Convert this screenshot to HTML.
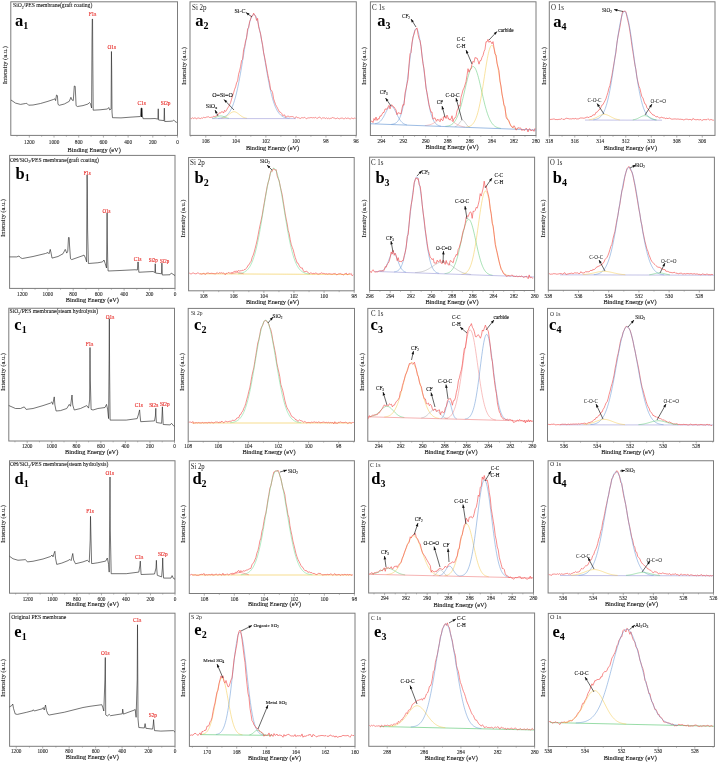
<!DOCTYPE html>
<html><head><meta charset="utf-8"><style>
html,body{margin:0;padding:0;background:#fff;}
svg{display:block;will-change:transform;}
text{font-family:"Liberation Serif", serif;}
</style></head><body>
<svg xmlns="http://www.w3.org/2000/svg" width="719" height="763" viewBox="0 0 719 763">
<rect x="0" y="0" width="719" height="763" fill="#fff"/>
<rect x="10.8" y="1.8" width="166.7" height="133.6" fill="none" stroke="#7c7c7c" stroke-width="1"/>
<line x1="29.32" y1="135.4" x2="29.32" y2="137.6" stroke="#7c7c7c" stroke-width="0.6"/>
<text x="0" y="0" transform="translate(29.32,144.3) scale(0.82,1)" font-size="6.4" text-anchor="middle" font-weight="normal" font-family='"Liberation Serif", serif' fill="#222" stroke="#222" stroke-width="0.1">1200</text>
<line x1="16.97" y1="135.4" x2="16.97" y2="136.8" stroke="#7c7c7c" stroke-width="0.5"/>
<line x1="54.02" y1="135.4" x2="54.02" y2="137.6" stroke="#7c7c7c" stroke-width="0.6"/>
<text x="0" y="0" transform="translate(54.02,144.3) scale(0.82,1)" font-size="6.4" text-anchor="middle" font-weight="normal" font-family='"Liberation Serif", serif' fill="#222" stroke="#222" stroke-width="0.1">1000</text>
<line x1="41.67" y1="135.4" x2="41.67" y2="136.8" stroke="#7c7c7c" stroke-width="0.5"/>
<line x1="78.71" y1="135.4" x2="78.71" y2="137.6" stroke="#7c7c7c" stroke-width="0.6"/>
<text x="0" y="0" transform="translate(78.71,144.3) scale(0.82,1)" font-size="6.4" text-anchor="middle" font-weight="normal" font-family='"Liberation Serif", serif' fill="#222" stroke="#222" stroke-width="0.1">800</text>
<line x1="66.37" y1="135.4" x2="66.37" y2="136.8" stroke="#7c7c7c" stroke-width="0.5"/>
<line x1="103.41" y1="135.4" x2="103.41" y2="137.6" stroke="#7c7c7c" stroke-width="0.6"/>
<text x="0" y="0" transform="translate(103.41,144.3) scale(0.82,1)" font-size="6.4" text-anchor="middle" font-weight="normal" font-family='"Liberation Serif", serif' fill="#222" stroke="#222" stroke-width="0.1">600</text>
<line x1="91.06" y1="135.4" x2="91.06" y2="136.8" stroke="#7c7c7c" stroke-width="0.5"/>
<line x1="128.11" y1="135.4" x2="128.11" y2="137.6" stroke="#7c7c7c" stroke-width="0.6"/>
<text x="0" y="0" transform="translate(128.11,144.3) scale(0.82,1)" font-size="6.4" text-anchor="middle" font-weight="normal" font-family='"Liberation Serif", serif' fill="#222" stroke="#222" stroke-width="0.1">400</text>
<line x1="115.76" y1="135.4" x2="115.76" y2="136.8" stroke="#7c7c7c" stroke-width="0.5"/>
<line x1="152.8" y1="135.4" x2="152.8" y2="137.6" stroke="#7c7c7c" stroke-width="0.6"/>
<text x="0" y="0" transform="translate(152.8,144.3) scale(0.82,1)" font-size="6.4" text-anchor="middle" font-weight="normal" font-family='"Liberation Serif", serif' fill="#222" stroke="#222" stroke-width="0.1">200</text>
<line x1="140.46" y1="135.4" x2="140.46" y2="136.8" stroke="#7c7c7c" stroke-width="0.5"/>
<line x1="177.5" y1="135.4" x2="177.5" y2="137.6" stroke="#7c7c7c" stroke-width="0.6"/>
<text x="0" y="0" transform="translate(177.5,144.3) scale(0.82,1)" font-size="6.4" text-anchor="middle" font-weight="normal" font-family='"Liberation Serif", serif' fill="#222" stroke="#222" stroke-width="0.1">0</text>
<line x1="165.15" y1="135.4" x2="165.15" y2="136.8" stroke="#7c7c7c" stroke-width="0.5"/>
<text x="0" y="0" transform="translate(94.15,152.3) scale(0.89,1)" font-size="7.1" text-anchor="middle" font-weight="normal" font-family='"Liberation Serif", serif' fill="#111" stroke="#111" stroke-width="0.12">Binding Energy (eV)</text>
<text x="0" y="0" font-size="6.5" text-anchor="middle" font-family='"Liberation Serif", serif' fill="#222" stroke="#222" stroke-width="0.12" transform="translate(7.4,65.2) rotate(-90) scale(1,0.92)">Intensity (a.u.)</text>
<text x="15.1" y="25.9" font-size="16.5" font-weight="bold" font-family='"Liberation Serif", serif' fill="#000">a<tspan font-size="10" dy="2.8">1</tspan></text>
<text x="0" y="0" transform="translate(13,7.4) scale(0.91,1)" font-size="6.2" font-family='"Liberation Serif", serif' fill="#111" stroke="#111" stroke-width="0.08">SiO<tspan font-size="4.03" dy="1.3">2</tspan><tspan dy="-1.3">/PES membrane(graft coating)</tspan></text>
<polyline points="11,100 15.5,103.1 20.5,104.4 25.5,103.5 26.8,103.3 28.6,105.2 33,105 40.5,103.5 48,101.3 53.6,99.4 54.9,98.8 55.6,100.6 56.5,95 57.4,95.6 58,104.4 59.3,105.3 64.3,104 69.3,101.3 70.9,97.3 72,100 73.3,100.6 74.3,86 75.2,86.3 76.1,105.6 77.4,106.5 83,105.6 88,104 89.5,102.5 90.5,103.8 91.6,108 92,40 92.25,19 92.55,19 92.8,60 93.2,110.2 100,109.8 107.5,109 108.75,107.5 109.75,110 111.1,109 111.45,51.5 111.7,70 112,112 112.5,117.7 121,117.9 130,117.2 140.5,116.5 141,108.2 142,108.2 142.4,116 143.1,118.7 150,118.7 155,118.5 157.9,119.1 158.25,108.8 158.6,120 164,120.6 164.35,108.1 164.7,121.5 170,121.3 172.5,121 173.75,120 175,121.5 176.9,122.5" fill="none" stroke="#2a2a2a" stroke-width="0.65" stroke-linejoin="round" opacity="1.0"/>
<rect x="141" y="108.2" width="1.1" height="8.8" fill="#111"/>
<text x="0" y="0" font-size="6.2" text-anchor="middle" font-family='"Liberation Serif", serif' fill="#e8322e" stroke="#e8322e" stroke-width="0.18" transform="translate(92.5,16.3) scale(0.85,1)">F1s</text>
<text x="0" y="0" font-size="6.2" text-anchor="middle" font-family='"Liberation Serif", serif' fill="#e8322e" stroke="#e8322e" stroke-width="0.18" transform="translate(111.8,48.8) scale(0.85,1)">O1s</text>
<text x="0" y="0" font-size="6.2" text-anchor="middle" font-family='"Liberation Serif", serif' fill="#e8322e" stroke="#e8322e" stroke-width="0.18" transform="translate(141.6,105.3) scale(0.85,1)">C1s</text>
<text x="0" y="0" font-size="6.2" text-anchor="middle" font-family='"Liberation Serif", serif' fill="#e8322e" stroke="#e8322e" stroke-width="0.18" transform="translate(165.6,105.3) scale(0.85,1)">Si2p</text>
<rect x="9.6" y="155.4" width="165.4" height="133" fill="none" stroke="#7c7c7c" stroke-width="1"/>
<line x1="22.32" y1="288.4" x2="22.32" y2="290.6" stroke="#7c7c7c" stroke-width="0.6"/>
<text x="0" y="0" transform="translate(22.32,295.7) scale(0.82,1)" font-size="6.4" text-anchor="middle" font-weight="normal" font-family='"Liberation Serif", serif' fill="#222" stroke="#222" stroke-width="0.1">1200</text>
<line x1="47.77" y1="288.4" x2="47.77" y2="290.6" stroke="#7c7c7c" stroke-width="0.6"/>
<text x="0" y="0" transform="translate(47.77,295.7) scale(0.82,1)" font-size="6.4" text-anchor="middle" font-weight="normal" font-family='"Liberation Serif", serif' fill="#222" stroke="#222" stroke-width="0.1">1000</text>
<line x1="35.05" y1="288.4" x2="35.05" y2="289.8" stroke="#7c7c7c" stroke-width="0.5"/>
<line x1="73.22" y1="288.4" x2="73.22" y2="290.6" stroke="#7c7c7c" stroke-width="0.6"/>
<text x="0" y="0" transform="translate(73.22,295.7) scale(0.82,1)" font-size="6.4" text-anchor="middle" font-weight="normal" font-family='"Liberation Serif", serif' fill="#222" stroke="#222" stroke-width="0.1">800</text>
<line x1="60.49" y1="288.4" x2="60.49" y2="289.8" stroke="#7c7c7c" stroke-width="0.5"/>
<line x1="98.66" y1="288.4" x2="98.66" y2="290.6" stroke="#7c7c7c" stroke-width="0.6"/>
<text x="0" y="0" transform="translate(98.66,295.7) scale(0.82,1)" font-size="6.4" text-anchor="middle" font-weight="normal" font-family='"Liberation Serif", serif' fill="#222" stroke="#222" stroke-width="0.1">600</text>
<line x1="85.94" y1="288.4" x2="85.94" y2="289.8" stroke="#7c7c7c" stroke-width="0.5"/>
<line x1="124.11" y1="288.4" x2="124.11" y2="290.6" stroke="#7c7c7c" stroke-width="0.6"/>
<text x="0" y="0" transform="translate(124.11,295.7) scale(0.82,1)" font-size="6.4" text-anchor="middle" font-weight="normal" font-family='"Liberation Serif", serif' fill="#222" stroke="#222" stroke-width="0.1">400</text>
<line x1="111.38" y1="288.4" x2="111.38" y2="289.8" stroke="#7c7c7c" stroke-width="0.5"/>
<line x1="149.55" y1="288.4" x2="149.55" y2="290.6" stroke="#7c7c7c" stroke-width="0.6"/>
<text x="0" y="0" transform="translate(149.55,295.7) scale(0.82,1)" font-size="6.4" text-anchor="middle" font-weight="normal" font-family='"Liberation Serif", serif' fill="#222" stroke="#222" stroke-width="0.1">200</text>
<line x1="136.83" y1="288.4" x2="136.83" y2="289.8" stroke="#7c7c7c" stroke-width="0.5"/>
<line x1="175" y1="288.4" x2="175" y2="290.6" stroke="#7c7c7c" stroke-width="0.6"/>
<text x="0" y="0" transform="translate(175,295.7) scale(0.82,1)" font-size="6.4" text-anchor="middle" font-weight="normal" font-family='"Liberation Serif", serif' fill="#222" stroke="#222" stroke-width="0.1">0</text>
<line x1="162.28" y1="288.4" x2="162.28" y2="289.8" stroke="#7c7c7c" stroke-width="0.5"/>
<text x="0" y="0" transform="translate(92.3,302.3) scale(0.89,1)" font-size="7.1" text-anchor="middle" font-weight="normal" font-family='"Liberation Serif", serif' fill="#111" stroke="#111" stroke-width="0.12">Binding Energy (eV)</text>
<text x="0" y="0" font-size="6.5" text-anchor="middle" font-family='"Liberation Serif", serif' fill="#222" stroke="#222" stroke-width="0.12" transform="translate(5.3,218) rotate(-90) scale(1,0.92)">Intensity (a.u.)</text>
<text x="15.6" y="178.5" font-size="16.5" font-weight="bold" font-family='"Liberation Serif", serif' fill="#000">b<tspan font-size="10" dy="2.8">1</tspan></text>
<text x="0" y="0" transform="translate(10,161.8) scale(0.91,1)" font-size="6.2" font-family='"Liberation Serif", serif' fill="#111" stroke="#111" stroke-width="0.08">OH/SiO<tspan font-size="4.03" dy="1.3">2</tspan><tspan dy="-1.3">/PES membrane(graft coating)</tspan></text>
<polyline points="9.5,256.9 16.75,256.9 19,256 20.5,257.75 22.4,258.5 33,256.5 45.5,253.5 48,252.5 49,253.75 50.25,249.4 51.1,253.1 52,258.1 58,256.5 63,253.75 65.25,249.4 66.75,253.1 67.75,251.25 68.5,237.5 69.2,237.5 69.5,245 70.5,258.75 71.75,259.6 83,255.6 84,255 85.5,258.1 86.6,261.9 86.9,200 87.1,175 87.35,190 87.6,230 88.4,263.5 97.9,262.75 102.5,261.9 104,260 105.25,263.75 106.5,268 106.85,240 107.1,213 107.35,240 107.7,260 108.1,271 120,270.5 135,269.75 137.4,270 137.8,262 138.3,262 138.8,272.25 153.1,271.5 154.9,272.5 155.25,263.75 155.6,273.1 161.5,273.75 161.9,263.1 162.3,275 170,274.75 171.25,273.1 175,275.6" fill="none" stroke="#2a2a2a" stroke-width="0.65" stroke-linejoin="round" opacity="1.0"/>
<text x="0" y="0" font-size="5.8" text-anchor="middle" font-family='"Liberation Serif", serif' fill="#e8322e" stroke="#e8322e" stroke-width="0.18" transform="translate(87.2,174.8) scale(0.85,1)">F1s</text>
<text x="0" y="0" font-size="5.8" text-anchor="middle" font-family='"Liberation Serif", serif' fill="#e8322e" stroke="#e8322e" stroke-width="0.18" transform="translate(106.5,212.8) scale(0.85,1)">O1s</text>
<text x="0" y="0" font-size="5.8" text-anchor="middle" font-family='"Liberation Serif", serif' fill="#e8322e" stroke="#e8322e" stroke-width="0.18" transform="translate(137.5,261.2) scale(0.85,1)">C1s</text>
<text x="0" y="0" font-size="5.8" text-anchor="middle" font-family='"Liberation Serif", serif' fill="#e8322e" stroke="#e8322e" stroke-width="0.18" transform="translate(153.2,262.2) scale(0.85,1)">Si2p</text>
<text x="0" y="0" font-size="5.8" text-anchor="middle" font-family='"Liberation Serif", serif' fill="#e8322e" stroke="#e8322e" stroke-width="0.18" transform="translate(164.6,262.5) scale(0.85,1)">Si2p</text>
<rect x="8.8" y="308.25" width="165.7" height="132.75" fill="none" stroke="#7c7c7c" stroke-width="1"/>
<line x1="27.21" y1="441" x2="27.21" y2="443.2" stroke="#7c7c7c" stroke-width="0.6"/>
<text x="0" y="0" transform="translate(27.21,448.2) scale(0.82,1)" font-size="6.4" text-anchor="middle" font-weight="normal" font-family='"Liberation Serif", serif' fill="#222" stroke="#222" stroke-width="0.1">1200</text>
<line x1="14.94" y1="441" x2="14.94" y2="442.4" stroke="#7c7c7c" stroke-width="0.5"/>
<line x1="51.76" y1="441" x2="51.76" y2="443.2" stroke="#7c7c7c" stroke-width="0.6"/>
<text x="0" y="0" transform="translate(51.76,448.2) scale(0.82,1)" font-size="6.4" text-anchor="middle" font-weight="normal" font-family='"Liberation Serif", serif' fill="#222" stroke="#222" stroke-width="0.1">1000</text>
<line x1="39.49" y1="441" x2="39.49" y2="442.4" stroke="#7c7c7c" stroke-width="0.5"/>
<line x1="76.31" y1="441" x2="76.31" y2="443.2" stroke="#7c7c7c" stroke-width="0.6"/>
<text x="0" y="0" transform="translate(76.31,448.2) scale(0.82,1)" font-size="6.4" text-anchor="middle" font-weight="normal" font-family='"Liberation Serif", serif' fill="#222" stroke="#222" stroke-width="0.1">800</text>
<line x1="64.03" y1="441" x2="64.03" y2="442.4" stroke="#7c7c7c" stroke-width="0.5"/>
<line x1="100.86" y1="441" x2="100.86" y2="443.2" stroke="#7c7c7c" stroke-width="0.6"/>
<text x="0" y="0" transform="translate(100.86,448.2) scale(0.82,1)" font-size="6.4" text-anchor="middle" font-weight="normal" font-family='"Liberation Serif", serif' fill="#222" stroke="#222" stroke-width="0.1">600</text>
<line x1="88.58" y1="441" x2="88.58" y2="442.4" stroke="#7c7c7c" stroke-width="0.5"/>
<line x1="125.4" y1="441" x2="125.4" y2="443.2" stroke="#7c7c7c" stroke-width="0.6"/>
<text x="0" y="0" transform="translate(125.4,448.2) scale(0.82,1)" font-size="6.4" text-anchor="middle" font-weight="normal" font-family='"Liberation Serif", serif' fill="#222" stroke="#222" stroke-width="0.1">400</text>
<line x1="113.13" y1="441" x2="113.13" y2="442.4" stroke="#7c7c7c" stroke-width="0.5"/>
<line x1="149.95" y1="441" x2="149.95" y2="443.2" stroke="#7c7c7c" stroke-width="0.6"/>
<text x="0" y="0" transform="translate(149.95,448.2) scale(0.82,1)" font-size="6.4" text-anchor="middle" font-weight="normal" font-family='"Liberation Serif", serif' fill="#222" stroke="#222" stroke-width="0.1">200</text>
<line x1="137.68" y1="441" x2="137.68" y2="442.4" stroke="#7c7c7c" stroke-width="0.5"/>
<line x1="174.5" y1="441" x2="174.5" y2="443.2" stroke="#7c7c7c" stroke-width="0.6"/>
<text x="0" y="0" transform="translate(174.5,448.2) scale(0.82,1)" font-size="6.4" text-anchor="middle" font-weight="normal" font-family='"Liberation Serif", serif' fill="#222" stroke="#222" stroke-width="0.1">0</text>
<line x1="162.23" y1="441" x2="162.23" y2="442.4" stroke="#7c7c7c" stroke-width="0.5"/>
<text x="0" y="0" transform="translate(91.65,454.1) scale(0.89,1)" font-size="7.1" text-anchor="middle" font-weight="normal" font-family='"Liberation Serif", serif' fill="#111" stroke="#111" stroke-width="0.12">Binding Energy (eV)</text>
<text x="0" y="0" font-size="6.5" text-anchor="middle" font-family='"Liberation Serif", serif' fill="#222" stroke="#222" stroke-width="0.12" transform="translate(4.8,372) rotate(-90) scale(1,0.92)">Intensity (a.u.)</text>
<text x="14.3" y="329.8" font-size="16.5" font-weight="bold" font-family='"Liberation Serif", serif' fill="#000">c<tspan font-size="10" dy="2.8">1</tspan></text>
<text x="0" y="0" transform="translate(9.5,313.3) scale(0.91,1)" font-size="6.2" font-family='"Liberation Serif", serif' fill="#111" stroke="#111" stroke-width="0.08">SiO<tspan font-size="4.03" dy="1.3">2</tspan><tspan dy="-1.3">/PES membrane(steam hydrolysis)</tspan></text>
<polyline points="8.75,405.5 15.5,408.5 20.5,408.5 24.25,406.9 26.1,409.4 33,408.5 43,405.6 50.5,403.1 51.75,401.9 52.75,404.4 54.25,396.9 54.9,405 56.1,411 60.5,410.6 66.75,408.5 69.25,404.4 70.5,406.25 72,395 72.75,405 74.25,410 80.5,408.5 86.75,405.6 88.6,408.1 89.6,400 90,347.5 90.3,380 91.1,409.4 93,410 97.9,408.5 105,407.5 106.5,404.4 107.6,409.1 108.6,418.6 109.1,360 109.35,318.7 109.6,370 110.1,420.1 126.2,420.1 137.2,418.6 138.6,414 139.6,409.9 140,415 140.7,421.7 154.5,420.9 155.4,416 155.8,408.3 156,416 156.4,422.5 161.6,423.3 162.1,414 162.4,406.8 162.7,414 163.2,424.5 170.2,424.9 171.5,423.3 173.4,425.6 174.5,426.25" fill="none" stroke="#2a2a2a" stroke-width="0.65" stroke-linejoin="round" opacity="1.0"/>
<text x="0" y="0" font-size="6.2" text-anchor="middle" font-family='"Liberation Serif", serif' fill="#e8322e" stroke="#e8322e" stroke-width="0.18" transform="translate(110,319.4) scale(0.85,1)">O1s</text>
<text x="0" y="0" font-size="6.2" text-anchor="middle" font-family='"Liberation Serif", serif' fill="#e8322e" stroke="#e8322e" stroke-width="0.18" transform="translate(89.5,345.6) scale(0.85,1)">F1s</text>
<text x="0" y="0" font-size="6.2" text-anchor="middle" font-family='"Liberation Serif", serif' fill="#e8322e" stroke="#e8322e" stroke-width="0.18" transform="translate(138.8,407) scale(0.85,1)">C1s</text>
<text x="0" y="0" font-size="6.2" text-anchor="middle" font-family='"Liberation Serif", serif' fill="#e8322e" stroke="#e8322e" stroke-width="0.18" transform="translate(153.7,406.7) scale(0.85,1)">Si2s</text>
<text x="0" y="0" font-size="6.2" text-anchor="middle" font-family='"Liberation Serif", serif' fill="#e8322e" stroke="#e8322e" stroke-width="0.18" transform="translate(164.7,406.2) scale(0.85,1)">Si2p</text>
<rect x="9.5" y="460.75" width="165.5" height="132.45" fill="none" stroke="#7c7c7c" stroke-width="1"/>
<line x1="27.89" y1="593.2" x2="27.89" y2="595.4" stroke="#7c7c7c" stroke-width="0.6"/>
<text x="0" y="0" transform="translate(27.89,600.7) scale(0.82,1)" font-size="6.4" text-anchor="middle" font-weight="normal" font-family='"Liberation Serif", serif' fill="#222" stroke="#222" stroke-width="0.1">1200</text>
<line x1="15.63" y1="593.2" x2="15.63" y2="594.6" stroke="#7c7c7c" stroke-width="0.5"/>
<line x1="52.41" y1="593.2" x2="52.41" y2="595.4" stroke="#7c7c7c" stroke-width="0.6"/>
<text x="0" y="0" transform="translate(52.41,600.7) scale(0.82,1)" font-size="6.4" text-anchor="middle" font-weight="normal" font-family='"Liberation Serif", serif' fill="#222" stroke="#222" stroke-width="0.1">1000</text>
<line x1="40.15" y1="593.2" x2="40.15" y2="594.6" stroke="#7c7c7c" stroke-width="0.5"/>
<line x1="76.93" y1="593.2" x2="76.93" y2="595.4" stroke="#7c7c7c" stroke-width="0.6"/>
<text x="0" y="0" transform="translate(76.93,600.7) scale(0.82,1)" font-size="6.4" text-anchor="middle" font-weight="normal" font-family='"Liberation Serif", serif' fill="#222" stroke="#222" stroke-width="0.1">800</text>
<line x1="64.67" y1="593.2" x2="64.67" y2="594.6" stroke="#7c7c7c" stroke-width="0.5"/>
<line x1="101.44" y1="593.2" x2="101.44" y2="595.4" stroke="#7c7c7c" stroke-width="0.6"/>
<text x="0" y="0" transform="translate(101.44,600.7) scale(0.82,1)" font-size="6.4" text-anchor="middle" font-weight="normal" font-family='"Liberation Serif", serif' fill="#222" stroke="#222" stroke-width="0.1">600</text>
<line x1="89.19" y1="593.2" x2="89.19" y2="594.6" stroke="#7c7c7c" stroke-width="0.5"/>
<line x1="125.96" y1="593.2" x2="125.96" y2="595.4" stroke="#7c7c7c" stroke-width="0.6"/>
<text x="0" y="0" transform="translate(125.96,600.7) scale(0.82,1)" font-size="6.4" text-anchor="middle" font-weight="normal" font-family='"Liberation Serif", serif' fill="#222" stroke="#222" stroke-width="0.1">400</text>
<line x1="113.7" y1="593.2" x2="113.7" y2="594.6" stroke="#7c7c7c" stroke-width="0.5"/>
<line x1="150.48" y1="593.2" x2="150.48" y2="595.4" stroke="#7c7c7c" stroke-width="0.6"/>
<text x="0" y="0" transform="translate(150.48,600.7) scale(0.82,1)" font-size="6.4" text-anchor="middle" font-weight="normal" font-family='"Liberation Serif", serif' fill="#222" stroke="#222" stroke-width="0.1">200</text>
<line x1="138.22" y1="593.2" x2="138.22" y2="594.6" stroke="#7c7c7c" stroke-width="0.5"/>
<line x1="175" y1="593.2" x2="175" y2="595.4" stroke="#7c7c7c" stroke-width="0.6"/>
<text x="0" y="0" transform="translate(175,600.7) scale(0.82,1)" font-size="6.4" text-anchor="middle" font-weight="normal" font-family='"Liberation Serif", serif' fill="#222" stroke="#222" stroke-width="0.1">0</text>
<line x1="162.74" y1="593.2" x2="162.74" y2="594.6" stroke="#7c7c7c" stroke-width="0.5"/>
<text x="0" y="0" transform="translate(92.25,606.3) scale(0.89,1)" font-size="7.1" text-anchor="middle" font-weight="normal" font-family='"Liberation Serif", serif' fill="#111" stroke="#111" stroke-width="0.12">Binding Energy (eV)</text>
<text x="0" y="0" font-size="6.5" text-anchor="middle" font-family='"Liberation Serif", serif' fill="#222" stroke="#222" stroke-width="0.12" transform="translate(5.3,524) rotate(-90) scale(1,0.92)">Intensity (a.u.)</text>
<text x="14.6" y="483.9" font-size="16.5" font-weight="bold" font-family='"Liberation Serif", serif' fill="#000">d<tspan font-size="10" dy="2.8">1</tspan></text>
<text x="0" y="0" transform="translate(10,466.3) scale(0.91,1)" font-size="6.2" font-family='"Liberation Serif", serif' fill="#111" stroke="#111" stroke-width="0.08">OH/SiO<tspan font-size="4.03" dy="1.3">2</tspan><tspan dy="-1.3">/PES membrane(steam hydrolysis)</tspan></text>
<polyline points="9.5,556.25 13,558.75 18,560.25 24.25,559.75 25.25,559.4 27.4,561.9 33,561.25 43,559 50.5,556.5 52,555 53,556.9 54,553.5 54.9,551.25 55.5,558.1 56.75,564.4 61.75,563.1 68,560.6 69.9,559.4 71.1,560.6 72.75,553.5 73.6,560 75.5,563.75 83,561.9 87.4,560.25 89.25,562.25 90.2,540 90.5,516.3 90.8,530 91.6,563.5 93,563.5 97.9,562.75 105.7,561.1 107.3,558 108.6,564.3 109.2,572.1 109.7,520 110,477 110.3,530 111.2,573.7 126.2,573.7 138.8,572.1 139.8,566 140.3,561.1 140.6,567 141.1,574.5 154.5,574 156,568 156.4,560.3 156.7,568 157.3,575.3 161.6,576.9 162.4,568 162.7,558 163,568 163.6,578.1 171,578.1 172.1,575.6 173.4,578.4 175,579.2" fill="none" stroke="#2a2a2a" stroke-width="0.65" stroke-linejoin="round" opacity="1.0"/>
<text x="0" y="0" font-size="6.2" text-anchor="middle" font-family='"Liberation Serif", serif' fill="#e8322e" stroke="#e8322e" stroke-width="0.18" transform="translate(109.7,474.5) scale(0.85,1)">O1s</text>
<text x="0" y="0" font-size="6.2" text-anchor="middle" font-family='"Liberation Serif", serif' fill="#e8322e" stroke="#e8322e" stroke-width="0.18" transform="translate(90,513.3) scale(0.85,1)">F1s</text>
<text x="0" y="0" font-size="6.2" text-anchor="middle" font-family='"Liberation Serif", serif' fill="#e8322e" stroke="#e8322e" stroke-width="0.18" transform="translate(139.1,559) scale(0.85,1)">C1s</text>
<text x="0" y="0" font-size="6.2" text-anchor="middle" font-family='"Liberation Serif", serif' fill="#e8322e" stroke="#e8322e" stroke-width="0.18" transform="translate(162.7,556.3) scale(0.85,1)">Si2p</text>
<rect x="9.6" y="613.2" width="165.4" height="133.1" fill="none" stroke="#7c7c7c" stroke-width="1"/>
<line x1="16.22" y1="746.3" x2="16.22" y2="748.5" stroke="#7c7c7c" stroke-width="0.6"/>
<text x="0" y="0" transform="translate(16.22,753.4) scale(0.82,1)" font-size="6.4" text-anchor="middle" font-weight="normal" font-family='"Liberation Serif", serif' fill="#222" stroke="#222" stroke-width="0.1">1200</text>
<line x1="42.68" y1="746.3" x2="42.68" y2="748.5" stroke="#7c7c7c" stroke-width="0.6"/>
<text x="0" y="0" transform="translate(42.68,753.4) scale(0.82,1)" font-size="6.4" text-anchor="middle" font-weight="normal" font-family='"Liberation Serif", serif' fill="#222" stroke="#222" stroke-width="0.1">1000</text>
<line x1="29.45" y1="746.3" x2="29.45" y2="747.7" stroke="#7c7c7c" stroke-width="0.5"/>
<line x1="69.14" y1="746.3" x2="69.14" y2="748.5" stroke="#7c7c7c" stroke-width="0.6"/>
<text x="0" y="0" transform="translate(69.14,753.4) scale(0.82,1)" font-size="6.4" text-anchor="middle" font-weight="normal" font-family='"Liberation Serif", serif' fill="#222" stroke="#222" stroke-width="0.1">800</text>
<line x1="55.91" y1="746.3" x2="55.91" y2="747.7" stroke="#7c7c7c" stroke-width="0.5"/>
<line x1="95.61" y1="746.3" x2="95.61" y2="748.5" stroke="#7c7c7c" stroke-width="0.6"/>
<text x="0" y="0" transform="translate(95.61,753.4) scale(0.82,1)" font-size="6.4" text-anchor="middle" font-weight="normal" font-family='"Liberation Serif", serif' fill="#222" stroke="#222" stroke-width="0.1">600</text>
<line x1="82.38" y1="746.3" x2="82.38" y2="747.7" stroke="#7c7c7c" stroke-width="0.5"/>
<line x1="122.07" y1="746.3" x2="122.07" y2="748.5" stroke="#7c7c7c" stroke-width="0.6"/>
<text x="0" y="0" transform="translate(122.07,753.4) scale(0.82,1)" font-size="6.4" text-anchor="middle" font-weight="normal" font-family='"Liberation Serif", serif' fill="#222" stroke="#222" stroke-width="0.1">400</text>
<line x1="108.84" y1="746.3" x2="108.84" y2="747.7" stroke="#7c7c7c" stroke-width="0.5"/>
<line x1="148.54" y1="746.3" x2="148.54" y2="748.5" stroke="#7c7c7c" stroke-width="0.6"/>
<text x="0" y="0" transform="translate(148.54,753.4) scale(0.82,1)" font-size="6.4" text-anchor="middle" font-weight="normal" font-family='"Liberation Serif", serif' fill="#222" stroke="#222" stroke-width="0.1">200</text>
<line x1="135.3" y1="746.3" x2="135.3" y2="747.7" stroke="#7c7c7c" stroke-width="0.5"/>
<line x1="175" y1="746.3" x2="175" y2="748.5" stroke="#7c7c7c" stroke-width="0.6"/>
<text x="0" y="0" transform="translate(175,753.4) scale(0.82,1)" font-size="6.4" text-anchor="middle" font-weight="normal" font-family='"Liberation Serif", serif' fill="#222" stroke="#222" stroke-width="0.1">0</text>
<line x1="161.77" y1="746.3" x2="161.77" y2="747.7" stroke="#7c7c7c" stroke-width="0.5"/>
<text x="0" y="0" transform="translate(92.3,759) scale(0.89,1)" font-size="7.1" text-anchor="middle" font-weight="normal" font-family='"Liberation Serif", serif' fill="#111" stroke="#111" stroke-width="0.12">Binding Energy (eV)</text>
<text x="0" y="0" font-size="6.5" text-anchor="middle" font-family='"Liberation Serif", serif' fill="#222" stroke="#222" stroke-width="0.12" transform="translate(5.3,678) rotate(-90) scale(1,0.92)">Intensity (a.u.)</text>
<text x="14.3" y="636.7" font-size="16.5" font-weight="bold" font-family='"Liberation Serif", serif' fill="#000">e<tspan font-size="10" dy="2.8">1</tspan></text>
<text x="0" y="0" transform="translate(11.25,618.8) scale(0.91,1)" font-size="6.2" font-family='"Liberation Serif", serif' fill="#111" stroke="#111" stroke-width="0.08">Original PES membrane</text>
<polyline points="9.5,706.9 11.75,705.6 12.75,704 13.6,708.75 15.25,714 17.4,714.4 26.75,712.25 33,710.6 33.4,709.75 34.25,711 42.4,708.75 43.25,707.5 44.25,710 45.5,705 46.5,710.6 48,714.4 49.25,715 64.25,712.25 83,707.5 90,706.3 101.8,704.7 102.9,707.8 103.8,711 104.9,680 105.3,657.5 105.6,690 105.7,714.9 107.3,716 109.2,714.4 110.5,715.7 122.3,713.8 122.7,709.1 123.4,714.1 134,710.2 135.2,709.4 136.1,717.3 137.2,680 137.5,624.8 137.8,680 138,718.8 138.8,727.5 144.3,728 145.1,723.6 145.9,728.3 152.6,729.1 153.3,724 153.6,719.6 153.9,724 154.5,730.6 160.8,731.1 173.4,730.6 175,732.2" fill="none" stroke="#2a2a2a" stroke-width="0.65" stroke-linejoin="round" opacity="1.0"/>
<text x="0" y="0" font-size="6.2" text-anchor="middle" font-family='"Liberation Serif", serif' fill="#e8322e" stroke="#e8322e" stroke-width="0.18" transform="translate(137.2,621.8) scale(0.85,1)">C1s</text>
<text x="0" y="0" font-size="6.2" text-anchor="middle" font-family='"Liberation Serif", serif' fill="#e8322e" stroke="#e8322e" stroke-width="0.18" transform="translate(105.3,655.3) scale(0.85,1)">O1s</text>
<text x="0" y="0" font-size="6.2" text-anchor="middle" font-family='"Liberation Serif", serif' fill="#e8322e" stroke="#e8322e" stroke-width="0.18" transform="translate(152.9,717.2) scale(0.85,1)">S2p</text>
<rect x="190" y="1.8" width="166.3" height="133.6" fill="none" stroke="#7c7c7c" stroke-width="1"/>
<line x1="205.77" y1="135.4" x2="205.77" y2="137.6" stroke="#7c7c7c" stroke-width="0.6"/>
<text x="0" y="0" transform="translate(205.77,142.9) scale(0.82,1)" font-size="6.4" text-anchor="middle" font-weight="normal" font-family='"Liberation Serif", serif' fill="#222" stroke="#222" stroke-width="0.1">106</text>
<line x1="190.75" y1="135.4" x2="190.75" y2="136.8" stroke="#7c7c7c" stroke-width="0.5"/>
<line x1="235.82" y1="135.4" x2="235.82" y2="137.6" stroke="#7c7c7c" stroke-width="0.6"/>
<text x="0" y="0" transform="translate(235.82,142.9) scale(0.82,1)" font-size="6.4" text-anchor="middle" font-weight="normal" font-family='"Liberation Serif", serif' fill="#222" stroke="#222" stroke-width="0.1">104</text>
<line x1="220.8" y1="135.4" x2="220.8" y2="136.8" stroke="#7c7c7c" stroke-width="0.5"/>
<line x1="265.86" y1="135.4" x2="265.86" y2="137.6" stroke="#7c7c7c" stroke-width="0.6"/>
<text x="0" y="0" transform="translate(265.86,142.9) scale(0.82,1)" font-size="6.4" text-anchor="middle" font-weight="normal" font-family='"Liberation Serif", serif' fill="#222" stroke="#222" stroke-width="0.1">102</text>
<line x1="250.84" y1="135.4" x2="250.84" y2="136.8" stroke="#7c7c7c" stroke-width="0.5"/>
<line x1="295.91" y1="135.4" x2="295.91" y2="137.6" stroke="#7c7c7c" stroke-width="0.6"/>
<text x="0" y="0" transform="translate(295.91,142.9) scale(0.82,1)" font-size="6.4" text-anchor="middle" font-weight="normal" font-family='"Liberation Serif", serif' fill="#222" stroke="#222" stroke-width="0.1">100</text>
<line x1="280.89" y1="135.4" x2="280.89" y2="136.8" stroke="#7c7c7c" stroke-width="0.5"/>
<line x1="325.95" y1="135.4" x2="325.95" y2="137.6" stroke="#7c7c7c" stroke-width="0.6"/>
<text x="0" y="0" transform="translate(325.95,142.9) scale(0.82,1)" font-size="6.4" text-anchor="middle" font-weight="normal" font-family='"Liberation Serif", serif' fill="#222" stroke="#222" stroke-width="0.1">98</text>
<line x1="310.93" y1="135.4" x2="310.93" y2="136.8" stroke="#7c7c7c" stroke-width="0.5"/>
<line x1="356" y1="135.4" x2="356" y2="137.6" stroke="#7c7c7c" stroke-width="0.6"/>
<text x="0" y="0" transform="translate(356,142.9) scale(0.82,1)" font-size="6.4" text-anchor="middle" font-weight="normal" font-family='"Liberation Serif", serif' fill="#222" stroke="#222" stroke-width="0.1">96</text>
<line x1="340.98" y1="135.4" x2="340.98" y2="136.8" stroke="#7c7c7c" stroke-width="0.5"/>
<text x="0" y="0" transform="translate(272.5,149.7) scale(0.89,1)" font-size="7.1" text-anchor="middle" font-weight="normal" font-family='"Liberation Serif", serif' fill="#111" stroke="#111" stroke-width="0.12">Binding Energy (eV)</text>
<text x="0" y="0" font-size="6.5" text-anchor="middle" font-family='"Liberation Serif", serif' fill="#222" stroke="#222" stroke-width="0.12" transform="translate(185.6,66) rotate(-90) scale(1,0.92)">Intensity (a.u.)</text>
<text x="195.3" y="25.9" font-size="16.5" font-weight="bold" font-family='"Liberation Serif", serif' fill="#000">a<tspan font-size="10" dy="2.8">2</tspan></text>
<text x="0" y="0" transform="translate(192,10.2) scale(0.88,1)" font-size="8.0" text-anchor="start" font-weight="normal" font-family='"Liberation Serif", serif' fill="#222" >Si 2p</text>
<polyline points="218,118.35 218.5,118.3 219,118.25 219.5,118.18 220,118.11 220.5,118.03 221,117.93 221.5,117.82 222,117.7 222.5,117.55 223,117.39 223.5,117.2 224,116.99 224.5,116.75 225,116.48 225.5,116.18 226,115.84 226.5,115.45 227,115.03 227.5,114.55 228,114.03 228.5,113.45 229,112.8 229.5,112.09 230,111.32 230.5,110.46 231,109.53 231.5,108.52 232,107.42 232.5,106.23 233,104.95 233.5,103.56 234,102.08 234.5,100.49 235,98.8 235.5,96.99 236,95.08 236.5,93.06 237,90.94 237.5,88.7 238,86.36 238.5,83.92 239,81.38 239.5,78.75 240,76.03 240.5,73.23 241,70.37 241.5,67.44 242,64.46 242.5,61.44 243,58.4 243.5,55.34 244,52.29 244.5,49.24 245,46.23 245.5,43.27 246,40.37 246.5,37.54 247,34.82 247.5,32.2 248,29.71 248.5,27.36 249,25.17 249.5,23.16 250,21.32 250.5,19.69 251,18.26 251.5,17.05 252,16.07 252.5,15.32 253,14.81 253.5,14.54 254,14.52 254.5,14.74 255,15.2 255.5,15.9 256,16.84 256.5,18 257,19.39 257.5,20.98 258,22.77 258.5,24.76 259,26.91 259.5,29.23 260,31.69 260.5,34.28 261,36.99 261.5,39.8 262,42.68 262.5,45.64 263,48.64 263.5,51.68 264,54.73 264.5,57.79 265,60.84 265.5,63.86 266,66.85 266.5,69.78 267,72.66 267.5,75.48 268,78.21 268.5,80.86 269,83.42 269.5,85.88 270,88.24 270.5,90.5 271,92.65 271.5,94.69 272,96.62 272.5,98.45 273,100.16 273.5,101.77 274,103.28 274.5,104.68 275,105.98 275.5,107.19 276,108.31 276.5,109.34 277,110.28 277.5,111.15 278,111.94 278.5,112.67 279,113.32 279.5,113.92 280,114.45 280.5,114.94 281,115.37 281.5,115.76 282,116.11 282.5,116.42 283,116.7 283.5,116.95 284,117.16 284.5,117.35 285,117.52 285.5,117.67 286,117.8 286.5,117.91 287,118.01 287.5,118.1 288,118.17 288.5,118.24 289,118.29 289.5,118.34" fill="none" stroke="#5a8fd0" stroke-width="0.5" stroke-linejoin="round" opacity="1.0"/>
<polyline points="221,118.35 221.5,118.28 222,118.19 222.5,118.08 223,117.96 223.5,117.81 224,117.63 224.5,117.43 225,117.2 225.5,116.94 226,116.65 226.5,116.33 227,115.99 227.5,115.62 228,115.23 228.5,114.83 229,114.42 229.5,114.01 230,113.61 230.5,113.22 231,112.87 231.5,112.54 232,112.26 232.5,112.03 233,111.86 233.5,111.75 234,111.7 234.5,111.72 235,111.81 235.5,111.96 236,112.16 236.5,112.42 237,112.73 237.5,113.08 238,113.45 238.5,113.85 239,114.25 239.5,114.66 240,115.07 240.5,115.46 241,115.84 241.5,116.2 242,116.53 242.5,116.83 243,117.1 243.5,117.34 244,117.55 244.5,117.74 245,117.9 245.5,118.03 246,118.15 246.5,118.24 247,118.32" fill="none" stroke="#f2c744" stroke-width="0.5" stroke-linejoin="round" opacity="1.0"/>
<polyline points="212.5,118.33 213,118.25 213.5,118.14 214,118.02 214.5,117.88 215,117.71 215.5,117.53 216,117.33 216.5,117.12 217,116.91 217.5,116.7 218,116.5 218.5,116.31 219,116.15 219.5,116.03 220,115.94 220.5,115.9 221,115.91 221.5,115.96 222,116.05 222.5,116.18 223,116.35 223.5,116.54 224,116.74 224.5,116.95 225,117.17 225.5,117.37 226,117.57 226.5,117.75 227,117.91 227.5,118.05 228,118.16 228.5,118.26 229,118.34" fill="none" stroke="#52c46c" stroke-width="0.5" stroke-linejoin="round" opacity="1.0"/>
<polyline points="212,118.6 296,118.6" fill="none" stroke="#9c9ad6" stroke-width="0.6" stroke-linejoin="round" opacity="1.0"/>
<polyline points="190.6,118.18 191.6,118.78 192.6,117.61 193.6,118.61 194.6,117.93 195.6,117.91 196.6,119.05 197.6,118.1 198.6,117.97 199.6,118.36 200.6,118.55 201.6,117.91 202.6,118.21 203.6,117.34 204.6,117.64 205.6,117.57 206.6,117.05 207.6,116.91 208.6,116.79 209.6,117.49 210.6,117.43 211.6,117.22 212.6,117.25 213.6,116.18 214.6,116.54 215.6,116.27 216.6,116.05 217.6,114.49 218.6,114.19 219.6,112.62 220.6,113.13 221.6,111.65 222.6,111.8 223.6,113.05 224.6,110.29 225.6,111.5 226.6,110.05 227.6,108.11 228.6,106.82 229.6,104.7 230.6,102.64 231.6,98.95 232.6,95.79 233.6,92.77 234.6,89.3 235.6,86.87 236.6,82.79 237.6,80.88 238.6,74.24 239.6,70.78 240.6,66.4 241.6,60.4 242.6,59.43 243.6,49.58 244.6,46.43 245.6,40.76 246.6,37.97 247.6,28.83 248.6,27.83 249.6,21.73 250.6,19.11 251.6,15.99 252.6,15.96 253.6,13.13 254.6,14.71 255.6,16.49 256.6,20.44 257.6,18.38 258.6,26.8 259.6,30.51 260.6,33.79 261.6,40.01 262.6,44.76 263.6,52.8 264.6,57.06 265.6,62.38 266.6,67.99 267.6,73.42 268.6,78.57 269.6,82.73 270.6,89.76 271.6,90.38 272.6,92.7 273.6,98.85 274.6,101.73 275.6,104.66 276.6,106.43 277.6,108.37 278.6,110.31 279.6,112.1 280.6,112.29 281.6,113.29 282.6,115.53 283.6,115.28 284.6,114.87 285.6,117.29 286.6,116.7 287.6,116.18 288.6,116.07 289.6,117.1 290.6,116.61 291.6,116.61 292.6,116.58 293.6,117.11 294.6,118.09 295.6,117.29 296.6,116.79 297.6,118.01 298.6,117.72 299.6,118.19 300.6,118.42 301.6,117.7 302.6,117.75 303.6,117.83 304.6,117.27 305.6,118.27 306.6,118.68 307.6,118.05 308.6,117.85 309.6,117.86 310.6,117.61 311.6,117.61 312.6,117.85 313.6,117.63 314.6,117.86 315.6,117.27 316.6,118.31 317.6,118.16 318.6,117.54 319.6,116.95 320.6,118.17 321.6,118.77 322.6,117.82 323.6,117.96 324.6,117.92 325.6,118.57 326.6,117.76 327.6,118.77 328.6,118.1 329.6,118.75 330.6,118.29 331.6,118.17 332.6,117.52 333.6,117.94 334.6,118.17 335.6,118.66 336.6,118.45 337.6,117.97 338.6,118.55 339.6,118.85 340.6,118.27 341.6,118.13 342.6,118.15 343.6,118.78 344.6,118.64 345.6,117.89 346.6,118.57 347.6,118.14 348.6,118 349.6,119.03 350.6,118.82 351.6,118.03 352.6,118.44 353.6,118.66 354.6,118.08 355.6,118.35" fill="none" stroke="#f24f4f" stroke-width="0.65" stroke-linejoin="round" opacity="1.0"/>
<text x="240" y="13.4" font-size="6.0" text-anchor="middle" font-weight="normal" font-family='"Liberation Sans", sans-serif' fill="#111" stroke="#111" stroke-width="0.12">Si-C</text>
<text x="222.5" y="97.2" font-size="6.0" text-anchor="middle" font-weight="normal" font-family='"Liberation Sans", sans-serif' fill="#111" stroke="#111" stroke-width="0.12">O=Si=O</text>
<text x="211.5" y="108.2" font-size="6.0" text-anchor="middle" font-family='"Liberation Sans", sans-serif' fill="#111" stroke="#111" stroke-width="0.1" font-weight="normal">SiO<tspan font-size="3.9" dy="1">x</tspan></text>
<line x1="252" y1="17" x2="246" y2="12.5" stroke="#111" stroke-width="0.65"/>
<polygon points="246,12.5 249.5,13.5 247.94,15.58" fill="#111"/>
<line x1="234" y1="110" x2="224" y2="99.5" stroke="#111" stroke-width="0.65"/>
<polygon points="224,99.5 227.29,101.07 225.4,102.86" fill="#111"/>
<line x1="218" y1="116" x2="215" y2="110" stroke="#111" stroke-width="0.65"/>
<polygon points="215,110 217.68,112.46 215.36,113.62" fill="#111"/>
<rect x="370.4" y="1.8" width="165.6" height="133.7" fill="none" stroke="#7c7c7c" stroke-width="1"/>
<line x1="381.44" y1="135.5" x2="381.44" y2="137.7" stroke="#7c7c7c" stroke-width="0.6"/>
<text x="0" y="0" transform="translate(381.44,142.9) scale(0.82,1)" font-size="6.4" text-anchor="middle" font-weight="normal" font-family='"Liberation Serif", serif' fill="#222" stroke="#222" stroke-width="0.1">294</text>
<line x1="403.52" y1="135.5" x2="403.52" y2="137.7" stroke="#7c7c7c" stroke-width="0.6"/>
<text x="0" y="0" transform="translate(403.52,142.9) scale(0.82,1)" font-size="6.4" text-anchor="middle" font-weight="normal" font-family='"Liberation Serif", serif' fill="#222" stroke="#222" stroke-width="0.1">292</text>
<line x1="392.48" y1="135.5" x2="392.48" y2="136.9" stroke="#7c7c7c" stroke-width="0.5"/>
<line x1="425.6" y1="135.5" x2="425.6" y2="137.7" stroke="#7c7c7c" stroke-width="0.6"/>
<text x="0" y="0" transform="translate(425.6,142.9) scale(0.82,1)" font-size="6.4" text-anchor="middle" font-weight="normal" font-family='"Liberation Serif", serif' fill="#222" stroke="#222" stroke-width="0.1">290</text>
<line x1="414.56" y1="135.5" x2="414.56" y2="136.9" stroke="#7c7c7c" stroke-width="0.5"/>
<line x1="447.68" y1="135.5" x2="447.68" y2="137.7" stroke="#7c7c7c" stroke-width="0.6"/>
<text x="0" y="0" transform="translate(447.68,142.9) scale(0.82,1)" font-size="6.4" text-anchor="middle" font-weight="normal" font-family='"Liberation Serif", serif' fill="#222" stroke="#222" stroke-width="0.1">288</text>
<line x1="436.64" y1="135.5" x2="436.64" y2="136.9" stroke="#7c7c7c" stroke-width="0.5"/>
<line x1="469.76" y1="135.5" x2="469.76" y2="137.7" stroke="#7c7c7c" stroke-width="0.6"/>
<text x="0" y="0" transform="translate(469.76,142.9) scale(0.82,1)" font-size="6.4" text-anchor="middle" font-weight="normal" font-family='"Liberation Serif", serif' fill="#222" stroke="#222" stroke-width="0.1">286</text>
<line x1="458.72" y1="135.5" x2="458.72" y2="136.9" stroke="#7c7c7c" stroke-width="0.5"/>
<line x1="491.84" y1="135.5" x2="491.84" y2="137.7" stroke="#7c7c7c" stroke-width="0.6"/>
<text x="0" y="0" transform="translate(491.84,142.9) scale(0.82,1)" font-size="6.4" text-anchor="middle" font-weight="normal" font-family='"Liberation Serif", serif' fill="#222" stroke="#222" stroke-width="0.1">284</text>
<line x1="480.8" y1="135.5" x2="480.8" y2="136.9" stroke="#7c7c7c" stroke-width="0.5"/>
<line x1="513.92" y1="135.5" x2="513.92" y2="137.7" stroke="#7c7c7c" stroke-width="0.6"/>
<text x="0" y="0" transform="translate(513.92,142.9) scale(0.82,1)" font-size="6.4" text-anchor="middle" font-weight="normal" font-family='"Liberation Serif", serif' fill="#222" stroke="#222" stroke-width="0.1">282</text>
<line x1="502.88" y1="135.5" x2="502.88" y2="136.9" stroke="#7c7c7c" stroke-width="0.5"/>
<line x1="536" y1="135.5" x2="536" y2="137.7" stroke="#7c7c7c" stroke-width="0.6"/>
<text x="0" y="0" transform="translate(536,142.9) scale(0.82,1)" font-size="6.4" text-anchor="middle" font-weight="normal" font-family='"Liberation Serif", serif' fill="#222" stroke="#222" stroke-width="0.1">280</text>
<line x1="524.96" y1="135.5" x2="524.96" y2="136.9" stroke="#7c7c7c" stroke-width="0.5"/>
<text x="0" y="0" transform="translate(452,149.2) scale(0.89,1)" font-size="7.1" text-anchor="middle" font-weight="normal" font-family='"Liberation Serif", serif' fill="#111" stroke="#111" stroke-width="0.12">Binding Energy (eV)</text>
<text x="0" y="0" font-size="6.5" text-anchor="middle" font-family='"Liberation Serif", serif' fill="#222" stroke="#222" stroke-width="0.12" transform="translate(366.1,66) rotate(-90) scale(1,0.92)">Intensity (a.u.)</text>
<text x="377.3" y="25.9" font-size="16.5" font-weight="bold" font-family='"Liberation Serif", serif' fill="#000">a<tspan font-size="10" dy="2.8">3</tspan></text>
<text x="0" y="0" transform="translate(372,9.5) scale(0.88,1)" font-size="8.0" text-anchor="start" font-weight="normal" font-family='"Liberation Serif", serif' fill="#222" >C 1s</text>
<polyline points="374.9,123.66 375.4,123.6 375.9,123.52 376.4,123.42 376.9,123.29 377.4,123.12 377.9,122.93 378.4,122.68 378.9,122.4 379.4,122.06 379.9,121.66 380.4,121.2 380.9,120.68 381.4,120.09 381.9,119.43 382.4,118.7 382.9,117.92 383.4,117.07 383.9,116.17 384.4,115.22 384.9,114.25 385.4,113.26 385.9,112.26 386.4,111.28 386.9,110.33 387.4,109.43 387.9,108.61 388.4,107.87 388.9,107.24 389.4,106.73 389.9,106.35 390.4,106.11 390.9,106.03 391.4,106.09 391.9,106.31 392.4,106.67 392.9,107.16 393.4,107.79 393.9,108.52 394.4,109.35 394.9,110.26 395.4,111.23 395.9,112.24 396.4,113.27 396.9,114.3 397.4,115.32 397.9,116.32 398.4,117.27 398.9,118.18 399.4,119.03 399.9,119.82 400.4,120.54 400.9,121.2 401.4,121.78 401.9,122.3 402.4,122.76 402.9,123.16 403.4,123.51 403.9,123.81 404.4,124.06 404.9,124.27 405.4,124.45 405.9,124.61 406.4,124.73 406.9,124.84" fill="none" stroke="#5a8fd0" stroke-width="0.5" stroke-linejoin="round" opacity="1.0"/>
<polyline points="391.4,124.29 391.9,124.24 392.4,124.18 392.9,124.09 393.4,123.98 393.9,123.85 394.4,123.68 394.9,123.48 395.4,123.23 395.9,122.92 396.4,122.56 396.9,122.13 397.4,121.62 397.9,121.02 398.4,120.32 398.9,119.51 399.4,118.58 399.9,117.52 400.4,116.3 400.9,114.93 401.4,113.39 401.9,111.67 402.4,109.76 402.9,107.65 403.4,105.34 403.9,102.83 404.4,100.1 404.9,97.17 405.4,94.04 405.9,90.72 406.4,87.23 406.9,83.57 407.4,79.78 407.9,75.87 408.4,71.88 408.9,67.84 409.4,63.79 409.9,59.76 410.4,55.8 410.9,51.95 411.4,48.25 411.9,44.76 412.4,41.5 412.9,38.54 413.4,35.89 413.9,33.61 414.4,31.71 414.9,30.24 415.4,29.2 415.9,28.62 416.4,28.5 416.9,28.84 417.4,29.64 417.9,30.9 418.4,32.58 418.9,34.67 419.4,37.14 419.9,39.96 420.4,43.08 420.9,46.48 421.4,50.1 421.9,53.9 422.4,57.83 422.9,61.86 423.4,65.94 423.9,70.04 424.4,74.1 424.9,78.1 425.4,82 425.9,85.78 426.4,89.41 426.9,92.87 427.4,96.16 427.9,99.24 428.4,102.13 428.9,104.81 429.4,107.28 429.9,109.55 430.4,111.61 430.9,113.48 431.4,115.17 431.9,116.68 432.4,118.02 432.9,119.21 433.4,120.26 433.9,121.18 434.4,121.98 434.9,122.67 435.4,123.27 435.9,123.79 436.4,124.23 436.9,124.61 437.4,124.92 437.9,125.19 438.4,125.42 438.9,125.61 439.4,125.77 439.9,125.91 440.4,126.02 440.9,126.12" fill="none" stroke="#5a8fd0" stroke-width="0.5" stroke-linejoin="round" opacity="1.0"/>
<polyline points="424.9,125.52 425.4,125.49 425.9,125.45 426.4,125.4 426.9,125.34 427.4,125.27 427.9,125.18 428.4,125.09 428.9,124.98 429.4,124.86 429.9,124.72 430.4,124.56 430.9,124.39 431.4,124.2 431.9,124 432.4,123.78 432.9,123.54 433.4,123.28 433.9,123.01 434.4,122.72 434.9,122.42 435.4,122.11 435.9,121.79 436.4,121.46 436.9,121.13 437.4,120.79 437.9,120.45 438.4,120.12 438.9,119.79 439.4,119.47 439.9,119.17 440.4,118.88 440.9,118.62 441.4,118.37 441.9,118.16 442.4,117.97 442.9,117.82 443.4,117.7 443.9,117.62 444.4,117.57 444.9,117.56 445.4,117.59 445.9,117.66 446.4,117.77 446.9,117.91 447.4,118.09 447.9,118.3 448.4,118.54 448.9,118.81 449.4,119.11 449.9,119.42 450.4,119.76 450.9,120.11 451.4,120.47 451.9,120.84 452.4,121.21 452.9,121.59 453.4,121.96 453.9,122.33 454.4,122.69 454.9,123.05 455.4,123.39 455.9,123.72 456.4,124.04 456.9,124.34 457.4,124.62 457.9,124.89 458.4,125.14 458.9,125.37 459.4,125.58 459.9,125.78 460.4,125.96 460.9,126.13 461.4,126.28 461.9,126.42 462.4,126.55 462.9,126.66 463.4,126.76 463.9,126.86 464.4,126.94 464.9,127.01 465.4,127.08" fill="none" stroke="#f08080" stroke-width="0.5" stroke-linejoin="round" opacity="1.0"/>
<polyline points="454.9,126.67 455.4,126.55 455.9,126.38 456.4,126.14 456.9,125.83 457.4,125.43 457.9,124.94 458.4,124.37 458.9,123.73 459.4,123.05 459.9,122.35 460.4,121.69 460.9,121.11 461.4,120.65 461.9,120.34 462.4,120.23 462.9,120.3 463.4,120.57 463.9,121.01 464.4,121.59 464.9,122.26 465.4,122.99 465.9,123.71 466.4,124.41 466.9,125.05 467.4,125.61 467.9,126.09 468.4,126.47 468.9,126.78 469.4,127.01 469.9,127.19" fill="none" stroke="#a0a0a0" stroke-width="0.5" stroke-linejoin="round" opacity="1.0"/>
<polyline points="445.4,126.32 445.9,126.29 446.4,126.24 446.9,126.18 447.4,126.1 447.9,126.01 448.4,125.9 448.9,125.77 449.4,125.62 449.9,125.44 450.4,125.22 450.9,124.97 451.4,124.69 451.9,124.36 452.4,123.98 452.9,123.55 453.4,123.06 453.9,122.52 454.4,121.9 454.9,121.22 455.4,120.46 455.9,119.62 456.4,118.69 456.9,117.68 457.4,116.58 457.9,115.38 458.4,114.09 458.9,112.7 459.4,111.22 459.9,109.64 460.4,107.97 460.9,106.21 461.4,104.36 461.9,102.44 462.4,100.44 462.9,98.39 463.4,96.28 463.9,94.14 464.4,91.96 464.9,89.78 465.4,87.6 465.9,85.44 466.4,83.32 466.9,81.25 467.4,79.25 467.9,77.34 468.4,75.54 468.9,73.86 469.4,72.32 469.9,70.93 470.4,69.72 470.9,68.69 471.4,67.85 471.9,67.21 472.4,66.78 472.9,66.56 473.4,66.55 473.9,66.77 474.4,67.19 474.9,67.83 475.4,68.67 475.9,69.7 476.4,70.92 476.9,72.31 477.4,73.85 477.9,75.54 478.4,77.36 478.9,79.29 479.4,81.31 479.9,83.4 480.4,85.55 480.9,87.75 481.4,89.96 481.9,92.18 482.4,94.4 482.9,96.59 483.4,98.74 483.9,100.84 484.4,102.89 484.9,104.87 485.4,106.76 485.9,108.58 486.4,110.31 486.9,111.94 487.4,113.49 487.9,114.93 488.4,116.28 488.9,117.53 489.4,118.69 489.9,119.76 490.4,120.74 490.9,121.63 491.4,122.45 491.9,123.18 492.4,123.85 492.9,124.45 493.4,124.98 493.9,125.46 494.4,125.89 494.9,126.26 495.4,126.6 495.9,126.89 496.4,127.15 496.9,127.37 497.4,127.57 497.9,127.75 498.4,127.9 498.9,128.03 499.4,128.14 499.9,128.24 500.4,128.33 500.9,128.41" fill="none" stroke="#52c46c" stroke-width="0.5" stroke-linejoin="round" opacity="1.0"/>
<polyline points="465.9,127.1 466.4,127.05 466.9,127 467.4,126.92 467.9,126.83 468.4,126.71 468.9,126.57 469.4,126.39 469.9,126.18 470.4,125.93 470.9,125.63 471.4,125.28 471.9,124.87 472.4,124.39 472.9,123.83 473.4,123.19 473.9,122.46 474.4,121.63 474.9,120.69 475.4,119.63 475.9,118.44 476.4,117.12 476.9,115.65 477.4,114.04 477.9,112.28 478.4,110.36 478.9,108.28 479.4,106.04 479.9,103.65 480.4,101.1 480.9,98.41 481.4,95.59 481.9,92.64 482.4,89.59 482.9,86.45 483.4,83.23 483.9,79.98 484.4,76.7 484.9,73.43 485.4,70.2 485.9,67.04 486.4,63.98 486.9,61.05 487.4,58.29 487.9,55.72 488.4,53.37 488.9,51.28 489.4,49.47 489.9,47.96 490.4,46.76 490.9,45.91 491.4,45.39 491.9,45.24 492.4,45.43 492.9,45.98 493.4,46.88 493.9,48.11 494.4,49.66 494.9,51.51 495.4,53.64 495.9,56.02 496.4,58.63 496.9,61.43 497.4,64.4 497.9,67.49 498.4,70.69 498.9,73.96 499.4,77.27 499.9,80.58 500.4,83.88 500.9,87.12 501.4,90.31 501.9,93.4 502.4,96.38 502.9,99.24 503.4,101.97 503.9,104.55 504.4,106.98 504.9,109.26 505.4,111.38 505.9,113.33 506.4,115.13 506.9,116.78 507.4,118.29 507.9,119.65 508.4,120.87 508.9,121.97 509.4,122.95 509.9,123.82 510.4,124.59 510.9,125.27 511.4,125.86 511.9,126.38 512.4,126.83 512.9,127.22 513.4,127.56 513.9,127.84 514.4,128.09 514.9,128.3 515.4,128.49 515.9,128.64 516.4,128.77 516.9,128.88 517.4,128.98 517.9,129.06" fill="none" stroke="#f2c744" stroke-width="0.5" stroke-linejoin="round" opacity="1.0"/>
<polyline points="370,123.73 536,130" fill="none" stroke="#5a8fd0" stroke-width="0.6" stroke-linejoin="round" opacity="1.0"/>
<polyline points="371,121.39 372,121 373,122.59 374,118.48 375,120.38 376,117 377,120.46 378,118.52 379,119.23 380,115.89 381,116.21 382,114.26 383,112.49 384,112.52 385,109.09 386,109.01 387,109.25 388,107.04 389,105.35 390,108.91 391,105.42 392,104.79 393,106.8 394,106.93 395,108.55 396,110.02 397,114.76 398,112.63 399,113.11 400,113.37 401,114.07 402,108.42 403,104.47 404,105.26 405,93.28 406,88.91 407,83.81 408,79.44 409,64.98 410,53.73 411,52.63 412,42.89 413,37.08 414,34.27 415,30.52 416,29.24 417,27.93 418,34.22 419,38.61 420,40.59 421,46.11 422,56.17 423,63.54 424,68.53 425,77.69 426,88.07 427,92.81 428,98.52 429,104.66 430,108.61 431,112.15 432,112.05 433,119.25 434,118.42 435,117.79 436,120.69 437,119.88 438,119.34 439,120.43 440,121.72 441,119.01 442,120.07 443,120.59 444,115.97 445,116.58 446,118.42 447,115.07 448,117.28 449,119.69 450,119.57 451,119.1 452,115.74 453,121.46 454,118.55 455,118.04 456,116.32 457,111.02 458,108.57 459,105.27 460,106.27 461,97.21 462,93.91 463,89.97 464,88.09 465,84.92 466,81.56 467,75.57 468,68.69 469,72.24 470,69.53 471,68.95 472,64.02 473,61.31 474,62.34 475,57.44 476,58.15 477,58.01 478,60.61 479,64.17 480,60.74 481,60.59 482,57.22 483,55.44 484,51.55 485,49.33 486,41.76 487,41.86 488,39.3 489,42.37 490,40.93 491,41.92 492,43.83 493,41.61 494,47.92 495,54.17 496,54.96 497,63.23 498,66.99 499,70.81 500,81.1 501,85.96 502,94.03 503,98.88 504,105.51 505,106.25 506,116.85 507,119.06 508,119.4 509,120.95 510,123.98 511,126.23 512,126.98 513,127.75 514,125.69 515,127.11 516,130.11 517,129.16 518,127.51 519,128.32 520,127.84 521,128.36 522,130.6 523,129.27 524,130.64 525,129.76 526,128.15 527,129.02 528,131.94 529,128.99 530,128.75 531,131.02 532,129.94 533,129.88 534,131.36 535,128.24" fill="none" stroke="#f24f4f" stroke-width="0.65" stroke-linejoin="round" opacity="1.0"/>
<text x="406" y="17.5" font-size="5.2" text-anchor="middle" font-family='"Liberation Serif", serif' fill="#111" stroke="#111" stroke-width="0.1" font-weight="normal">CF<tspan font-size="3.38" dy="1">2</tspan></text>
<text x="383.75" y="94" font-size="5.2" text-anchor="middle" font-family='"Liberation Serif", serif' fill="#111" stroke="#111" stroke-width="0.1" font-weight="normal">CF<tspan font-size="3.38" dy="1">3</tspan></text>
<text x="440" y="104" font-size="5.2" text-anchor="middle" font-weight="normal" font-family='"Liberation Serif", serif' fill="#111" stroke="#111" stroke-width="0.12">CF</text>
<text x="452.5" y="96.5" font-size="5.2" text-anchor="middle" font-weight="normal" font-family='"Liberation Serif", serif' fill="#111" stroke="#111" stroke-width="0.12">C-O-C</text>
<text x="461" y="41" font-size="5.2" text-anchor="middle" font-weight="normal" font-family='"Liberation Serif", serif' fill="#111" stroke="#111" stroke-width="0.12">C-C</text>
<text x="461" y="47.5" font-size="5.2" text-anchor="middle" font-weight="normal" font-family='"Liberation Serif", serif' fill="#111" stroke="#111" stroke-width="0.12">C-H</text>
<text x="506" y="32" font-size="5.2" text-anchor="middle" font-weight="normal" font-family='"Liberation Serif", serif' fill="#111" stroke="#111" stroke-width="0.12">carbide</text>
<line x1="416" y1="27" x2="411" y2="19" stroke="#111" stroke-width="0.65"/>
<polygon points="411,19 413.9,21.19 411.7,22.57" fill="#111"/>
<line x1="391" y1="106" x2="385.5" y2="98" stroke="#111" stroke-width="0.65"/>
<polygon points="385.5,98 388.5,100.07 386.35,101.54" fill="#111"/>
<line x1="445" y1="117" x2="442" y2="106" stroke="#111" stroke-width="0.65"/>
<polygon points="442,106 444.15,108.94 441.64,109.62" fill="#111"/>
<line x1="462" y1="120" x2="456" y2="98" stroke="#111" stroke-width="0.65"/>
<polygon points="456,98 458.15,100.94 455.64,101.62" fill="#111"/>
<line x1="472" y1="64" x2="466" y2="50" stroke="#111" stroke-width="0.65"/>
<polygon points="466,50 468.53,52.61 466.14,53.64" fill="#111"/>
<line x1="489" y1="40" x2="497" y2="31.5" stroke="#111" stroke-width="0.65"/>
<polygon points="497,31.5 495.62,34.87 493.72,33.08" fill="#111"/>
<rect x="549.3" y="1.8" width="165.7" height="133.6" fill="none" stroke="#7c7c7c" stroke-width="1"/>
<line x1="549.3" y1="135.4" x2="549.3" y2="137.6" stroke="#7c7c7c" stroke-width="0.6"/>
<text x="0" y="0" transform="translate(549.3,142.9) scale(0.82,1)" font-size="6.4" text-anchor="middle" font-weight="normal" font-family='"Liberation Serif", serif' fill="#222" stroke="#222" stroke-width="0.1">318</text>
<line x1="574.79" y1="135.4" x2="574.79" y2="137.6" stroke="#7c7c7c" stroke-width="0.6"/>
<text x="0" y="0" transform="translate(574.79,142.9) scale(0.82,1)" font-size="6.4" text-anchor="middle" font-weight="normal" font-family='"Liberation Serif", serif' fill="#222" stroke="#222" stroke-width="0.1">316</text>
<line x1="562.05" y1="135.4" x2="562.05" y2="136.8" stroke="#7c7c7c" stroke-width="0.5"/>
<line x1="600.28" y1="135.4" x2="600.28" y2="137.6" stroke="#7c7c7c" stroke-width="0.6"/>
<text x="0" y="0" transform="translate(600.28,142.9) scale(0.82,1)" font-size="6.4" text-anchor="middle" font-weight="normal" font-family='"Liberation Serif", serif' fill="#222" stroke="#222" stroke-width="0.1">314</text>
<line x1="587.54" y1="135.4" x2="587.54" y2="136.8" stroke="#7c7c7c" stroke-width="0.5"/>
<line x1="625.78" y1="135.4" x2="625.78" y2="137.6" stroke="#7c7c7c" stroke-width="0.6"/>
<text x="0" y="0" transform="translate(625.78,142.9) scale(0.82,1)" font-size="6.4" text-anchor="middle" font-weight="normal" font-family='"Liberation Serif", serif' fill="#222" stroke="#222" stroke-width="0.1">312</text>
<line x1="613.03" y1="135.4" x2="613.03" y2="136.8" stroke="#7c7c7c" stroke-width="0.5"/>
<line x1="651.27" y1="135.4" x2="651.27" y2="137.6" stroke="#7c7c7c" stroke-width="0.6"/>
<text x="0" y="0" transform="translate(651.27,142.9) scale(0.82,1)" font-size="6.4" text-anchor="middle" font-weight="normal" font-family='"Liberation Serif", serif' fill="#222" stroke="#222" stroke-width="0.1">310</text>
<line x1="638.52" y1="135.4" x2="638.52" y2="136.8" stroke="#7c7c7c" stroke-width="0.5"/>
<line x1="676.76" y1="135.4" x2="676.76" y2="137.6" stroke="#7c7c7c" stroke-width="0.6"/>
<text x="0" y="0" transform="translate(676.76,142.9) scale(0.82,1)" font-size="6.4" text-anchor="middle" font-weight="normal" font-family='"Liberation Serif", serif' fill="#222" stroke="#222" stroke-width="0.1">308</text>
<line x1="664.02" y1="135.4" x2="664.02" y2="136.8" stroke="#7c7c7c" stroke-width="0.5"/>
<line x1="702.25" y1="135.4" x2="702.25" y2="137.6" stroke="#7c7c7c" stroke-width="0.6"/>
<text x="0" y="0" transform="translate(702.25,142.9) scale(0.82,1)" font-size="6.4" text-anchor="middle" font-weight="normal" font-family='"Liberation Serif", serif' fill="#222" stroke="#222" stroke-width="0.1">306</text>
<line x1="689.51" y1="135.4" x2="689.51" y2="136.8" stroke="#7c7c7c" stroke-width="0.5"/>
<text x="0" y="0" transform="translate(630.4,149.7) scale(0.89,1)" font-size="7.1" text-anchor="middle" font-weight="normal" font-family='"Liberation Serif", serif' fill="#111" stroke="#111" stroke-width="0.12">Binding Energy (eV)</text>
<text x="0" y="0" font-size="6.5" text-anchor="middle" font-family='"Liberation Serif", serif' fill="#222" stroke="#222" stroke-width="0.12" transform="translate(545.6,66) rotate(-90) scale(1,0.92)">Intensity (a.u.)</text>
<text x="553.3" y="26.9" font-size="16.5" font-weight="bold" font-family='"Liberation Serif", serif' fill="#000">a<tspan font-size="10" dy="2.8">4</tspan></text>
<text x="0" y="0" transform="translate(551,10.2) scale(0.88,1)" font-size="7.9" text-anchor="start" font-weight="normal" font-family='"Liberation Serif", serif' fill="#222" >O 1s</text>
<polyline points="585,120.06 662,120.2" fill="none" stroke="#9c9ad6" stroke-width="0.6" stroke-linejoin="round" opacity="1.0"/>
<polyline points="549.9,119.26 550.9,119.56 551.9,119.24 552.9,119.19 553.9,118.93 554.9,119.2 555.9,119.72 556.9,119.42 557.9,119.65 558.9,119.3 559.9,119.34 560.9,119.23 561.9,118.45 562.9,119.46 563.9,119.28 564.9,119.25 565.9,118.31 566.9,118.26 567.9,118.58 568.9,118.72 569.9,119 570.9,118.81 571.9,119.01 572.9,118.47 573.9,118.83 574.9,118.81 575.9,118.31 576.9,119.27 577.9,118.71 578.9,118.92 579.9,118.07 580.9,117.94 581.9,118.03 582.9,118.04 583.9,118.26 584.9,117.97 585.9,117.53 586.9,117.13 587.9,117.13 588.9,117.68 589.9,116.47 590.9,116.6 591.9,116.26 592.9,114.84 593.9,114.95 594.9,114.85 595.9,112.37 596.9,112.26 597.9,111.3 598.9,109.74 599.9,109.15 600.9,107.43 601.9,105.1 602.9,104.72 603.9,102.79 604.9,100.92 605.9,98.93 606.9,95.67 607.9,92.54 608.9,88.2 609.9,85.6 610.9,80.37 611.9,75.56 612.9,69.53 613.9,63.83 614.9,57.86 615.9,52.73 616.9,43.28 617.9,37.03 618.9,32.02 619.9,27.11 620.9,21.1 621.9,14.58 622.9,10.95 623.9,11.94 624.9,10.8 625.9,11.84 626.9,16.59 627.9,20.79 628.9,25.09 629.9,31.12 630.9,37.77 631.9,45.53 632.9,51.6 633.9,58.3 634.9,64.83 635.9,69.38 636.9,77.11 637.9,81.95 638.9,86.17 639.9,88.49 640.9,92.83 641.9,96.77 642.9,97.76 643.9,101.08 644.9,103.87 645.9,104.44 646.9,107.85 647.9,108.88 648.9,110 649.9,111.6 650.9,112.96 651.9,113.73 652.9,115.11 653.9,114.97 654.9,115.68 655.9,116.84 656.9,116.75 657.9,116.64 658.9,117.71 659.9,118.14 660.9,117.45 661.9,117.18 662.9,117.86 663.9,117.97 664.9,118.01 665.9,118.85 666.9,117.88 667.9,118.96 668.9,117.94 669.9,118.22 670.9,118.9 671.9,119.18 672.9,119.12 673.9,118.96 674.9,118.93 675.9,118.99 676.9,119.21 677.9,118.94 678.9,119.18 679.9,119.34 680.9,119.15 681.9,119.5 682.9,119.45 683.9,120.09 684.9,119.42 685.9,119.14 686.9,119.2 687.9,119.37 688.9,119.79 689.9,119.3 690.9,119.62 691.9,120.23 692.9,118.47 693.9,119.08 694.9,119.65 695.9,119.74 696.9,119.69 697.9,119.44 698.9,119.9 699.9,119.77 700.9,119.46 701.9,120.66 702.9,119.85 703.9,119.5 704.9,119.69 705.9,119.66 706.9,119.74 707.9,118.69 708.9,119.6 709.9,120.21 710.9,119.35 711.9,119.8 712.9,120.22 713.9,120.19" fill="none" stroke="#f24f4f" stroke-width="0.65" stroke-linejoin="round" opacity="1.0"/>
<polyline points="593.3,119.78 593.8,119.72 594.3,119.65 594.8,119.56 595.3,119.46 595.8,119.34 596.3,119.2 596.8,119.04 597.3,118.85 597.8,118.64 598.3,118.38 598.8,118.1 599.3,117.76 599.8,117.39 600.3,116.95 600.8,116.47 601.3,115.91 601.8,115.29 602.3,114.59 602.8,113.81 603.3,112.94 603.8,111.97 604.3,110.9 604.8,109.72 605.3,108.43 605.8,107.01 606.3,105.46 606.8,103.78 607.3,101.97 607.8,100.01 608.3,97.9 608.8,95.65 609.3,93.26 609.8,90.71 610.3,88.03 610.8,85.2 611.3,82.24 611.8,79.15 612.3,75.95 612.8,72.64 613.3,69.23 613.8,65.74 614.3,62.19 614.8,58.6 615.3,54.97 615.8,51.35 616.3,47.74 616.8,44.17 617.3,40.67 617.8,37.25 618.3,33.95 618.8,30.79 619.3,27.8 619.8,24.99 620.3,22.39 620.8,20.03 621.3,17.92 621.8,16.08 622.3,14.52 622.8,13.27 623.3,12.33 623.8,11.71 624.3,11.41 624.8,11.45 625.3,11.81 625.8,12.5 626.3,13.5 626.8,14.82 627.3,16.43 627.8,18.33 628.3,20.5 628.8,22.91 629.3,25.55 629.8,28.4 630.3,31.43 630.8,34.63 631.3,37.95 631.8,41.39 632.3,44.91 632.8,48.49 633.3,52.1 633.8,55.73 634.3,59.35 634.8,62.94 635.3,66.48 635.8,69.96 636.3,73.35 636.8,76.64 637.3,79.83 637.8,82.89 638.3,85.83 638.8,88.63 639.3,91.29 639.8,93.8 640.3,96.17 640.8,98.4 641.3,100.47 641.8,102.4 642.3,104.2 642.8,105.85 643.3,107.37 643.8,108.77 644.3,110.04 644.8,111.2 645.3,112.25 645.8,113.2 646.3,114.05 646.8,114.82 647.3,115.5 647.8,116.11 648.3,116.65 648.8,117.13 649.3,117.55 649.8,117.93 650.3,118.25 650.8,118.53 651.3,118.78 651.8,118.99 652.3,119.18 652.8,119.33 653.3,119.47 653.8,119.59 654.3,119.69 654.8,119.77 655.3,119.84 655.8,119.9" fill="none" stroke="#5a8fd0" stroke-width="0.5" stroke-linejoin="round" opacity="1.0"/>
<polyline points="588.8,119.78 589.3,119.72 589.8,119.65 590.3,119.56 590.8,119.47 591.3,119.37 591.8,119.25 592.3,119.11 592.8,118.96 593.3,118.8 593.8,118.62 594.3,118.42 594.8,118.21 595.3,117.98 595.8,117.74 596.3,117.49 596.8,117.24 597.3,116.97 597.8,116.7 598.3,116.43 598.8,116.16 599.3,115.9 599.8,115.65 600.3,115.41 600.8,115.19 601.3,114.99 601.8,114.82 602.3,114.67 602.8,114.55 603.3,114.47 603.8,114.42 604.3,114.4 604.8,114.42 605.3,114.47 605.8,114.56 606.3,114.68 606.8,114.83 607.3,115 607.8,115.2 608.3,115.43 608.8,115.67 609.3,115.92 609.8,116.18 610.3,116.45 610.8,116.72 611.3,117 611.8,117.26 612.3,117.52 612.8,117.77 613.3,118.02 613.8,118.24 614.3,118.46 614.8,118.65 615.3,118.84 615.8,119 616.3,119.15 616.8,119.29 617.3,119.41 617.8,119.52 618.3,119.62 618.8,119.7 619.3,119.77 619.8,119.83" fill="none" stroke="#f2c744" stroke-width="0.5" stroke-linejoin="round" opacity="1.0"/>
<polyline points="632.8,119.86 633.3,119.78 633.8,119.7 634.3,119.59 634.8,119.47 635.3,119.33 635.8,119.18 636.3,119 636.8,118.81 637.3,118.59 637.8,118.36 638.3,118.12 638.8,117.86 639.3,117.6 639.8,117.33 640.3,117.06 640.8,116.81 641.3,116.56 641.8,116.34 642.3,116.14 642.8,115.97 643.3,115.84 643.8,115.74 644.3,115.69 644.8,115.67 645.3,115.7 645.8,115.78 646.3,115.89 646.8,116.04 647.3,116.23 647.8,116.44 648.3,116.67 648.8,116.92 649.3,117.19 649.8,117.45 650.3,117.72 650.8,117.99 651.3,118.24 651.8,118.48 652.3,118.71 652.8,118.92 653.3,119.1 653.8,119.28 654.3,119.43 654.8,119.56 655.3,119.67 655.8,119.77 656.3,119.86 656.8,119.93" fill="none" stroke="#52c46c" stroke-width="0.5" stroke-linejoin="round" opacity="1.0"/>
<text x="607" y="11.5" font-size="5.2" text-anchor="middle" font-family='"Liberation Serif", serif' fill="#111" stroke="#111" stroke-width="0.1" font-weight="normal">SiO<tspan font-size="3.38" dy="1">2</tspan></text>
<line x1="623" y1="11.5" x2="614" y2="9.5" stroke="#111" stroke-width="0.65"/>
<polygon points="614,9.5 617.6,8.97 617.04,11.51" fill="#111"/>
<line x1="604" y1="114" x2="597" y2="103.5" stroke="#111" stroke-width="0.65"/>
<polygon points="597,103.5 599.97,105.61 597.8,107.05" fill="#111"/>
<line x1="645" y1="115" x2="652" y2="104" stroke="#111" stroke-width="0.65"/>
<polygon points="652,104 651.27,107.57 649.08,106.17" fill="#111"/>
<text x="594.5" y="101.9" font-size="5.2" text-anchor="middle" font-weight="normal" font-family='"Liberation Sans", sans-serif' fill="#111" >C-O-C</text>
<text x="658.2" y="102.7" font-size="5.2" text-anchor="middle" font-weight="normal" font-family='"Liberation Sans", sans-serif' fill="#111" >O-C=O</text>
<rect x="188.6" y="157.5" width="165.6" height="133.3" fill="none" stroke="#7c7c7c" stroke-width="1"/>
<line x1="203.65" y1="290.8" x2="203.65" y2="293" stroke="#7c7c7c" stroke-width="0.6"/>
<text x="0" y="0" transform="translate(203.65,297.9) scale(0.82,1)" font-size="6.4" text-anchor="middle" font-weight="normal" font-family='"Liberation Serif", serif' fill="#222" stroke="#222" stroke-width="0.1">108</text>
<line x1="233.76" y1="290.8" x2="233.76" y2="293" stroke="#7c7c7c" stroke-width="0.6"/>
<text x="0" y="0" transform="translate(233.76,297.9) scale(0.82,1)" font-size="6.4" text-anchor="middle" font-weight="normal" font-family='"Liberation Serif", serif' fill="#222" stroke="#222" stroke-width="0.1">106</text>
<line x1="218.71" y1="290.8" x2="218.71" y2="292.2" stroke="#7c7c7c" stroke-width="0.5"/>
<line x1="263.87" y1="290.8" x2="263.87" y2="293" stroke="#7c7c7c" stroke-width="0.6"/>
<text x="0" y="0" transform="translate(263.87,297.9) scale(0.82,1)" font-size="6.4" text-anchor="middle" font-weight="normal" font-family='"Liberation Serif", serif' fill="#222" stroke="#222" stroke-width="0.1">104</text>
<line x1="248.82" y1="290.8" x2="248.82" y2="292.2" stroke="#7c7c7c" stroke-width="0.5"/>
<line x1="293.98" y1="290.8" x2="293.98" y2="293" stroke="#7c7c7c" stroke-width="0.6"/>
<text x="0" y="0" transform="translate(293.98,297.9) scale(0.82,1)" font-size="6.4" text-anchor="middle" font-weight="normal" font-family='"Liberation Serif", serif' fill="#222" stroke="#222" stroke-width="0.1">102</text>
<line x1="278.93" y1="290.8" x2="278.93" y2="292.2" stroke="#7c7c7c" stroke-width="0.5"/>
<line x1="324.09" y1="290.8" x2="324.09" y2="293" stroke="#7c7c7c" stroke-width="0.6"/>
<text x="0" y="0" transform="translate(324.09,297.9) scale(0.82,1)" font-size="6.4" text-anchor="middle" font-weight="normal" font-family='"Liberation Serif", serif' fill="#222" stroke="#222" stroke-width="0.1">100</text>
<line x1="309.04" y1="290.8" x2="309.04" y2="292.2" stroke="#7c7c7c" stroke-width="0.5"/>
<line x1="354.2" y1="290.8" x2="354.2" y2="293" stroke="#7c7c7c" stroke-width="0.6"/>
<text x="0" y="0" transform="translate(354.2,297.9) scale(0.82,1)" font-size="6.4" text-anchor="middle" font-weight="normal" font-family='"Liberation Serif", serif' fill="#222" stroke="#222" stroke-width="0.1">98</text>
<line x1="339.15" y1="290.8" x2="339.15" y2="292.2" stroke="#7c7c7c" stroke-width="0.5"/>
<text x="0" y="0" transform="translate(272.5,303.5) scale(0.89,1)" font-size="7.1" text-anchor="middle" font-weight="normal" font-family='"Liberation Serif", serif' fill="#111" stroke="#111" stroke-width="0.12">Binding Energy (eV)</text>
<text x="0" y="0" font-size="6.5" text-anchor="middle" font-family='"Liberation Serif", serif' fill="#222" stroke="#222" stroke-width="0.12" transform="translate(184.8,218.5) rotate(-90) scale(1,0.92)">Intensity (a.u.)</text>
<text x="194.6" y="183.2" font-size="16.5" font-weight="bold" font-family='"Liberation Serif", serif' fill="#000">b<tspan font-size="10" dy="2.8">2</tspan></text>
<text x="0" y="0" transform="translate(190,164.6) scale(0.88,1)" font-size="8.1" text-anchor="start" font-weight="normal" font-family='"Liberation Serif", serif' fill="#222" >Si 2p</text>
<polyline points="200,273.8 350,274.48" fill="none" stroke="#f2c744" stroke-width="0.6" stroke-linejoin="round" opacity="1.0"/>
<polyline points="189.2,272.96 190.2,273.68 191.2,273.96 192.2,273.28 193.2,272.91 194.2,273.47 195.2,273.72 196.2,274 197.2,272.94 198.2,272.91 199.2,273.81 200.2,273.7 201.2,274.18 202.2,273.93 203.2,273.43 204.2,273.34 205.2,274.64 206.2,273.33 207.2,273.09 208.2,272.92 209.2,273.48 210.2,273.5 211.2,273.26 212.2,273.38 213.2,273.53 214.2,273.71 215.2,273.89 216.2,273.47 217.2,272.52 218.2,273.67 219.2,272.67 220.2,273.23 221.2,272.6 222.2,273.28 223.2,272.89 224.2,273.34 225.2,274.77 226.2,273.16 227.2,273.55 228.2,272.46 229.2,272.88 230.2,273.22 231.2,272.69 232.2,272.69 233.2,272.26 234.2,271.35 235.2,271.8 236.2,270.77 237.2,271.94 238.2,270.52 239.2,271.08 240.2,270.67 241.2,271.1 242.2,270.09 243.2,270.65 244.2,269.55 245.2,269.65 246.2,268.42 247.2,267.05 248.2,265.18 249.2,264.55 250.2,262.52 251.2,261.15 252.2,257.35 253.2,255.17 254.2,251.97 255.2,248.26 256.2,244.28 257.2,239.97 258.2,234.69 259.2,229.35 260.2,224.61 261.2,219.98 262.2,215.19 263.2,208.99 264.2,203.35 265.2,197.48 266.2,192 267.2,186.4 268.2,182.35 269.2,179.29 270.2,173.65 271.2,170.55 272.2,171.49 273.2,168.66 274.2,169.35 275.2,170.07 276.2,169.66 277.2,175.98 278.2,178.59 279.2,180.92 280.2,186.07 281.2,190.46 282.2,194.83 283.2,201.19 284.2,207.37 285.2,213.79 286.2,219.09 287.2,224.04 288.2,230.44 289.2,233.72 290.2,239.7 291.2,244.31 292.2,247.25 293.2,249.81 294.2,253.73 295.2,257.42 296.2,260.16 297.2,263.02 298.2,263.33 299.2,265.59 300.2,267.37 301.2,268.07 302.2,267.81 303.2,270.4 304.2,271.88 305.2,271.71 306.2,271.15 307.2,271.79 308.2,272.41 309.2,273.79 310.2,273.04 311.2,272.95 312.2,273.8 313.2,273.1 314.2,274.14 315.2,272.98 316.2,273.15 317.2,273.78 318.2,274.17 319.2,273.84 320.2,273.72 321.2,272.75 322.2,273.31 323.2,273.39 324.2,273.46 325.2,274.02 326.2,273.61 327.2,274.16 328.2,273.86 329.2,273.69 330.2,273.92 331.2,274.09 332.2,274.31 333.2,273.71 334.2,273.84 335.2,273.34 336.2,274.72 337.2,274.67 338.2,273.94 339.2,273.82 340.2,273.48 341.2,274.14 342.2,274.18 343.2,275.09 344.2,274.22 345.2,273.77 346.2,273.02 347.2,274.79 348.2,274.25 349.2,273.44 350.2,274.27 351.2,273.47 352.2,275.79 353.2,274.73" fill="none" stroke="#f24f4f" stroke-width="0.65" stroke-linejoin="round" opacity="1.0"/>
<polyline points="238.1,273.68 238.6,273.63 239.1,273.57 239.6,273.5 240.1,273.43 240.6,273.33 241.1,273.23 241.6,273.11 242.1,272.97 242.6,272.81 243.1,272.63 243.6,272.43 244.1,272.2 244.6,271.94 245.1,271.65 245.6,271.32 246.1,270.95 246.6,270.54 247.1,270.08 247.6,269.57 248.1,269.01 248.6,268.39 249.1,267.7 249.6,266.95 250.1,266.12 250.6,265.22 251.1,264.23 251.6,263.16 252.1,262.01 252.6,260.76 253.1,259.41 253.6,257.96 254.1,256.41 254.6,254.76 255.1,252.99 255.6,251.12 256.1,249.14 256.6,247.05 257.1,244.86 257.6,242.55 258.1,240.15 258.6,237.64 259.1,235.04 259.6,232.35 260.1,229.57 260.6,226.72 261.1,223.8 261.6,220.83 262.1,217.81 262.6,214.76 263.1,211.68 263.6,208.6 264.1,205.52 264.6,202.46 265.1,199.44 265.6,196.47 266.1,193.57 266.6,190.75 267.1,188.04 267.6,185.44 268.1,182.97 268.6,180.65 269.1,178.49 269.6,176.5 270.1,174.71 270.6,173.11 271.1,171.73 271.6,170.57 272.1,169.63 272.6,168.93 273.1,168.47 273.6,168.25 274.1,168.28 274.6,168.55 275.1,169.07 275.6,169.82 276.1,170.8 276.6,172.01 277.1,173.45 277.6,175.09 278.1,176.92 278.6,178.95 279.1,181.15 279.6,183.5 280.1,186 280.6,188.63 281.1,191.38 281.6,194.22 282.1,197.14 282.6,200.12 283.1,203.16 283.6,206.22 284.1,209.31 284.6,212.4 285.1,215.47 285.6,218.52 286.1,221.54 286.6,224.51 287.1,227.42 287.6,230.26 288.1,233.02 288.6,235.7 289.1,238.29 289.6,240.78 290.1,243.17 290.6,245.46 291.1,247.64 291.6,249.71 292.1,251.67 292.6,253.52 293.1,255.27 293.6,256.91 294.1,258.44 294.6,259.87 295.1,261.21 295.6,262.44 296.1,263.59 296.6,264.64 297.1,265.61 297.6,266.51 298.1,267.32 298.6,268.07 299.1,268.74 299.6,269.36 300.1,269.92 300.6,270.42 301.1,270.87 301.6,271.28 302.1,271.64 302.6,271.97 303.1,272.26 303.6,272.52 304.1,272.75 304.6,272.95 305.1,273.13 305.6,273.29 306.1,273.43 306.6,273.55 307.1,273.66 307.6,273.75 308.1,273.83 308.6,273.9 309.1,273.96 309.6,274.01" fill="none" stroke="#62d88a" stroke-width="0.5" stroke-linejoin="round" opacity="1.0"/>
<polyline points="231.1,273.69 231.6,273.61 232.1,273.52 232.6,273.42 233.1,273.3 233.6,273.18 234.1,273.05 234.6,272.92 235.1,272.79 235.6,272.68 236.1,272.59 236.6,272.52 237.1,272.48 237.6,272.47 238.1,272.5 238.6,272.55 239.1,272.64 239.6,272.74 240.1,272.86 240.6,273 241.1,273.13 241.6,273.27 242.1,273.39 242.6,273.51 243.1,273.61 243.6,273.7" fill="none" stroke="#f24f4f" stroke-width="0.5" stroke-linejoin="round" opacity="1.0"/>
<text x="265" y="163.2" font-size="5.2" text-anchor="middle" font-family='"Liberation Serif", serif' fill="#111" stroke="#111" stroke-width="0.1" font-weight="normal">SiO<tspan font-size="3.38" dy="1">2</tspan></text>
<line x1="272" y1="170" x2="267" y2="165" stroke="#111" stroke-width="0.65"/>
<polygon points="267,165 270.32,166.48 268.48,168.32" fill="#111"/>
<rect x="369.6" y="157.2" width="165" height="133.3" fill="none" stroke="#7c7c7c" stroke-width="1"/>
<line x1="369.6" y1="290.5" x2="369.6" y2="292.7" stroke="#7c7c7c" stroke-width="0.6"/>
<text x="0" y="0" transform="translate(369.6,297.9) scale(0.82,1)" font-size="6.4" text-anchor="middle" font-weight="normal" font-family='"Liberation Serif", serif' fill="#222" stroke="#222" stroke-width="0.1">296</text>
<line x1="390.23" y1="290.5" x2="390.23" y2="292.7" stroke="#7c7c7c" stroke-width="0.6"/>
<text x="0" y="0" transform="translate(390.23,297.9) scale(0.82,1)" font-size="6.4" text-anchor="middle" font-weight="normal" font-family='"Liberation Serif", serif' fill="#222" stroke="#222" stroke-width="0.1">294</text>
<line x1="379.91" y1="290.5" x2="379.91" y2="291.9" stroke="#7c7c7c" stroke-width="0.5"/>
<line x1="410.85" y1="290.5" x2="410.85" y2="292.7" stroke="#7c7c7c" stroke-width="0.6"/>
<text x="0" y="0" transform="translate(410.85,297.9) scale(0.82,1)" font-size="6.4" text-anchor="middle" font-weight="normal" font-family='"Liberation Serif", serif' fill="#222" stroke="#222" stroke-width="0.1">292</text>
<line x1="400.54" y1="290.5" x2="400.54" y2="291.9" stroke="#7c7c7c" stroke-width="0.5"/>
<line x1="431.48" y1="290.5" x2="431.48" y2="292.7" stroke="#7c7c7c" stroke-width="0.6"/>
<text x="0" y="0" transform="translate(431.48,297.9) scale(0.82,1)" font-size="6.4" text-anchor="middle" font-weight="normal" font-family='"Liberation Serif", serif' fill="#222" stroke="#222" stroke-width="0.1">290</text>
<line x1="421.16" y1="290.5" x2="421.16" y2="291.9" stroke="#7c7c7c" stroke-width="0.5"/>
<line x1="452.1" y1="290.5" x2="452.1" y2="292.7" stroke="#7c7c7c" stroke-width="0.6"/>
<text x="0" y="0" transform="translate(452.1,297.9) scale(0.82,1)" font-size="6.4" text-anchor="middle" font-weight="normal" font-family='"Liberation Serif", serif' fill="#222" stroke="#222" stroke-width="0.1">288</text>
<line x1="441.79" y1="290.5" x2="441.79" y2="291.9" stroke="#7c7c7c" stroke-width="0.5"/>
<line x1="472.73" y1="290.5" x2="472.73" y2="292.7" stroke="#7c7c7c" stroke-width="0.6"/>
<text x="0" y="0" transform="translate(472.73,297.9) scale(0.82,1)" font-size="6.4" text-anchor="middle" font-weight="normal" font-family='"Liberation Serif", serif' fill="#222" stroke="#222" stroke-width="0.1">286</text>
<line x1="462.41" y1="290.5" x2="462.41" y2="291.9" stroke="#7c7c7c" stroke-width="0.5"/>
<line x1="493.35" y1="290.5" x2="493.35" y2="292.7" stroke="#7c7c7c" stroke-width="0.6"/>
<text x="0" y="0" transform="translate(493.35,297.9) scale(0.82,1)" font-size="6.4" text-anchor="middle" font-weight="normal" font-family='"Liberation Serif", serif' fill="#222" stroke="#222" stroke-width="0.1">284</text>
<line x1="483.04" y1="290.5" x2="483.04" y2="291.9" stroke="#7c7c7c" stroke-width="0.5"/>
<line x1="513.98" y1="290.5" x2="513.98" y2="292.7" stroke="#7c7c7c" stroke-width="0.6"/>
<text x="0" y="0" transform="translate(513.98,297.9) scale(0.82,1)" font-size="6.4" text-anchor="middle" font-weight="normal" font-family='"Liberation Serif", serif' fill="#222" stroke="#222" stroke-width="0.1">282</text>
<line x1="503.66" y1="290.5" x2="503.66" y2="291.9" stroke="#7c7c7c" stroke-width="0.5"/>
<line x1="534.6" y1="290.5" x2="534.6" y2="292.7" stroke="#7c7c7c" stroke-width="0.6"/>
<text x="0" y="0" transform="translate(534.6,297.9) scale(0.82,1)" font-size="6.4" text-anchor="middle" font-weight="normal" font-family='"Liberation Serif", serif' fill="#222" stroke="#222" stroke-width="0.1">280</text>
<line x1="524.29" y1="290.5" x2="524.29" y2="291.9" stroke="#7c7c7c" stroke-width="0.5"/>
<text x="0" y="0" transform="translate(452,303.5) scale(0.89,1)" font-size="7.1" text-anchor="middle" font-weight="normal" font-family='"Liberation Serif", serif' fill="#111" stroke="#111" stroke-width="0.12">Binding Energy (eV)</text>
<text x="0" y="0" font-size="6.5" text-anchor="middle" font-family='"Liberation Serif", serif' fill="#222" stroke="#222" stroke-width="0.12" transform="translate(365.8,218.5) rotate(-90) scale(1,0.92)">Intensity (a.u.)</text>
<text x="375.4" y="182.9" font-size="16.5" font-weight="bold" font-family='"Liberation Serif", serif' fill="#000">b<tspan font-size="10" dy="2.8">3</tspan></text>
<text x="0" y="0" transform="translate(371,164.6) scale(0.88,1)" font-size="7.9" text-anchor="start" font-weight="normal" font-family='"Liberation Serif", serif' fill="#222" >C 1s</text>
<polyline points="380.1,271.36 380.6,271.28 381.1,271.17 381.6,271.03 382.1,270.83 382.6,270.58 383.1,270.26 383.6,269.86 384.1,269.38 384.6,268.8 385.1,268.12 385.6,267.33 386.1,266.43 386.6,265.43 387.1,264.33 387.6,263.14 388.1,261.89 388.6,260.59 389.1,259.28 389.6,258 390.1,256.77 390.6,255.64 391.1,254.64 391.6,253.81 392.1,253.17 392.6,252.76 393.1,252.58 393.6,252.65 394.1,252.95 394.6,253.49 395.1,254.25 395.6,255.18 396.1,256.28 396.6,257.49 397.1,258.78 397.6,260.11 398.1,261.45 398.6,262.77 399.1,264.03 399.6,265.22 400.1,266.32 400.6,267.32 401.1,268.21 401.6,268.99 402.1,269.66 402.6,270.24 403.1,270.72 403.6,271.12 404.1,271.44 404.6,271.71 405.1,271.92 405.6,272.08 406.1,272.22" fill="none" stroke="#5a8fd0" stroke-width="0.5" stroke-linejoin="round" opacity="1.0"/>
<polyline points="394.1,271.85 394.6,271.8 395.1,271.72 395.6,271.62 396.1,271.49 396.6,271.33 397.1,271.12 397.6,270.86 398.1,270.55 398.6,270.16 399.1,269.7 399.6,269.14 400.1,268.47 400.6,267.69 401.1,266.76 401.6,265.69 402.1,264.45 402.6,263.03 403.1,261.41 403.6,259.58 404.1,257.53 404.6,255.24 405.1,252.71 405.6,249.93 406.1,246.91 406.6,243.64 407.1,240.14 407.6,236.43 408.1,232.51 408.6,228.42 409.1,224.2 409.6,219.87 410.1,215.48 410.6,211.07 411.1,206.71 411.6,202.45 412.1,198.33 412.6,194.43 413.1,190.8 413.6,187.48 414.1,184.55 414.6,182.03 415.1,179.98 415.6,178.44 416.1,177.41 416.6,176.93 417.1,177 417.6,177.63 418.1,178.79 418.6,180.48 419.1,182.66 419.6,185.3 420.1,188.35 420.6,191.76 421.1,195.49 421.6,199.48 422.1,203.66 422.6,207.98 423.1,212.39 423.6,216.83 424.1,221.25 424.6,225.59 425.1,229.83 425.6,233.92 426.1,237.84 426.6,241.55 427.1,245.03 427.6,248.29 428.1,251.29 428.6,254.06 429.1,256.57 429.6,258.85 430.1,260.89 430.6,262.71 431.1,264.33 431.6,265.75 432.1,266.99 432.6,268.06 433.1,268.99 433.6,269.78 434.1,270.46 434.6,271.04 435.1,271.52 435.6,271.92 436.1,272.26 436.6,272.54 437.1,272.78 437.6,272.97 438.1,273.13 438.6,273.26 439.1,273.36" fill="none" stroke="#5a8fd0" stroke-width="0.5" stroke-linejoin="round" opacity="1.0"/>
<polyline points="415.1,272.55 415.6,272.53 416.1,272.5 416.6,272.47 417.1,272.43 417.6,272.39 418.1,272.33 418.6,272.27 419.1,272.21 419.6,272.13 420.1,272.05 420.6,271.96 421.1,271.85 421.6,271.74 422.1,271.61 422.6,271.48 423.1,271.33 423.6,271.17 424.1,271 424.6,270.81 425.1,270.62 425.6,270.41 426.1,270.18 426.6,269.95 427.1,269.7 427.6,269.44 428.1,269.17 428.6,268.88 429.1,268.59 429.6,268.28 430.1,267.97 430.6,267.65 431.1,267.32 431.6,266.99 432.1,266.65 432.6,266.32 433.1,265.98 433.6,265.64 434.1,265.3 434.6,264.97 435.1,264.65 435.6,264.33 436.1,264.03 436.6,263.73 437.1,263.45 437.6,263.19 438.1,262.95 438.6,262.72 439.1,262.52 439.6,262.34 440.1,262.18 440.6,262.05 441.1,261.95 441.6,261.87 442.1,261.82 442.6,261.8 443.1,261.81 443.6,261.85 444.1,261.92 444.6,262.01 445.1,262.13 445.6,262.28 446.1,262.46 446.6,262.66 447.1,262.88 447.6,263.13 448.1,263.4 448.6,263.68 449.1,263.99 449.6,264.31 450.1,264.64 450.6,264.99 451.1,265.34 451.6,265.7 452.1,266.07 452.6,266.44 453.1,266.82 453.6,267.19 454.1,267.56 454.6,267.93 455.1,268.3 455.6,268.66 456.1,269.01 456.6,269.36 457.1,269.69 457.6,270.02 458.1,270.33 458.6,270.63 459.1,270.92 459.6,271.2 460.1,271.47 460.6,271.72 461.1,271.96 461.6,272.19 462.1,272.4 462.6,272.6 463.1,272.79 463.6,272.97 464.1,273.14 464.6,273.29 465.1,273.43 465.6,273.57 466.1,273.69 466.6,273.81 467.1,273.91 467.6,274.01 468.1,274.1 468.6,274.19 469.1,274.27 469.6,274.34 470.1,274.4 470.6,274.46 471.1,274.52" fill="none" stroke="#a0a0a0" stroke-width="0.5" stroke-linejoin="round" opacity="1.0"/>
<polyline points="444.6,273.61 445.1,273.57 445.6,273.51 446.1,273.43 446.6,273.34 447.1,273.22 447.6,273.08 448.1,272.91 448.6,272.7 449.1,272.45 449.6,272.16 450.1,271.81 450.6,271.41 451.1,270.95 451.6,270.42 452.1,269.81 452.6,269.11 453.1,268.33 453.6,267.45 454.1,266.47 454.6,265.39 455.1,264.19 455.6,262.88 456.1,261.45 456.6,259.91 457.1,258.26 457.6,256.49 458.1,254.62 458.6,252.65 459.1,250.59 459.6,248.45 460.1,246.26 460.6,244.01 461.1,241.74 461.6,239.46 462.1,237.19 462.6,234.96 463.1,232.78 463.6,230.7 464.1,228.72 464.6,226.87 465.1,225.19 465.6,223.68 466.1,222.36 466.6,221.27 467.1,220.4 467.6,219.78 468.1,219.41 468.6,219.3 469.1,219.45 469.6,219.85 470.1,220.51 470.6,221.41 471.1,222.54 471.6,223.89 472.1,225.43 472.6,227.15 473.1,229.03 473.6,231.05 474.1,233.17 474.6,235.37 475.1,237.64 475.6,239.94 476.1,242.26 476.6,244.57 477.1,246.85 477.6,249.08 478.1,251.25 478.6,253.35 479.1,255.35 479.6,257.26 480.1,259.06 480.6,260.75 481.1,262.33 481.6,263.79 482.1,265.13 482.6,266.36 483.1,267.48 483.6,268.5 484.1,269.41 484.6,270.23 485.1,270.96 485.6,271.6 486.1,272.17 486.6,272.67 487.1,273.1 487.6,273.48 488.1,273.81 488.6,274.09 489.1,274.34 489.6,274.54 490.1,274.72 490.6,274.87 491.1,275 491.6,275.11 492.1,275.21 492.6,275.29" fill="none" stroke="#52c46c" stroke-width="0.5" stroke-linejoin="round" opacity="1.0"/>
<polyline points="461.6,274.18 462.1,274.13 462.6,274.05 463.1,273.96 463.6,273.84 464.1,273.69 464.6,273.51 465.1,273.29 465.6,273.01 466.1,272.69 466.6,272.3 467.1,271.84 467.6,271.3 468.1,270.67 468.6,269.93 469.1,269.09 469.6,268.12 470.1,267.02 470.6,265.77 471.1,264.36 471.6,262.79 472.1,261.05 472.6,259.13 473.1,257.02 473.6,254.73 474.1,252.25 474.6,249.59 475.1,246.75 475.6,243.75 476.1,240.59 476.6,237.3 477.1,233.89 477.6,230.4 478.1,226.84 478.6,223.26 479.1,219.68 479.6,216.14 480.1,212.7 480.6,209.37 481.1,206.21 481.6,203.25 482.1,200.54 482.6,198.1 483.1,195.98 483.6,194.21 484.1,192.8 484.6,191.79 485.1,191.18 485.6,190.99 486.1,191.22 486.6,191.86 487.1,192.91 487.6,194.35 488.1,196.16 488.6,198.31 489.1,200.78 489.6,203.53 490.1,206.52 490.6,209.72 491.1,213.08 491.6,216.56 492.1,220.13 492.6,223.74 493.1,227.36 493.6,230.95 494.1,234.48 494.6,237.93 495.1,241.25 495.6,244.45 496.1,247.49 496.6,250.36 497.1,253.05 497.6,255.57 498.1,257.9 498.6,260.04 499.1,261.99 499.6,263.77 500.1,265.37 500.6,266.81 501.1,268.1 501.6,269.23 502.1,270.24 502.6,271.12 503.1,271.89 503.6,272.55 504.1,273.13 504.6,273.63 505.1,274.05 505.6,274.41 506.1,274.71 506.6,274.97 507.1,275.19 507.6,275.37 508.1,275.53 508.6,275.66 509.1,275.76 509.6,275.85" fill="none" stroke="#f2c744" stroke-width="0.5" stroke-linejoin="round" opacity="1.0"/>
<polyline points="375,271.44 534,276.98" fill="none" stroke="#9c9ad6" stroke-width="0.6" stroke-linejoin="round" opacity="1.0"/>
<polyline points="370.2,271.19 371.2,272.67 372.2,270.63 373.2,269.76 374.2,271.67 375.2,272.05 376.2,271.86 377.2,272.01 378.2,271.43 379.2,270.95 380.2,270.69 381.2,271.01 382.2,270.48 383.2,271.28 384.2,270.07 385.2,266.61 386.2,267.21 387.2,264.18 388.2,263.25 389.2,261.24 390.2,257.46 391.2,251.94 392.2,254.12 393.2,250.22 394.2,255.3 395.2,253.16 396.2,255.67 397.2,260.65 398.2,257.65 399.2,261.77 400.2,261.25 401.2,262.03 402.2,260.64 403.2,260.55 404.2,255.84 405.2,252.32 406.2,247.18 407.2,236.53 408.2,234.29 409.2,223 410.2,211.49 411.2,204.64 412.2,199.47 413.2,192.34 414.2,182.52 415.2,179.82 416.2,177.69 417.2,179.19 418.2,178.42 419.2,184.79 420.2,186.32 421.2,193.76 422.2,204.63 423.2,213.13 424.2,220.06 425.2,229.37 426.2,236.08 427.2,243.58 428.2,249.74 429.2,253.23 430.2,257.22 431.2,258.08 432.2,259.74 433.2,258.49 434.2,263.04 435.2,262.85 436.2,263.6 437.2,260.19 438.2,261.89 439.2,261.56 440.2,259.6 441.2,263.21 442.2,263.54 443.2,260.03 444.2,262.49 445.2,264.39 446.2,260.46 447.2,263.7 448.2,264.7 449.2,265.17 450.2,260.65 451.2,260.84 452.2,262.14 453.2,262.76 454.2,258.05 455.2,257.13 456.2,254.44 457.2,255.23 458.2,249.53 459.2,247.83 460.2,244.07 461.2,240.85 462.2,235.29 463.2,230.94 464.2,228.47 465.2,223.54 466.2,216.99 467.2,215.8 468.2,216.68 469.2,213.76 470.2,211.87 471.2,212.53 472.2,218.36 473.2,211.13 474.2,211.55 475.2,210.42 476.2,207.32 477.2,208.17 478.2,204.78 479.2,200.71 480.2,193.64 481.2,196.07 482.2,192.17 483.2,188.15 484.2,181.17 485.2,187.05 486.2,185.84 487.2,190.75 488.2,194.19 489.2,198.75 490.2,208.78 491.2,213.76 492.2,223.18 493.2,226.29 494.2,234.92 495.2,244.38 496.2,248.76 497.2,252.58 498.2,257.16 499.2,261.67 500.2,265.71 501.2,269.38 502.2,270.75 503.2,273.07 504.2,274.33 505.2,274.38 506.2,276.28 507.2,276.12 508.2,275.48 509.2,275.73 510.2,276.04 511.2,275.45 512.2,274.96 513.2,276.35 514.2,275.89 515.2,276.97 516.2,275.9 517.2,276.59 518.2,276.72 519.2,276.13 520.2,276.78 521.2,275.97 522.2,276.27 523.2,277.45 524.2,277.1 525.2,276.77 526.2,276.08 527.2,277.49 528.2,278.72 529.2,274.9 530.2,277.92 531.2,277.18 532.2,278.03 533.2,278.13" fill="none" stroke="#f24f4f" stroke-width="0.65" stroke-linejoin="round" opacity="1.0"/>
<text x="390" y="239.5" font-size="5.2" text-anchor="middle" font-family='"Liberation Serif", serif' fill="#111" stroke="#111" stroke-width="0.1" font-weight="normal">CF<tspan font-size="3.38" dy="1">3</tspan></text>
<text x="425.5" y="174" font-size="5.2" text-anchor="middle" font-family='"Liberation Serif", serif' fill="#111" stroke="#111" stroke-width="0.1" font-weight="normal">CF<tspan font-size="3.38" dy="1">2</tspan></text>
<text x="443.75" y="249.5" font-size="5.2" text-anchor="middle" font-weight="normal" font-family='"Liberation Serif", serif' fill="#111" stroke="#111" stroke-width="0.12">O-C=O</text>
<text x="462" y="203.3" font-size="5.2" text-anchor="middle" font-weight="normal" font-family='"Liberation Serif", serif' fill="#111" stroke="#111" stroke-width="0.12">C-O-C</text>
<text x="498.75" y="177" font-size="5.2" text-anchor="middle" font-weight="normal" font-family='"Liberation Serif", serif' fill="#111" stroke="#111" stroke-width="0.12">C-C</text>
<text x="498.75" y="184" font-size="5.2" text-anchor="middle" font-weight="normal" font-family='"Liberation Serif", serif' fill="#111" stroke="#111" stroke-width="0.12">C-H</text>
<line x1="417" y1="176" x2="422" y2="170.5" stroke="#111" stroke-width="0.65"/>
<polygon points="422,170.5 420.67,173.89 418.75,172.14" fill="#111"/>
<line x1="393" y1="252" x2="391" y2="241" stroke="#111" stroke-width="0.65"/>
<polygon points="391,241 392.89,244.11 390.33,244.58" fill="#111"/>
<line x1="443" y1="263" x2="443.5" y2="251" stroke="#111" stroke-width="0.65"/>
<polygon points="443.5,251 444.66,254.45 442.06,254.34" fill="#111"/>
<line x1="467" y1="219" x2="465" y2="206" stroke="#111" stroke-width="0.65"/>
<polygon points="465,206 466.8,209.16 464.23,209.56" fill="#111"/>
<line x1="485" y1="188" x2="492" y2="178" stroke="#111" stroke-width="0.65"/>
<polygon points="492,178 491.12,181.53 488.99,180.04" fill="#111"/>
<rect x="548.3" y="157.2" width="166.1" height="133.1" fill="none" stroke="#7c7c7c" stroke-width="1"/>
<line x1="548.3" y1="290.3" x2="548.3" y2="292.5" stroke="#7c7c7c" stroke-width="0.6"/>
<text x="0" y="0" transform="translate(548.3,298.4) scale(0.82,1)" font-size="6.4" text-anchor="middle" font-weight="normal" font-family='"Liberation Serif", serif' fill="#222" stroke="#222" stroke-width="0.1">538</text>
<line x1="578.5" y1="290.3" x2="578.5" y2="292.5" stroke="#7c7c7c" stroke-width="0.6"/>
<text x="0" y="0" transform="translate(578.5,298.4) scale(0.82,1)" font-size="6.4" text-anchor="middle" font-weight="normal" font-family='"Liberation Serif", serif' fill="#222" stroke="#222" stroke-width="0.1">536</text>
<line x1="563.4" y1="290.3" x2="563.4" y2="291.7" stroke="#7c7c7c" stroke-width="0.5"/>
<line x1="608.7" y1="290.3" x2="608.7" y2="292.5" stroke="#7c7c7c" stroke-width="0.6"/>
<text x="0" y="0" transform="translate(608.7,298.4) scale(0.82,1)" font-size="6.4" text-anchor="middle" font-weight="normal" font-family='"Liberation Serif", serif' fill="#222" stroke="#222" stroke-width="0.1">534</text>
<line x1="593.6" y1="290.3" x2="593.6" y2="291.7" stroke="#7c7c7c" stroke-width="0.5"/>
<line x1="638.9" y1="290.3" x2="638.9" y2="292.5" stroke="#7c7c7c" stroke-width="0.6"/>
<text x="0" y="0" transform="translate(638.9,298.4) scale(0.82,1)" font-size="6.4" text-anchor="middle" font-weight="normal" font-family='"Liberation Serif", serif' fill="#222" stroke="#222" stroke-width="0.1">532</text>
<line x1="623.8" y1="290.3" x2="623.8" y2="291.7" stroke="#7c7c7c" stroke-width="0.5"/>
<line x1="669.1" y1="290.3" x2="669.1" y2="292.5" stroke="#7c7c7c" stroke-width="0.6"/>
<text x="0" y="0" transform="translate(669.1,298.4) scale(0.82,1)" font-size="6.4" text-anchor="middle" font-weight="normal" font-family='"Liberation Serif", serif' fill="#222" stroke="#222" stroke-width="0.1">530</text>
<line x1="654" y1="290.3" x2="654" y2="291.7" stroke="#7c7c7c" stroke-width="0.5"/>
<line x1="699.3" y1="290.3" x2="699.3" y2="292.5" stroke="#7c7c7c" stroke-width="0.6"/>
<text x="0" y="0" transform="translate(699.3,298.4) scale(0.82,1)" font-size="6.4" text-anchor="middle" font-weight="normal" font-family='"Liberation Serif", serif' fill="#222" stroke="#222" stroke-width="0.1">528</text>
<line x1="684.2" y1="290.3" x2="684.2" y2="291.7" stroke="#7c7c7c" stroke-width="0.5"/>
<text x="0" y="0" transform="translate(630,304.3) scale(0.89,1)" font-size="7.1" text-anchor="middle" font-weight="normal" font-family='"Liberation Serif", serif' fill="#111" stroke="#111" stroke-width="0.12">Binding Energy (eV)</text>
<text x="0" y="0" font-size="6.5" text-anchor="middle" font-family='"Liberation Serif", serif' fill="#222" stroke="#222" stroke-width="0.12" transform="translate(544.8,218.5) rotate(-90) scale(1,0.92)">Intensity (a.u.)</text>
<text x="552.8" y="182.9" font-size="16.5" font-weight="bold" font-family='"Liberation Serif", serif' fill="#000">b<tspan font-size="10" dy="2.8">4</tspan></text>
<text x="0" y="0" transform="translate(550,164.6) scale(0.88,1)" font-size="7.6" text-anchor="start" font-weight="normal" font-family='"Liberation Serif", serif' fill="#222" >O 1s</text>
<polyline points="560,274.83 714,275.2" fill="none" stroke="#9c9ad6" stroke-width="0.6" stroke-linejoin="round" opacity="1.0"/>
<polyline points="548.9,273.49 549.9,273.99 550.9,274.33 551.9,273.98 552.9,274.08 553.9,273.48 554.9,273.9 555.9,273.83 556.9,274.28 557.9,273.99 558.9,273.9 559.9,273.62 560.9,273.56 561.9,273.83 562.9,274.28 563.9,273.09 564.9,272.73 565.9,274.44 566.9,274.27 567.9,273.89 568.9,273.75 569.9,273.43 570.9,273.4 571.9,273.05 572.9,273.67 573.9,273.31 574.9,272.61 575.9,273.08 576.9,272.99 577.9,272.88 578.9,273.77 579.9,273.35 580.9,271.61 581.9,272.89 582.9,272.98 583.9,272.92 584.9,272.54 585.9,271.23 586.9,272.14 587.9,271.57 588.9,271.85 589.9,271.13 590.9,269.97 591.9,270.99 592.9,269.29 593.9,269.82 594.9,269.04 595.9,268.08 596.9,266.75 597.9,266.74 598.9,266.04 599.9,265.62 600.9,264.78 601.9,264.72 602.9,263.11 603.9,262.3 604.9,259.79 605.9,258.58 606.9,257.49 607.9,255.47 608.9,252.96 609.9,249.64 610.9,246.23 611.9,244.43 612.9,239.14 613.9,235.09 614.9,231.69 615.9,225.77 616.9,219.98 617.9,215.41 618.9,208.9 619.9,204.09 620.9,197.17 621.9,190.87 622.9,187.88 623.9,181.88 624.9,176.54 625.9,172.59 626.9,168.78 627.9,167.6 628.9,166.38 629.9,168.6 630.9,170.51 631.9,171.97 632.9,175.48 633.9,180.61 634.9,185.38 635.9,191.33 636.9,197.15 637.9,203.11 638.9,209.33 639.9,214.2 640.9,221.18 641.9,224.98 642.9,231.63 643.9,236.3 644.9,241.23 645.9,245.02 646.9,248.97 647.9,251.15 648.9,254.72 649.9,257.07 650.9,259.77 651.9,261.44 652.9,262.57 653.9,263.71 654.9,264.57 655.9,265.61 656.9,266.51 657.9,267.18 658.9,267.31 659.9,267.41 660.9,268.02 661.9,269.2 662.9,268.96 663.9,269.78 664.9,269.46 665.9,271.24 666.9,271.31 667.9,271.39 668.9,271.88 669.9,272.46 670.9,272.4 671.9,272.7 672.9,272.77 673.9,272.43 674.9,272.33 675.9,273.47 676.9,272.97 677.9,273.69 678.9,273.76 679.9,273.22 680.9,273.22 681.9,273.32 682.9,274.2 683.9,273.65 684.9,273.6 685.9,274.07 686.9,273.45 687.9,273.62 688.9,273.67 689.9,273.9 690.9,273.49 691.9,273.76 692.9,274.09 693.9,273.71 694.9,273.73 695.9,274.29 696.9,273.8 697.9,274.12 698.9,274.51 699.9,274.29 700.9,274.93 701.9,274.27 702.9,273.79 703.9,274.48 704.9,274.46 705.9,274.67 706.9,273.91 707.9,274.4 708.9,274.85 709.9,274.56 710.9,274.9 711.9,274.27 712.9,274.7" fill="none" stroke="#f24f4f" stroke-width="0.65" stroke-linejoin="round" opacity="1.0"/>
<polyline points="593.8,274.63 594.3,274.58 594.8,274.53 595.3,274.46 595.8,274.38 596.3,274.29 596.8,274.19 597.3,274.07 597.8,273.93 598.3,273.77 598.8,273.59 599.3,273.38 599.8,273.15 600.3,272.89 600.8,272.59 601.3,272.25 601.8,271.88 602.3,271.45 602.8,270.98 603.3,270.46 603.8,269.88 604.3,269.23 604.8,268.52 605.3,267.74 605.8,266.88 606.3,265.94 606.8,264.91 607.3,263.8 607.8,262.59 608.3,261.28 608.8,259.87 609.3,258.35 609.8,256.72 610.3,254.98 610.8,253.12 611.3,251.16 611.8,249.07 612.3,246.87 612.8,244.56 613.3,242.14 613.8,239.6 614.3,236.97 614.8,234.23 615.3,231.4 615.8,228.49 616.3,225.51 616.8,222.45 617.3,219.34 617.8,216.19 618.3,213.01 618.8,209.82 619.3,206.62 619.8,203.44 620.3,200.3 620.8,197.2 621.3,194.17 621.8,191.22 622.3,188.37 622.8,185.64 623.3,183.04 623.8,180.6 624.3,178.33 624.8,176.24 625.3,174.34 625.8,172.66 626.3,171.19 626.8,169.96 627.3,168.98 627.8,168.23 628.3,167.75 628.8,167.51 629.3,167.54 629.8,167.83 630.3,168.37 630.8,169.16 631.3,170.2 631.8,171.48 632.3,172.99 632.8,174.72 633.3,176.66 633.8,178.79 634.3,181.1 634.8,183.58 635.3,186.2 635.8,188.96 636.3,191.83 636.8,194.8 637.3,197.85 637.8,200.97 638.3,204.12 638.8,207.31 639.3,210.51 639.8,213.7 640.3,216.88 640.8,220.03 641.3,223.13 641.8,226.17 642.3,229.15 642.8,232.04 643.3,234.86 643.8,237.57 644.3,240.19 644.8,242.71 645.3,245.11 645.8,247.4 646.3,249.58 646.8,251.65 647.3,253.59 647.8,255.43 648.3,257.15 648.8,258.75 649.3,260.25 649.8,261.65 650.3,262.94 650.8,264.13 651.3,265.23 651.8,266.24 652.3,267.17 652.8,268.02 653.3,268.79 653.8,269.49 654.3,270.12 654.8,270.69 655.3,271.21 655.8,271.67 656.3,272.09 656.8,272.46 657.3,272.79 657.8,273.08 658.3,273.34 658.8,273.57 659.3,273.77 659.8,273.95 660.3,274.11 660.8,274.24 661.3,274.36 661.8,274.47 662.3,274.56 662.8,274.64 663.3,274.7 663.8,274.76 664.3,274.81" fill="none" stroke="#5a8fd0" stroke-width="0.5" stroke-linejoin="round" opacity="1.0"/>
<polyline points="582.8,274.61 583.3,274.58 583.8,274.54 584.3,274.5 584.8,274.45 585.3,274.4 585.8,274.35 586.3,274.29 586.8,274.23 587.3,274.17 587.8,274.09 588.3,274.02 588.8,273.94 589.3,273.85 589.8,273.77 590.3,273.67 590.8,273.58 591.3,273.47 591.8,273.37 592.3,273.26 592.8,273.15 593.3,273.04 593.8,272.93 594.3,272.81 594.8,272.7 595.3,272.58 595.8,272.47 596.3,272.35 596.8,272.24 597.3,272.13 597.8,272.03 598.3,271.93 598.8,271.84 599.3,271.75 599.8,271.67 600.3,271.6 600.8,271.53 601.3,271.47 601.8,271.43 602.3,271.39 602.8,271.36 603.3,271.34 603.8,271.33 604.3,271.34 604.8,271.35 605.3,271.37 605.8,271.4 606.3,271.45 606.8,271.5 607.3,271.56 607.8,271.63 608.3,271.71 608.8,271.79 609.3,271.88 609.8,271.98 610.3,272.08 610.8,272.19 611.3,272.3 611.8,272.41 612.3,272.53 612.8,272.65 613.3,272.76 613.8,272.88 614.3,273 614.8,273.11 615.3,273.23 615.8,273.34 616.3,273.45 616.8,273.56 617.3,273.66 617.8,273.76 618.3,273.85 618.8,273.94 619.3,274.03 619.8,274.11 620.3,274.19 620.8,274.26 621.3,274.33 621.8,274.39 622.3,274.45 622.8,274.5 623.3,274.55 623.8,274.6 624.3,274.64 624.8,274.68 625.3,274.72" fill="none" stroke="#f2c744" stroke-width="0.5" stroke-linejoin="round" opacity="1.0"/>
<polyline points="649.3,274.75 649.8,274.68 650.3,274.61 650.8,274.53 651.3,274.45 651.8,274.35 652.3,274.24 652.8,274.12 653.3,274 653.8,273.88 654.3,273.75 654.8,273.62 655.3,273.49 655.8,273.37 656.3,273.25 656.8,273.15 657.3,273.06 657.8,272.98 658.3,272.93 658.8,272.89 659.3,272.87 659.8,272.87 660.3,272.9 660.8,272.94 661.3,273.01 661.8,273.09 662.3,273.18 662.8,273.29 663.3,273.41 663.8,273.54 664.3,273.67 664.8,273.8 665.3,273.93 665.8,274.06 666.3,274.18 666.8,274.3 667.3,274.4 667.8,274.5 668.3,274.59 668.8,274.67 669.3,274.75 669.8,274.81" fill="none" stroke="#52c46c" stroke-width="0.5" stroke-linejoin="round" opacity="1.0"/>
<text x="640" y="166.5" font-size="5.2" text-anchor="middle" font-family='"Liberation Serif", serif' fill="#111" stroke="#111" stroke-width="0.1" font-weight="normal">SiO<tspan font-size="3.38" dy="1">2</tspan></text>
<line x1="630" y1="168" x2="636" y2="165" stroke="#111" stroke-width="0.65"/>
<polygon points="636,165 633.54,167.68 632.38,165.36" fill="#111"/>
<line x1="605" y1="271" x2="599" y2="260" stroke="#111" stroke-width="0.65"/>
<polygon points="599,260 601.77,262.36 599.49,263.61" fill="#111"/>
<line x1="660" y1="273" x2="665" y2="263" stroke="#111" stroke-width="0.65"/>
<polygon points="665,263 664.64,266.62 662.32,265.46" fill="#111"/>
<text x="596.2" y="259.2" font-size="5.2" text-anchor="middle" font-weight="normal" font-family='"Liberation Sans", sans-serif' fill="#111" >C-O-C</text>
<text x="668.8" y="262.9" font-size="5.2" text-anchor="middle" font-weight="normal" font-family='"Liberation Sans", sans-serif' fill="#111" >O-C=O</text>
<rect x="188.2" y="308.4" width="166.3" height="132.9" fill="none" stroke="#7c7c7c" stroke-width="1"/>
<line x1="188.2" y1="441.3" x2="188.2" y2="443.5" stroke="#7c7c7c" stroke-width="0.6"/>
<text x="0" y="0" transform="translate(188.2,447.9) scale(0.82,1)" font-size="6.4" text-anchor="middle" font-weight="normal" font-family='"Liberation Serif", serif' fill="#222" stroke="#222" stroke-width="0.1">108</text>
<line x1="218.3" y1="441.3" x2="218.3" y2="443.5" stroke="#7c7c7c" stroke-width="0.6"/>
<text x="0" y="0" transform="translate(218.3,447.9) scale(0.82,1)" font-size="6.4" text-anchor="middle" font-weight="normal" font-family='"Liberation Serif", serif' fill="#222" stroke="#222" stroke-width="0.1">106</text>
<line x1="203.25" y1="441.3" x2="203.25" y2="442.7" stroke="#7c7c7c" stroke-width="0.5"/>
<line x1="248.4" y1="441.3" x2="248.4" y2="443.5" stroke="#7c7c7c" stroke-width="0.6"/>
<text x="0" y="0" transform="translate(248.4,447.9) scale(0.82,1)" font-size="6.4" text-anchor="middle" font-weight="normal" font-family='"Liberation Serif", serif' fill="#222" stroke="#222" stroke-width="0.1">104</text>
<line x1="233.35" y1="441.3" x2="233.35" y2="442.7" stroke="#7c7c7c" stroke-width="0.5"/>
<line x1="278.5" y1="441.3" x2="278.5" y2="443.5" stroke="#7c7c7c" stroke-width="0.6"/>
<text x="0" y="0" transform="translate(278.5,447.9) scale(0.82,1)" font-size="6.4" text-anchor="middle" font-weight="normal" font-family='"Liberation Serif", serif' fill="#222" stroke="#222" stroke-width="0.1">102</text>
<line x1="263.45" y1="441.3" x2="263.45" y2="442.7" stroke="#7c7c7c" stroke-width="0.5"/>
<line x1="308.6" y1="441.3" x2="308.6" y2="443.5" stroke="#7c7c7c" stroke-width="0.6"/>
<text x="0" y="0" transform="translate(308.6,447.9) scale(0.82,1)" font-size="6.4" text-anchor="middle" font-weight="normal" font-family='"Liberation Serif", serif' fill="#222" stroke="#222" stroke-width="0.1">100</text>
<line x1="293.55" y1="441.3" x2="293.55" y2="442.7" stroke="#7c7c7c" stroke-width="0.5"/>
<line x1="338.7" y1="441.3" x2="338.7" y2="443.5" stroke="#7c7c7c" stroke-width="0.6"/>
<text x="0" y="0" transform="translate(338.7,447.9) scale(0.82,1)" font-size="6.4" text-anchor="middle" font-weight="normal" font-family='"Liberation Serif", serif' fill="#222" stroke="#222" stroke-width="0.1">98</text>
<line x1="323.65" y1="441.3" x2="323.65" y2="442.7" stroke="#7c7c7c" stroke-width="0.5"/>
<line x1="353.75" y1="441.3" x2="353.75" y2="442.7" stroke="#7c7c7c" stroke-width="0.5"/>
<text x="0" y="0" transform="translate(269,453.8) scale(0.89,1)" font-size="7.1" text-anchor="middle" font-weight="normal" font-family='"Liberation Serif", serif' fill="#111" stroke="#111" stroke-width="0.12">Binding Energy (eV)</text>
<text x="0" y="0" font-size="6.5" text-anchor="middle" font-family='"Liberation Serif", serif' fill="#222" stroke="#222" stroke-width="0.12" transform="translate(184.3,372) rotate(-90) scale(1,0.92)">Intensity (a.u.)</text>
<text x="194.1" y="329.8" font-size="16.5" font-weight="bold" font-family='"Liberation Serif", serif' fill="#000">c<tspan font-size="10" dy="2.8">2</tspan></text>
<text x="0" y="0" transform="translate(190.9,315) scale(0.88,1)" font-size="6.3" text-anchor="start" font-weight="normal" font-family='"Liberation Serif", serif' fill="#222" >Si 2p</text>
<polyline points="192,423 352,423" fill="none" stroke="#f2c744" stroke-width="0.6" stroke-linejoin="round" opacity="1.0"/>
<polyline points="188.8,422.37 189.8,422 190.8,422.17 191.8,422.63 192.8,421.48 193.8,423.64 194.8,422.61 195.8,422.92 196.8,422.63 197.8,423 198.8,422.47 199.8,422.95 200.8,422.93 201.8,422.86 202.8,422.37 203.8,423.13 204.8,422.62 205.8,422.72 206.8,422.71 207.8,423.08 208.8,421.93 209.8,422.98 210.8,422.63 211.8,421.99 212.8,423.04 213.8,422.85 214.8,422.4 215.8,421.89 216.8,422.12 217.8,421.98 218.8,423.05 219.8,421.79 220.8,422.52 221.8,421.02 222.8,422.19 223.8,422.67 224.8,421.9 225.8,421.06 226.8,421.64 227.8,421.91 228.8,421.44 229.8,421.28 230.8,421.23 231.8,420.94 232.8,420.13 233.8,420.49 234.8,420.31 235.8,419.72 236.8,418.08 237.8,417.78 238.8,417.69 239.8,414.85 240.8,414.49 241.8,412.16 242.8,411.11 243.8,408.32 244.8,406.42 245.8,403.39 246.8,399.32 247.8,396.06 248.8,391.45 249.8,388 250.8,382.38 251.8,376.49 252.8,371.73 253.8,367.94 254.8,361.67 255.8,355.63 256.8,349.28 257.8,343 258.8,339.69 259.8,334.89 260.8,328.95 261.8,326.78 262.8,325.05 263.8,321.94 264.8,320.5 265.8,320.65 266.8,321.16 267.8,322.94 268.8,323.96 269.8,327.61 270.8,329.72 271.8,334.16 272.8,340.24 273.8,345.23 274.8,350.19 275.8,355.51 276.8,363.09 277.8,367.82 278.8,372 279.8,376.77 280.8,384.4 281.8,387.67 282.8,390.81 283.8,395.44 284.8,400.26 285.8,404.1 286.8,407.25 287.8,409.13 288.8,410.66 289.8,412.46 290.8,414.68 291.8,416.5 292.8,416.99 293.8,417.65 294.8,418.47 295.8,420 296.8,419.89 297.8,421.49 298.8,420.56 299.8,419.8 300.8,420.81 301.8,420.9 302.8,421.5 303.8,422.32 304.8,421.36 305.8,422.18 306.8,422.89 307.8,422.44 308.8,422.43 309.8,422.61 310.8,422.73 311.8,422.01 312.8,422.53 313.8,422.05 314.8,421.89 315.8,422.46 316.8,422.19 317.8,422.82 318.8,421.59 319.8,422.76 320.8,422.68 321.8,422.45 322.8,422.23 323.8,422.03 324.8,422.43 325.8,422.62 326.8,422.31 327.8,422.89 328.8,422.18 329.8,423.06 330.8,422.36 331.8,422.91 332.8,422.45 333.8,423.89 334.8,421.7 335.8,423.44 336.8,423.02 337.8,423.27 338.8,422.02 339.8,422.46 340.8,421.79 341.8,422.63 342.8,422.6 343.8,422.66 344.8,422.48 345.8,422.18 346.8,422.77 347.8,423.49 348.8,422.95 349.8,422.46 350.8,422.99 351.8,423.08 352.8,422.37 353.8,422.53" fill="none" stroke="#f24f4f" stroke-width="0.65" stroke-linejoin="round" opacity="1.0"/>
<polyline points="230.2,422.72 230.7,422.67 231.2,422.62 231.7,422.55 232.2,422.47 232.7,422.38 233.2,422.28 233.7,422.16 234.2,422.03 234.7,421.87 235.2,421.7 235.7,421.5 236.2,421.27 236.7,421.02 237.2,420.73 237.7,420.41 238.2,420.05 238.7,419.65 239.2,419.2 239.7,418.7 240.2,418.15 240.7,417.54 241.2,416.86 241.7,416.12 242.2,415.31 242.7,414.42 243.2,413.46 243.7,412.41 244.2,411.27 244.7,410.04 245.2,408.71 245.7,407.28 246.2,405.76 246.7,404.13 247.2,402.39 247.7,400.55 248.2,398.59 248.7,396.53 249.2,394.37 249.7,392.1 250.2,389.73 250.7,387.26 251.2,384.69 251.7,382.04 252.2,379.31 252.7,376.51 253.2,373.64 253.7,370.72 254.2,367.75 254.7,364.76 255.2,361.74 255.7,358.72 256.2,355.71 256.7,352.72 257.2,349.77 257.7,346.88 258.2,344.06 258.7,341.33 259.2,338.7 259.7,336.19 260.2,333.81 260.7,331.59 261.2,329.52 261.7,327.64 262.2,325.95 262.7,324.45 263.2,323.17 263.7,322.11 264.2,321.28 264.7,320.68 265.2,320.32 265.7,320.2 266.2,320.32 266.7,320.68 267.2,321.28 267.7,322.11 268.2,323.17 268.7,324.45 269.2,325.95 269.7,327.64 270.2,329.52 270.7,331.59 271.2,333.81 271.7,336.19 272.2,338.7 272.7,341.33 273.2,344.06 273.7,346.88 274.2,349.77 274.7,352.72 275.2,355.71 275.7,358.72 276.2,361.74 276.7,364.76 277.2,367.75 277.7,370.72 278.2,373.64 278.7,376.51 279.2,379.31 279.7,382.04 280.2,384.69 280.7,387.26 281.2,389.73 281.7,392.1 282.2,394.37 282.7,396.53 283.2,398.59 283.7,400.55 284.2,402.39 284.7,404.13 285.2,405.76 285.7,407.28 286.2,408.71 286.7,410.04 287.2,411.27 287.7,412.41 288.2,413.46 288.7,414.42 289.2,415.31 289.7,416.12 290.2,416.86 290.7,417.54 291.2,418.15 291.7,418.7 292.2,419.2 292.7,419.65 293.2,420.05 293.7,420.41 294.2,420.73 294.7,421.02 295.2,421.27 295.7,421.5 296.2,421.7 296.7,421.87 297.2,422.03 297.7,422.16 298.2,422.28 298.7,422.38 299.2,422.47 299.7,422.55 300.2,422.62 300.7,422.67 301.2,422.72" fill="none" stroke="#62d88a" stroke-width="0.5" stroke-linejoin="round" opacity="1.0"/>
<text x="277.5" y="317.5" font-size="5.2" text-anchor="middle" font-family='"Liberation Serif", serif' fill="#111" stroke="#111" stroke-width="0.1" font-weight="normal">SiO<tspan font-size="3.38" dy="1">2</tspan></text>
<line x1="268" y1="323" x2="273" y2="317" stroke="#111" stroke-width="0.65"/>
<polygon points="273,317 271.82,320.44 269.82,318.78" fill="#111"/>
<rect x="367.8" y="308.4" width="165.7" height="132.9" fill="none" stroke="#7c7c7c" stroke-width="1"/>
<line x1="378.77" y1="441.3" x2="378.77" y2="443.5" stroke="#7c7c7c" stroke-width="0.6"/>
<text x="0" y="0" transform="translate(378.77,447.9) scale(0.82,1)" font-size="6.4" text-anchor="middle" font-weight="normal" font-family='"Liberation Serif", serif' fill="#222" stroke="#222" stroke-width="0.1">294</text>
<line x1="400.72" y1="441.3" x2="400.72" y2="443.5" stroke="#7c7c7c" stroke-width="0.6"/>
<text x="0" y="0" transform="translate(400.72,447.9) scale(0.82,1)" font-size="6.4" text-anchor="middle" font-weight="normal" font-family='"Liberation Serif", serif' fill="#222" stroke="#222" stroke-width="0.1">292</text>
<line x1="389.75" y1="441.3" x2="389.75" y2="442.7" stroke="#7c7c7c" stroke-width="0.5"/>
<line x1="422.67" y1="441.3" x2="422.67" y2="443.5" stroke="#7c7c7c" stroke-width="0.6"/>
<text x="0" y="0" transform="translate(422.67,447.9) scale(0.82,1)" font-size="6.4" text-anchor="middle" font-weight="normal" font-family='"Liberation Serif", serif' fill="#222" stroke="#222" stroke-width="0.1">290</text>
<line x1="411.69" y1="441.3" x2="411.69" y2="442.7" stroke="#7c7c7c" stroke-width="0.5"/>
<line x1="444.61" y1="441.3" x2="444.61" y2="443.5" stroke="#7c7c7c" stroke-width="0.6"/>
<text x="0" y="0" transform="translate(444.61,447.9) scale(0.82,1)" font-size="6.4" text-anchor="middle" font-weight="normal" font-family='"Liberation Serif", serif' fill="#222" stroke="#222" stroke-width="0.1">288</text>
<line x1="433.64" y1="441.3" x2="433.64" y2="442.7" stroke="#7c7c7c" stroke-width="0.5"/>
<line x1="466.56" y1="441.3" x2="466.56" y2="443.5" stroke="#7c7c7c" stroke-width="0.6"/>
<text x="0" y="0" transform="translate(466.56,447.9) scale(0.82,1)" font-size="6.4" text-anchor="middle" font-weight="normal" font-family='"Liberation Serif", serif' fill="#222" stroke="#222" stroke-width="0.1">286</text>
<line x1="455.59" y1="441.3" x2="455.59" y2="442.7" stroke="#7c7c7c" stroke-width="0.5"/>
<line x1="488.51" y1="441.3" x2="488.51" y2="443.5" stroke="#7c7c7c" stroke-width="0.6"/>
<text x="0" y="0" transform="translate(488.51,447.9) scale(0.82,1)" font-size="6.4" text-anchor="middle" font-weight="normal" font-family='"Liberation Serif", serif' fill="#222" stroke="#222" stroke-width="0.1">284</text>
<line x1="477.54" y1="441.3" x2="477.54" y2="442.7" stroke="#7c7c7c" stroke-width="0.5"/>
<line x1="510.46" y1="441.3" x2="510.46" y2="443.5" stroke="#7c7c7c" stroke-width="0.6"/>
<text x="0" y="0" transform="translate(510.46,447.9) scale(0.82,1)" font-size="6.4" text-anchor="middle" font-weight="normal" font-family='"Liberation Serif", serif' fill="#222" stroke="#222" stroke-width="0.1">282</text>
<line x1="499.48" y1="441.3" x2="499.48" y2="442.7" stroke="#7c7c7c" stroke-width="0.5"/>
<line x1="532.4" y1="441.3" x2="532.4" y2="443.5" stroke="#7c7c7c" stroke-width="0.6"/>
<text x="0" y="0" transform="translate(532.4,447.9) scale(0.82,1)" font-size="6.4" text-anchor="middle" font-weight="normal" font-family='"Liberation Serif", serif' fill="#222" stroke="#222" stroke-width="0.1">280</text>
<line x1="521.43" y1="441.3" x2="521.43" y2="442.7" stroke="#7c7c7c" stroke-width="0.5"/>
<text x="0" y="0" transform="translate(451,453.8) scale(0.89,1)" font-size="7.1" text-anchor="middle" font-weight="normal" font-family='"Liberation Serif", serif' fill="#111" stroke="#111" stroke-width="0.12">Binding Energy (eV)</text>
<text x="0" y="0" font-size="6.5" text-anchor="middle" font-family='"Liberation Serif", serif' fill="#222" stroke="#222" stroke-width="0.12" transform="translate(364.3,372) rotate(-90) scale(1,0.92)">Intensity (a.u.)</text>
<text x="370.6" y="329.8" font-size="16.5" font-weight="bold" font-family='"Liberation Serif", serif' fill="#000">c<tspan font-size="10" dy="2.8">3</tspan></text>
<text x="0" y="0" transform="translate(371,315.5) scale(0.88,1)" font-size="7.8" text-anchor="start" font-weight="normal" font-family='"Liberation Serif", serif' fill="#222" >C 1s</text>
<polyline points="369.8,416.57 370.3,416.51 370.8,416.45 371.3,416.37 371.8,416.27 372.3,416.15 372.8,416.02 373.3,415.86 373.8,415.67 374.3,415.47 374.8,415.23 375.3,414.96 375.8,414.67 376.3,414.34 376.8,413.99 377.3,413.6 377.8,413.19 378.3,412.75 378.8,412.29 379.3,411.81 379.8,411.31 380.3,410.81 380.8,410.3 381.3,409.79 381.8,409.29 382.3,408.81 382.8,408.35 383.3,407.92 383.8,407.53 384.3,407.18 384.8,406.89 385.3,406.65 385.8,406.47 386.3,406.36 386.8,406.31 387.3,406.33 387.8,406.42 388.3,406.57 388.8,406.79 389.3,407.07 389.8,407.4 390.3,407.78 390.8,408.2 391.3,408.67 391.8,409.16 392.3,409.67 392.8,410.2 393.3,410.73 393.8,411.27 394.3,411.8 394.8,412.32 395.3,412.82 395.8,413.31 396.3,413.77 396.8,414.2 397.3,414.61 397.8,414.98 398.3,415.33 398.8,415.65 399.3,415.93 399.8,416.19 400.3,416.42 400.8,416.62 401.3,416.8 401.8,416.96 402.3,417.1 402.8,417.22 403.3,417.33 403.8,417.42 404.3,417.49" fill="none" stroke="#52c46c" stroke-width="0.5" stroke-linejoin="round" opacity="1.0"/>
<polyline points="384.3,416.94 384.8,416.9 385.3,416.84 385.8,416.77 386.3,416.68 386.8,416.58 387.3,416.45 387.8,416.31 388.3,416.14 388.8,415.94 389.3,415.71 389.8,415.45 390.3,415.14 390.8,414.8 391.3,414.41 391.8,413.97 392.3,413.47 392.8,412.92 393.3,412.3 393.8,411.62 394.3,410.86 394.8,410.03 395.3,409.12 395.8,408.13 396.3,407.06 396.8,405.9 397.3,404.66 397.8,403.33 398.3,401.92 398.8,400.42 399.3,398.85 399.8,397.19 400.3,395.47 400.8,393.69 401.3,391.84 401.8,389.95 402.3,388.03 402.8,386.07 403.3,384.11 403.8,382.14 404.3,380.19 404.8,378.26 405.3,376.39 405.8,374.57 406.3,372.82 406.8,371.17 407.3,369.62 407.8,368.19 408.3,366.89 408.8,365.75 409.3,364.75 409.8,363.93 410.3,363.29 410.8,362.83 411.3,362.55 411.8,362.47 412.3,362.58 412.8,362.88 413.3,363.37 413.8,364.04 414.3,364.89 414.8,365.9 415.3,367.08 415.8,368.4 416.3,369.86 416.8,371.43 417.3,373.11 417.8,374.88 418.3,376.73 418.8,378.64 419.3,380.59 419.8,382.57 420.3,384.56 420.8,386.55 421.3,388.53 421.8,390.48 422.3,392.4 422.8,394.27 423.3,396.08 423.8,397.83 424.3,399.51 424.8,401.11 425.3,402.63 425.8,404.07 426.3,405.43 426.8,406.7 427.3,407.88 427.8,408.98 428.3,410 428.8,410.93 429.3,411.79 429.8,412.57 430.3,413.28 430.8,413.93 431.3,414.51 431.8,415.03 432.3,415.5 432.8,415.92 433.3,416.29 433.8,416.61 434.3,416.9 434.8,417.16 435.3,417.38 435.8,417.58 436.3,417.75 436.8,417.9 437.3,418.03 437.8,418.15 438.3,418.25 438.8,418.33 439.3,418.4" fill="none" stroke="#f2c744" stroke-width="0.5" stroke-linejoin="round" opacity="1.0"/>
<polyline points="421.3,417.91 421.8,417.83 422.3,417.73 422.8,417.62 423.3,417.47 423.8,417.29 424.3,417.09 424.8,416.84 425.3,416.56 425.8,416.24 426.3,415.89 426.8,415.49 427.3,415.06 427.8,414.6 428.3,414.11 428.8,413.61 429.3,413.09 429.8,412.56 430.3,412.05 430.8,411.56 431.3,411.1 431.8,410.68 432.3,410.31 432.8,410.01 433.3,409.79 433.8,409.64 434.3,409.57 434.8,409.59 435.3,409.7 435.8,409.89 436.3,410.16 436.8,410.5 437.3,410.91 437.8,411.36 438.3,411.86 438.8,412.38 439.3,412.92 439.8,413.47 440.3,414.02 440.8,414.55 441.3,415.06 441.8,415.54 442.3,415.99 442.8,416.4 443.3,416.78 443.8,417.12 444.3,417.42 444.8,417.68 445.3,417.91 445.8,418.1 446.3,418.27 446.8,418.41 447.3,418.53 447.8,418.63" fill="none" stroke="#a0a0a0" stroke-width="0.5" stroke-linejoin="round" opacity="1.0"/>
<polyline points="440.8,418.45 441.3,418.28 441.8,418.01 442.3,417.6 442.8,417.03 443.3,416.24 443.8,415.21 444.3,413.92 444.8,412.38 445.3,410.62 445.8,408.7 446.3,406.74 446.8,404.87 447.3,403.23 447.8,401.96 448.3,401.18 448.8,400.95 449.3,401.32 449.8,402.23 450.3,403.62 450.8,405.34 451.3,407.27 451.8,409.25 452.3,411.17 452.8,412.92 453.3,414.44 453.8,415.71 454.3,416.71 454.8,417.48 455.3,418.05 455.8,418.45 456.3,418.72 456.8,418.91" fill="none" stroke="#5a8fd0" stroke-width="0.5" stroke-linejoin="round" opacity="1.0"/>
<polyline points="444.8,418.55 445.3,418.49 445.8,418.41 446.3,418.31 446.8,418.19 447.3,418.05 447.8,417.87 448.3,417.65 448.8,417.39 449.3,417.09 449.8,416.72 450.3,416.3 450.8,415.8 451.3,415.22 451.8,414.55 452.3,413.79 452.8,412.91 453.3,411.92 453.8,410.79 454.3,409.53 454.8,408.13 455.3,406.56 455.8,404.84 456.3,402.94 456.8,400.87 457.3,398.63 457.8,396.21 458.3,393.61 458.8,390.85 459.3,387.92 459.8,384.84 460.3,381.62 460.8,378.28 461.3,374.83 461.8,371.31 462.3,367.73 462.8,364.13 463.3,360.54 463.8,356.99 464.3,353.52 464.8,350.16 465.3,346.94 465.8,343.91 466.3,341.1 466.8,338.54 467.3,336.27 467.8,334.31 468.3,332.69 468.8,331.42 469.3,330.54 469.8,330.04 470.3,329.93 470.8,330.22 471.3,330.9 471.8,331.97 472.3,333.4 472.8,335.19 473.3,337.31 473.8,339.72 474.3,342.41 474.8,345.34 475.3,348.48 475.8,351.78 476.3,355.22 476.8,358.76 477.3,362.35 477.8,365.98 478.3,369.6 478.8,373.18 479.3,376.7 479.8,380.14 480.3,383.46 480.8,386.65 481.3,389.7 481.8,392.59 482.3,395.32 482.8,397.87 483.3,400.25 483.8,402.44 484.3,404.47 484.8,406.32 485.3,408.01 485.8,409.53 486.3,410.91 486.8,412.14 487.3,413.24 487.8,414.21 488.3,415.07 488.8,415.82 489.3,416.48 489.8,417.05 490.3,417.54 490.8,417.97 491.3,418.34 491.8,418.65 492.3,418.92 492.8,419.14 493.3,419.34 493.8,419.5 494.3,419.63 494.8,419.75 495.3,419.85 495.8,419.93" fill="none" stroke="#f08080" stroke-width="0.5" stroke-linejoin="round" opacity="1.0"/>
<polyline points="464.8,419.08 465.3,419.01 465.8,418.92 466.3,418.8 466.8,418.64 467.3,418.45 467.8,418.21 468.3,417.92 468.8,417.56 469.3,417.12 469.8,416.6 470.3,415.98 470.8,415.25 471.3,414.39 471.8,413.39 472.3,412.23 472.8,410.91 473.3,409.4 473.8,407.69 474.3,405.77 474.8,403.64 475.3,401.29 475.8,398.71 476.3,395.91 476.8,392.88 477.3,389.65 477.8,386.22 478.3,382.62 478.8,378.87 479.3,375.01 479.8,371.07 480.3,367.09 480.8,363.12 481.3,359.21 481.8,355.41 482.3,351.78 482.8,348.37 483.3,345.22 483.8,342.4 484.3,339.94 484.8,337.89 485.3,336.28 485.8,335.15 486.3,334.51 486.8,334.37 487.3,334.74 487.8,335.6 488.3,336.96 488.8,338.77 489.3,341.01 489.8,343.65 490.3,346.63 490.8,349.92 491.3,353.46 491.8,357.19 492.3,361.06 492.8,365.03 493.3,369.03 493.8,373.03 494.3,376.97 494.8,380.82 495.3,384.54 495.8,388.1 496.3,391.48 496.8,394.65 497.3,397.62 497.8,400.36 498.3,402.87 498.8,405.16 499.3,407.23 499.8,409.09 500.3,410.74 500.8,412.21 501.3,413.49 501.8,414.61 502.3,415.58 502.8,416.41 503.3,417.12 503.8,417.73 504.3,418.24 504.8,418.67 505.3,419.03 505.8,419.33 506.3,419.57 506.8,419.78 507.3,419.94 507.8,420.08 508.3,420.19 508.8,420.28" fill="none" stroke="#5a8fd0" stroke-width="0.5" stroke-linejoin="round" opacity="1.0"/>
<polyline points="368,416.81 533,421.19" fill="none" stroke="#f08080" stroke-width="0.6" stroke-linejoin="round" opacity="1.0"/>
<polyline points="368.4,418.59 369.4,415.6 370.4,416.8 371.4,416.1 372.4,415.29 373.4,415.26 374.4,414.9 375.4,414.8 376.4,414.67 377.4,414.6 378.4,412.86 379.4,412.9 380.4,411.13 381.4,409.67 382.4,408.26 383.4,406.38 384.4,404.79 385.4,406 386.4,405.43 387.4,405.79 388.4,405.71 389.4,403.75 390.4,404.57 391.4,404.18 392.4,406.87 393.4,405.31 394.4,405.17 395.4,403.08 396.4,401.39 397.4,400.63 398.4,399.18 399.4,397.42 400.4,391.63 401.4,391 402.4,385.63 403.4,382.39 404.4,378.89 405.4,375.03 406.4,373.02 407.4,370.62 408.4,367.07 409.4,363.49 410.4,363.78 411.4,363.04 412.4,364 413.4,363.83 414.4,362.15 415.4,365.9 416.4,369.35 417.4,374.84 418.4,376.71 419.4,382.2 420.4,385.1 421.4,386.7 422.4,392.2 423.4,396.28 424.4,399.04 425.4,399.01 426.4,403.61 427.4,403.85 428.4,403.03 429.4,405.69 430.4,404.35 431.4,405.46 432.4,409.02 433.4,410.53 434.4,409.18 435.4,409.01 436.4,411.59 437.4,410.72 438.4,410.31 439.4,409.82 440.4,414.65 441.4,411.95 442.4,411.47 443.4,413.12 444.4,412.01 445.4,407.77 446.4,406.33 447.4,401.21 448.4,399.19 449.4,398.9 450.4,398.46 451.4,401.22 452.4,405.24 453.4,400.71 454.4,400.47 455.4,397.88 456.4,392.28 457.4,388.39 458.4,380.85 459.4,377.77 460.4,373.33 461.4,369.76 462.4,363.86 463.4,355.26 464.4,348.31 465.4,348.12 466.4,340.97 467.4,330.76 468.4,330.18 469.4,326.52 470.4,325.86 471.4,323.58 472.4,327.27 473.4,328.91 474.4,331.75 475.4,336.61 476.4,336.93 477.4,335.35 478.4,334.7 479.4,336.45 480.4,338.23 481.4,335.61 482.4,329.99 483.4,331.15 484.4,327.91 485.4,325.11 486.4,328.02 487.4,329.44 488.4,331.55 489.4,338.73 490.4,347.04 491.4,357.28 492.4,361.63 493.4,372.61 494.4,380.64 495.4,388.3 496.4,393.49 497.4,402.95 498.4,407.81 499.4,412.01 500.4,413.62 501.4,417.01 502.4,417.59 503.4,419.23 504.4,418.69 505.4,419.79 506.4,419.64 507.4,419.22 508.4,419.95 509.4,419.45 510.4,419.54 511.4,420.22 512.4,420.08 513.4,422.4 514.4,422.17 515.4,421.61 516.4,421.39 517.4,420.02 518.4,421.01 519.4,419.59 520.4,420.3 521.4,420.45 522.4,420.58 523.4,421.64 524.4,420.27 525.4,423 526.4,420.56 527.4,421.74 528.4,419.71 529.4,421.84 530.4,420.06 531.4,421.29 532.4,421.15" fill="none" stroke="#f24f4f" stroke-width="0.65" stroke-linejoin="round" opacity="1.0"/>
<text x="380" y="389.5" font-size="5.2" text-anchor="middle" font-family='"Liberation Serif", serif' fill="#111" stroke="#111" stroke-width="0.1" font-weight="normal">CF<tspan font-size="3.38" dy="1">3</tspan></text>
<text x="415" y="350" font-size="5.2" text-anchor="middle" font-family='"Liberation Serif", serif' fill="#111" stroke="#111" stroke-width="0.1" font-weight="normal">CF<tspan font-size="3.38" dy="1">2</tspan></text>
<text x="429.5" y="390.5" font-size="5.2" text-anchor="middle" font-weight="normal" font-family='"Liberation Serif", serif' fill="#111" stroke="#111" stroke-width="0.12">CF</text>
<text x="445" y="382.5" font-size="5.2" text-anchor="middle" font-weight="normal" font-family='"Liberation Serif", serif' fill="#111" stroke="#111" stroke-width="0.12">C-O-C</text>
<text x="456.25" y="319" font-size="5.2" text-anchor="middle" font-weight="normal" font-family='"Liberation Serif", serif' fill="#111" stroke="#111" stroke-width="0.12">C-C</text>
<text x="456.25" y="325.7" font-size="5.2" text-anchor="middle" font-weight="normal" font-family='"Liberation Serif", serif' fill="#111" stroke="#111" stroke-width="0.12">C-H</text>
<text x="501.25" y="319.3" font-size="5.2" text-anchor="middle" font-weight="normal" font-family='"Liberation Serif", serif' fill="#111" stroke="#111" stroke-width="0.12">carbide</text>
<line x1="387" y1="405" x2="383" y2="392" stroke="#111" stroke-width="0.65"/>
<polygon points="383,392 385.24,394.87 382.76,395.63" fill="#111"/>
<line x1="411.5" y1="360" x2="413.5" y2="351" stroke="#111" stroke-width="0.65"/>
<polygon points="413.5,351 414.03,354.6 411.49,354.04" fill="#111"/>
<line x1="435" y1="407" x2="431" y2="392.5" stroke="#111" stroke-width="0.65"/>
<polygon points="431,392.5 433.16,395.43 430.65,396.12" fill="#111"/>
<line x1="448" y1="399" x2="446" y2="384.5" stroke="#111" stroke-width="0.65"/>
<polygon points="446,384.5 447.75,387.69 445.18,388.05" fill="#111"/>
<line x1="467" y1="333" x2="460" y2="327" stroke="#111" stroke-width="0.65"/>
<polygon points="460,327 463.43,328.23 461.74,330.2" fill="#111"/>
<line x1="486" y1="330" x2="494" y2="320" stroke="#111" stroke-width="0.65"/>
<polygon points="494,320 492.89,323.47 490.86,321.84" fill="#111"/>
<rect x="547.5" y="308.4" width="166.1" height="132.9" fill="none" stroke="#7c7c7c" stroke-width="1"/>
<line x1="564.03" y1="441.3" x2="564.03" y2="443.5" stroke="#7c7c7c" stroke-width="0.6"/>
<text x="0" y="0" transform="translate(564.03,448.2) scale(0.82,1)" font-size="6.4" text-anchor="middle" font-weight="normal" font-family='"Liberation Serif", serif' fill="#222" stroke="#222" stroke-width="0.1">536</text>
<line x1="597.08" y1="441.3" x2="597.08" y2="443.5" stroke="#7c7c7c" stroke-width="0.6"/>
<text x="0" y="0" transform="translate(597.08,448.2) scale(0.82,1)" font-size="6.4" text-anchor="middle" font-weight="normal" font-family='"Liberation Serif", serif' fill="#222" stroke="#222" stroke-width="0.1">534</text>
<line x1="580.55" y1="441.3" x2="580.55" y2="442.7" stroke="#7c7c7c" stroke-width="0.5"/>
<line x1="630.14" y1="441.3" x2="630.14" y2="443.5" stroke="#7c7c7c" stroke-width="0.6"/>
<text x="0" y="0" transform="translate(630.14,448.2) scale(0.82,1)" font-size="6.4" text-anchor="middle" font-weight="normal" font-family='"Liberation Serif", serif' fill="#222" stroke="#222" stroke-width="0.1">532</text>
<line x1="613.61" y1="441.3" x2="613.61" y2="442.7" stroke="#7c7c7c" stroke-width="0.5"/>
<line x1="663.19" y1="441.3" x2="663.19" y2="443.5" stroke="#7c7c7c" stroke-width="0.6"/>
<text x="0" y="0" transform="translate(663.19,448.2) scale(0.82,1)" font-size="6.4" text-anchor="middle" font-weight="normal" font-family='"Liberation Serif", serif' fill="#222" stroke="#222" stroke-width="0.1">530</text>
<line x1="646.66" y1="441.3" x2="646.66" y2="442.7" stroke="#7c7c7c" stroke-width="0.5"/>
<line x1="696.25" y1="441.3" x2="696.25" y2="443.5" stroke="#7c7c7c" stroke-width="0.6"/>
<text x="0" y="0" transform="translate(696.25,448.2) scale(0.82,1)" font-size="6.4" text-anchor="middle" font-weight="normal" font-family='"Liberation Serif", serif' fill="#222" stroke="#222" stroke-width="0.1">528</text>
<line x1="679.72" y1="441.3" x2="679.72" y2="442.7" stroke="#7c7c7c" stroke-width="0.5"/>
<line x1="712.77" y1="441.3" x2="712.77" y2="442.7" stroke="#7c7c7c" stroke-width="0.5"/>
<text x="0" y="0" transform="translate(627.75,453.8) scale(0.89,1)" font-size="7.1" text-anchor="middle" font-weight="normal" font-family='"Liberation Serif", serif' fill="#111" stroke="#111" stroke-width="0.12">Binding Energy (eV)</text>
<text x="0" y="0" font-size="6.5" text-anchor="middle" font-family='"Liberation Serif", serif' fill="#222" stroke="#222" stroke-width="0.12" transform="translate(543.8,372) rotate(-90) scale(1,0.92)">Intensity (a.u.)</text>
<text x="549.1" y="329.8" font-size="16.5" font-weight="bold" font-family='"Liberation Serif", serif' fill="#000">c<tspan font-size="10" dy="2.8">4</tspan></text>
<text x="0" y="0" transform="translate(550,315.5) scale(0.88,1)" font-size="6.3" text-anchor="start" font-weight="normal" font-family='"Liberation Serif", serif' fill="#222" >O 1s</text>
<polyline points="560,424.82 713,425" fill="none" stroke="#9c9ad6" stroke-width="0.6" stroke-linejoin="round" opacity="1.0"/>
<polyline points="548.1,424.27 549.1,424.46 550.1,424.69 551.1,424.31 552.1,424.23 553.1,424.5 554.1,423.76 555.1,424.95 556.1,424.78 557.1,424.71 558.1,424.54 559.1,424.78 560.1,424.76 561.1,424.46 562.1,424.19 563.1,424.23 564.1,424.39 565.1,424.07 566.1,424.58 567.1,424.71 568.1,423.89 569.1,424.69 570.1,424.15 571.1,424.26 572.1,424.19 573.1,424.05 574.1,424.05 575.1,424.24 576.1,423.73 577.1,424.51 578.1,423.6 579.1,424.06 580.1,424.08 581.1,423.54 582.1,423.69 583.1,423.53 584.1,423.23 585.1,423.11 586.1,424.02 587.1,423.61 588.1,422.71 589.1,422.67 590.1,422.35 591.1,422 592.1,421.56 593.1,420.8 594.1,419.48 595.1,419.55 596.1,417.48 597.1,417.72 598.1,416.29 599.1,415.05 600.1,414.61 601.1,412.24 602.1,411.95 603.1,409.34 604.1,407.91 605.1,405.4 606.1,402.87 607.1,401.86 608.1,398.77 609.1,394.53 610.1,391.08 611.1,386.82 612.1,383.61 613.1,379.51 614.1,374.96 615.1,368.55 616.1,363.69 617.1,357.69 618.1,353.73 619.1,348.92 620.1,343.14 621.1,338.74 622.1,336.74 623.1,332.29 624.1,330.34 625.1,327.96 626.1,326.28 627.1,326.67 628.1,327.54 629.1,328.55 630.1,330.29 631.1,333.63 632.1,337.56 633.1,341.67 634.1,347.2 635.1,351.2 636.1,356.43 637.1,361.11 638.1,365.9 639.1,371.09 640.1,377.19 641.1,382.61 642.1,387.42 643.1,390.35 644.1,394.25 645.1,397.88 646.1,401.32 647.1,404.35 648.1,406.66 649.1,408.34 650.1,411.29 651.1,412.55 652.1,413.41 653.1,415.6 654.1,415.42 655.1,416.92 656.1,416.51 657.1,417.59 658.1,417 659.1,418.32 660.1,418.51 661.1,418.79 662.1,419.75 663.1,420.23 664.1,419.76 665.1,420.83 666.1,421.46 667.1,421.49 668.1,422.63 669.1,421.9 670.1,422.28 671.1,422.91 672.1,423.17 673.1,424.12 674.1,423.77 675.1,424.16 676.1,423.74 677.1,423.82 678.1,424.58 679.1,424.29 680.1,424.67 681.1,424.47 682.1,424.75 683.1,424.36 684.1,424.4 685.1,424.63 686.1,424.42 687.1,424.81 688.1,424.93 689.1,424.91 690.1,424.16 691.1,424.28 692.1,424.8 693.1,424.78 694.1,424.67 695.1,424.62 696.1,424.24 697.1,425.1 698.1,424.71 699.1,424.91 700.1,424.53 701.1,424.51 702.1,424.54 703.1,425 704.1,424.58 705.1,425.19 706.1,424.69 707.1,424.21 708.1,424.88 709.1,424.75 710.1,424.73 711.1,425.72 712.1,424.94" fill="none" stroke="#f24f4f" stroke-width="0.65" stroke-linejoin="round" opacity="1.0"/>
<polyline points="590.5,424.59 591,424.54 591.5,424.49 592,424.42 592.5,424.35 593,424.27 593.5,424.18 594,424.07 594.5,423.95 595,423.81 595.5,423.65 596,423.48 596.5,423.27 597,423.05 597.5,422.79 598,422.51 598.5,422.19 599,421.83 599.5,421.43 600,420.99 600.5,420.5 601,419.97 601.5,419.37 602,418.72 602.5,418.01 603,417.23 603.5,416.39 604,415.47 604.5,414.47 605,413.39 605.5,412.23 606,410.98 606.5,409.64 607,408.21 607.5,406.69 608,405.06 608.5,403.35 609,401.53 609.5,399.62 610,397.61 610.5,395.51 611,393.32 611.5,391.03 612,388.67 612.5,386.22 613,383.7 613.5,381.11 614,378.46 614.5,375.76 615,373.01 615.5,370.24 616,367.44 616.5,364.64 617,361.83 617.5,359.05 618,356.29 618.5,353.58 619,350.92 619.5,348.33 620,345.83 620.5,343.43 621,341.14 621.5,338.98 622,336.95 622.5,335.08 623,333.37 623.5,331.84 624,330.49 624.5,329.33 625,328.37 625.5,327.62 626,327.08 626.5,326.75 627,326.65 627.5,326.76 628,327.08 628.5,327.62 629,328.38 629.5,329.34 630,330.49 630.5,331.85 631,333.38 631.5,335.09 632,336.97 632.5,338.99 633,341.15 633.5,343.45 634,345.85 634.5,348.35 635,350.94 635.5,353.6 636,356.31 636.5,359.07 637,361.86 637.5,364.66 638,367.47 638.5,370.27 639,373.04 639.5,375.79 640,378.49 640.5,381.14 641,383.73 641.5,386.25 642,388.7 642.5,391.07 643,393.36 643.5,395.55 644,397.65 644.5,399.66 645,401.58 645.5,403.39 646,405.11 646.5,406.73 647,408.26 647.5,409.69 648,411.03 648.5,412.28 649,413.44 649.5,414.52 650,415.52 650.5,416.44 651,417.29 651.5,418.07 652,418.78 652.5,419.44 653,420.03 653.5,420.57 654,421.06 654.5,421.5 655,421.9 655.5,422.25 656,422.58 656.5,422.86 657,423.12 657.5,423.35 658,423.55 658.5,423.73 659,423.89 659.5,424.03 660,424.15 660.5,424.26 661,424.35 661.5,424.44 662,424.51 662.5,424.57 663,424.63 663.5,424.67" fill="none" stroke="#5a8fd0" stroke-width="0.5" stroke-linejoin="round" opacity="1.0"/>
<polyline points="583.5,424.56 584,424.52 584.5,424.47 585,424.42 585.5,424.36 586,424.29 586.5,424.22 587,424.14 587.5,424.05 588,423.96 588.5,423.85 589,423.74 589.5,423.62 590,423.49 590.5,423.35 591,423.21 591.5,423.05 592,422.89 592.5,422.72 593,422.55 593.5,422.37 594,422.18 594.5,421.99 595,421.8 595.5,421.6 596,421.41 596.5,421.21 597,421.02 597.5,420.83 598,420.65 598.5,420.47 599,420.3 599.5,420.14 600,420 600.5,419.86 601,419.74 601.5,419.64 602,419.55 602.5,419.48 603,419.42 603.5,419.39 604,419.37 604.5,419.37 605,419.39 605.5,419.43 606,419.49 606.5,419.57 607,419.66 607.5,419.77 608,419.9 608.5,420.04 609,420.19 609.5,420.35 610,420.52 610.5,420.7 611,420.88 611.5,421.08 612,421.27 612.5,421.47 613,421.66 613.5,421.86 614,422.05 614.5,422.24 615,422.43 615.5,422.61 616,422.79 616.5,422.96 617,423.12 617.5,423.27 618,423.42 618.5,423.55 619,423.68 619.5,423.8 620,423.91 620.5,424.02 621,424.11 621.5,424.2 622,424.28 622.5,424.35 623,424.42 623.5,424.48 624,424.53 624.5,424.58 625,424.62" fill="none" stroke="#f2c744" stroke-width="0.5" stroke-linejoin="round" opacity="1.0"/>
<polyline points="638.5,424.63 639,424.59 639.5,424.55 640,424.5 640.5,424.44 641,424.38 641.5,424.32 642,424.25 642.5,424.17 643,424.09 643.5,424 644,423.9 644.5,423.79 645,423.68 645.5,423.57 646,423.45 646.5,423.32 647,423.19 647.5,423.05 648,422.91 648.5,422.76 649,422.62 649.5,422.47 650,422.32 650.5,422.17 651,422.02 651.5,421.88 652,421.74 652.5,421.6 653,421.47 653.5,421.35 654,421.23 654.5,421.13 655,421.03 655.5,420.95 656,420.88 656.5,420.82 657,420.78 657.5,420.75 658,420.74 658.5,420.73 659,420.75 659.5,420.78 660,420.82 660.5,420.87 661,420.94 661.5,421.03 662,421.12 662.5,421.22 663,421.34 663.5,421.46 664,421.59 664.5,421.72 665,421.86 665.5,422.01 666,422.16 666.5,422.31 667,422.46 667.5,422.61 668,422.76 668.5,422.9 669,423.05 669.5,423.19 670,423.32 670.5,423.45 671,423.58 671.5,423.69 672,423.81 672.5,423.91 673,424.01 673.5,424.1 674,424.19 674.5,424.27 675,424.35 675.5,424.41 676,424.48 676.5,424.53 677,424.58 677.5,424.63 678,424.67" fill="none" stroke="#52c46c" stroke-width="0.5" stroke-linejoin="round" opacity="1.0"/>
<text x="640.25" y="319" font-size="5.2" text-anchor="middle" font-family='"Liberation Serif", serif' fill="#111" stroke="#111" stroke-width="0.1" font-weight="normal">SiO<tspan font-size="3.38" dy="1">2</tspan></text>
<line x1="628" y1="327" x2="634" y2="320" stroke="#111" stroke-width="0.65"/>
<polygon points="634,320 632.77,323.43 630.8,321.74" fill="#111"/>
<line x1="603" y1="419" x2="596" y2="404" stroke="#111" stroke-width="0.65"/>
<polygon points="596,404 598.62,406.53 596.26,407.63" fill="#111"/>
<line x1="657" y1="420" x2="666" y2="404" stroke="#111" stroke-width="0.65"/>
<polygon points="666,404 665.47,407.6 663.2,406.33" fill="#111"/>
<text x="590.8" y="403.2" font-size="5.2" text-anchor="middle" font-weight="normal" font-family='"Liberation Sans", sans-serif' fill="#111" >C-O-C</text>
<text x="671.2" y="402.7" font-size="5.2" text-anchor="middle" font-weight="normal" font-family='"Liberation Sans", sans-serif' fill="#111" >O-C=O</text>
<rect x="189.3" y="460.75" width="165.1" height="132.75" fill="none" stroke="#7c7c7c" stroke-width="1"/>
<line x1="204.31" y1="593.5" x2="204.31" y2="595.7" stroke="#7c7c7c" stroke-width="0.6"/>
<text x="0" y="0" transform="translate(204.31,600.7) scale(0.82,1)" font-size="6.4" text-anchor="middle" font-weight="normal" font-family='"Liberation Serif", serif' fill="#222" stroke="#222" stroke-width="0.1">108</text>
<line x1="234.33" y1="593.5" x2="234.33" y2="595.7" stroke="#7c7c7c" stroke-width="0.6"/>
<text x="0" y="0" transform="translate(234.33,600.7) scale(0.82,1)" font-size="6.4" text-anchor="middle" font-weight="normal" font-family='"Liberation Serif", serif' fill="#222" stroke="#222" stroke-width="0.1">106</text>
<line x1="219.32" y1="593.5" x2="219.32" y2="594.9" stroke="#7c7c7c" stroke-width="0.5"/>
<line x1="264.35" y1="593.5" x2="264.35" y2="595.7" stroke="#7c7c7c" stroke-width="0.6"/>
<text x="0" y="0" transform="translate(264.35,600.7) scale(0.82,1)" font-size="6.4" text-anchor="middle" font-weight="normal" font-family='"Liberation Serif", serif' fill="#222" stroke="#222" stroke-width="0.1">104</text>
<line x1="249.34" y1="593.5" x2="249.34" y2="594.9" stroke="#7c7c7c" stroke-width="0.5"/>
<line x1="294.36" y1="593.5" x2="294.36" y2="595.7" stroke="#7c7c7c" stroke-width="0.6"/>
<text x="0" y="0" transform="translate(294.36,600.7) scale(0.82,1)" font-size="6.4" text-anchor="middle" font-weight="normal" font-family='"Liberation Serif", serif' fill="#222" stroke="#222" stroke-width="0.1">102</text>
<line x1="279.35" y1="593.5" x2="279.35" y2="594.9" stroke="#7c7c7c" stroke-width="0.5"/>
<line x1="324.38" y1="593.5" x2="324.38" y2="595.7" stroke="#7c7c7c" stroke-width="0.6"/>
<text x="0" y="0" transform="translate(324.38,600.7) scale(0.82,1)" font-size="6.4" text-anchor="middle" font-weight="normal" font-family='"Liberation Serif", serif' fill="#222" stroke="#222" stroke-width="0.1">100</text>
<line x1="309.37" y1="593.5" x2="309.37" y2="594.9" stroke="#7c7c7c" stroke-width="0.5"/>
<line x1="354.4" y1="593.5" x2="354.4" y2="595.7" stroke="#7c7c7c" stroke-width="0.6"/>
<text x="0" y="0" transform="translate(354.4,600.7) scale(0.82,1)" font-size="6.4" text-anchor="middle" font-weight="normal" font-family='"Liberation Serif", serif' fill="#222" stroke="#222" stroke-width="0.1">98</text>
<line x1="339.39" y1="593.5" x2="339.39" y2="594.9" stroke="#7c7c7c" stroke-width="0.5"/>
<text x="0" y="0" transform="translate(274.5,606) scale(0.89,1)" font-size="7.1" text-anchor="middle" font-weight="normal" font-family='"Liberation Serif", serif' fill="#111" stroke="#111" stroke-width="0.12">Binding Energy (eV)</text>
<text x="0" y="0" font-size="6.5" text-anchor="middle" font-family='"Liberation Serif", serif' fill="#222" stroke="#222" stroke-width="0.12" transform="translate(184.8,524) rotate(-90) scale(1,0.92)">Intensity (a.u.)</text>
<text x="192.4" y="483.9" font-size="16.5" font-weight="bold" font-family='"Liberation Serif", serif' fill="#000">d<tspan font-size="10" dy="2.8">2</tspan></text>
<text x="0" y="0" transform="translate(190.8,469.3) scale(0.88,1)" font-size="7.6" text-anchor="start" font-weight="normal" font-family='"Liberation Serif", serif' fill="#222" >Si 2p</text>
<polyline points="192,575 352,575" fill="none" stroke="#f2c744" stroke-width="0.6" stroke-linejoin="round" opacity="1.0"/>
<polyline points="189.9,575 190.9,574.79 191.9,574.23 192.9,575.19 193.9,574.9 194.9,574.92 195.9,574.83 196.9,575.49 197.9,575.18 198.9,575.32 199.9,574.59 200.9,574.5 201.9,574.22 202.9,574.58 203.9,573.38 204.9,575.47 205.9,574.75 206.9,574.71 207.9,575.08 208.9,574.47 209.9,574.76 210.9,575.01 211.9,573.85 212.9,575.45 213.9,574.66 214.9,574.88 215.9,574.05 216.9,574.24 217.9,575.37 218.9,574.26 219.9,574.3 220.9,574.72 221.9,575.18 222.9,573.24 223.9,575.16 224.9,574.54 225.9,574.82 226.9,573.82 227.9,574.44 228.9,575.04 229.9,574.07 230.9,573.66 231.9,573.56 232.9,573.26 233.9,573.65 234.9,572.94 235.9,572.14 236.9,572.44 237.9,570.97 238.9,570.45 239.9,572.5 240.9,570.58 241.9,571.88 242.9,570.89 243.9,570.83 244.9,571.23 245.9,570.26 246.9,569.95 247.9,569.83 248.9,569 249.9,568.74 250.9,568.34 251.9,564.86 252.9,563.3 253.9,562.38 254.9,559.85 255.9,557.6 256.9,553.14 257.9,550.73 258.9,546.4 259.9,540.88 260.9,538.08 261.9,531.42 262.9,528.13 263.9,521.79 264.9,516.43 265.9,513.05 266.9,506.77 267.9,500.04 268.9,494.58 269.9,488.2 270.9,485.69 271.9,480.85 272.9,475.66 273.9,471.94 274.9,471.85 275.9,470.55 276.9,471.55 277.9,470.13 278.9,471.93 279.9,475.88 280.9,478.76 281.9,483.63 282.9,488.31 283.9,491.11 284.9,494.91 285.9,503.01 286.9,507.91 287.9,514.59 288.9,517.42 289.9,525.4 290.9,530.86 291.9,535.29 292.9,540.91 293.9,544.89 294.9,548.96 295.9,553.37 296.9,556.56 297.9,559.32 298.9,561.22 299.9,563.23 300.9,565.39 301.9,566.82 302.9,567.51 303.9,569.35 304.9,570.61 305.9,570.61 306.9,570.87 307.9,572.35 308.9,572.04 309.9,571.98 310.9,572.95 311.9,572.53 312.9,573.68 313.9,573.38 314.9,573.81 315.9,574.47 316.9,574.54 317.9,573.98 318.9,572.93 319.9,573.89 320.9,573.59 321.9,574.68 322.9,575.05 323.9,574.65 324.9,574.65 325.9,574.63 326.9,574.72 327.9,574.21 328.9,574.87 329.9,574.29 330.9,573.88 331.9,574.51 332.9,575.29 333.9,574.42 334.9,573.65 335.9,575.16 336.9,574.68 337.9,574.85 338.9,574.36 339.9,574.84 340.9,575.41 341.9,574.31 342.9,574.98 343.9,574.82 344.9,574.24 345.9,574.76 346.9,574.97 347.9,574.27 348.9,575.26 349.9,574.16 350.9,575.27 351.9,575.02 352.9,574.85" fill="none" stroke="#f24f4f" stroke-width="0.65" stroke-linejoin="round" opacity="1.0"/>
<polyline points="240.8,574.75 241.3,574.7 241.8,574.65 242.3,574.58 242.8,574.51 243.3,574.43 243.8,574.33 244.3,574.22 244.8,574.09 245.3,573.95 245.8,573.78 246.3,573.6 246.8,573.38 247.3,573.14 247.8,572.87 248.3,572.57 248.8,572.23 249.3,571.84 249.8,571.41 250.3,570.94 250.8,570.41 251.3,569.83 251.8,569.18 252.3,568.47 252.8,567.69 253.3,566.83 253.8,565.9 254.3,564.88 254.8,563.78 255.3,562.58 255.8,561.29 256.3,559.91 256.8,558.42 257.3,556.82 257.8,555.12 258.3,553.31 258.8,551.39 259.3,549.37 259.8,547.23 260.3,544.99 260.8,542.64 261.3,540.18 261.8,537.64 262.3,534.99 262.8,532.27 263.3,529.46 263.8,526.58 264.3,523.64 264.8,520.65 265.3,517.62 265.8,514.57 266.3,511.5 266.8,508.43 267.3,505.38 267.8,502.36 268.3,499.38 268.8,496.47 269.3,493.63 269.8,490.89 270.3,488.27 270.8,485.77 271.3,483.41 271.8,481.21 272.3,479.19 272.8,477.35 273.3,475.71 273.8,474.28 274.3,473.06 274.8,472.08 275.3,471.33 275.8,470.81 276.3,470.54 276.8,470.52 277.3,470.74 277.8,471.2 278.3,471.91 278.8,472.85 279.3,474.02 279.8,475.41 280.3,477.01 280.8,478.81 281.3,480.8 281.8,482.96 282.3,485.29 282.8,487.76 283.3,490.36 283.8,493.08 284.3,495.89 284.8,498.79 285.3,501.76 285.8,504.77 286.3,507.82 286.8,510.88 287.3,513.95 287.8,517.01 288.3,520.05 288.8,523.05 289.3,526 289.8,528.89 290.3,531.71 290.8,534.45 291.3,537.11 291.8,539.68 292.3,542.15 292.8,544.52 293.3,546.79 293.8,548.95 294.3,551 294.8,552.94 295.3,554.77 295.8,556.49 296.3,558.11 296.8,559.62 297.3,561.02 297.8,562.33 298.3,563.55 298.8,564.67 299.3,565.7 299.8,566.65 300.3,567.52 300.8,568.32 301.3,569.04 301.8,569.7 302.3,570.3 302.8,570.84 303.3,571.32 303.8,571.76 304.3,572.15 304.8,572.5 305.3,572.81 305.8,573.09 306.3,573.34 306.8,573.56 307.3,573.75 307.8,573.92 308.3,574.07 308.8,574.2 309.3,574.31 309.8,574.41 310.3,574.5 310.8,574.57 311.3,574.63 311.8,574.69 312.3,574.74" fill="none" stroke="#62d88a" stroke-width="0.5" stroke-linejoin="round" opacity="1.0"/>
<polyline points="231.3,574.69 231.8,574.61 232.3,574.52 232.8,574.41 233.3,574.28 233.8,574.14 234.3,573.98 234.8,573.82 235.3,573.64 235.8,573.47 236.3,573.29 236.8,573.12 237.3,572.96 237.8,572.81 238.3,572.69 238.8,572.6 239.3,572.53 239.8,572.5 240.3,572.51 240.8,572.54 241.3,572.61 241.8,572.71 242.3,572.84 242.8,572.99 243.3,573.15 243.8,573.32 244.3,573.5 244.8,573.68 245.3,573.85 245.8,574.02 246.3,574.17 246.8,574.31 247.3,574.43 247.8,574.54 248.3,574.63 248.8,574.71" fill="none" stroke="#f24f4f" stroke-width="0.5" stroke-linejoin="round" opacity="1.0"/>
<text x="293" y="472.8" font-size="5.2" text-anchor="middle" font-family='"Liberation Serif", serif' fill="#111" stroke="#111" stroke-width="0.1" font-weight="normal">SiO<tspan font-size="3.38" dy="1">2</tspan></text>
<line x1="280" y1="472" x2="287" y2="470" stroke="#111" stroke-width="0.65"/>
<polygon points="287,470 284.09,472.18 283.37,469.68" fill="#111"/>
<rect x="368.65" y="460.75" width="164.85" height="132.25" fill="none" stroke="#7c7c7c" stroke-width="1"/>
<line x1="384.6" y1="593" x2="384.6" y2="595.2" stroke="#7c7c7c" stroke-width="0.6"/>
<text x="0" y="0" transform="translate(384.6,600.4) scale(0.82,1)" font-size="6.4" text-anchor="middle" font-weight="normal" font-family='"Liberation Serif", serif' fill="#222" stroke="#222" stroke-width="0.1">294</text>
<line x1="373.97" y1="593" x2="373.97" y2="594.4" stroke="#7c7c7c" stroke-width="0.5"/>
<line x1="405.87" y1="593" x2="405.87" y2="595.2" stroke="#7c7c7c" stroke-width="0.6"/>
<text x="0" y="0" transform="translate(405.87,600.4) scale(0.82,1)" font-size="6.4" text-anchor="middle" font-weight="normal" font-family='"Liberation Serif", serif' fill="#222" stroke="#222" stroke-width="0.1">292</text>
<line x1="395.24" y1="593" x2="395.24" y2="594.4" stroke="#7c7c7c" stroke-width="0.5"/>
<line x1="427.15" y1="593" x2="427.15" y2="595.2" stroke="#7c7c7c" stroke-width="0.6"/>
<text x="0" y="0" transform="translate(427.15,600.4) scale(0.82,1)" font-size="6.4" text-anchor="middle" font-weight="normal" font-family='"Liberation Serif", serif' fill="#222" stroke="#222" stroke-width="0.1">290</text>
<line x1="416.51" y1="593" x2="416.51" y2="594.4" stroke="#7c7c7c" stroke-width="0.5"/>
<line x1="448.42" y1="593" x2="448.42" y2="595.2" stroke="#7c7c7c" stroke-width="0.6"/>
<text x="0" y="0" transform="translate(448.42,600.4) scale(0.82,1)" font-size="6.4" text-anchor="middle" font-weight="normal" font-family='"Liberation Serif", serif' fill="#222" stroke="#222" stroke-width="0.1">288</text>
<line x1="437.78" y1="593" x2="437.78" y2="594.4" stroke="#7c7c7c" stroke-width="0.5"/>
<line x1="469.69" y1="593" x2="469.69" y2="595.2" stroke="#7c7c7c" stroke-width="0.6"/>
<text x="0" y="0" transform="translate(469.69,600.4) scale(0.82,1)" font-size="6.4" text-anchor="middle" font-weight="normal" font-family='"Liberation Serif", serif' fill="#222" stroke="#222" stroke-width="0.1">286</text>
<line x1="459.05" y1="593" x2="459.05" y2="594.4" stroke="#7c7c7c" stroke-width="0.5"/>
<line x1="490.96" y1="593" x2="490.96" y2="595.2" stroke="#7c7c7c" stroke-width="0.6"/>
<text x="0" y="0" transform="translate(490.96,600.4) scale(0.82,1)" font-size="6.4" text-anchor="middle" font-weight="normal" font-family='"Liberation Serif", serif' fill="#222" stroke="#222" stroke-width="0.1">284</text>
<line x1="480.32" y1="593" x2="480.32" y2="594.4" stroke="#7c7c7c" stroke-width="0.5"/>
<line x1="512.23" y1="593" x2="512.23" y2="595.2" stroke="#7c7c7c" stroke-width="0.6"/>
<text x="0" y="0" transform="translate(512.23,600.4) scale(0.82,1)" font-size="6.4" text-anchor="middle" font-weight="normal" font-family='"Liberation Serif", serif' fill="#222" stroke="#222" stroke-width="0.1">282</text>
<line x1="501.59" y1="593" x2="501.59" y2="594.4" stroke="#7c7c7c" stroke-width="0.5"/>
<line x1="533.5" y1="593" x2="533.5" y2="595.2" stroke="#7c7c7c" stroke-width="0.6"/>
<text x="0" y="0" transform="translate(533.5,600.4) scale(0.82,1)" font-size="6.4" text-anchor="middle" font-weight="normal" font-family='"Liberation Serif", serif' fill="#222" stroke="#222" stroke-width="0.1">280</text>
<line x1="522.86" y1="593" x2="522.86" y2="594.4" stroke="#7c7c7c" stroke-width="0.5"/>
<text x="0" y="0" transform="translate(460,606.5) scale(0.89,1)" font-size="7.1" text-anchor="middle" font-weight="normal" font-family='"Liberation Serif", serif' fill="#111" stroke="#111" stroke-width="0.12">Binding Energy (eV)</text>
<text x="0" y="0" font-size="6.5" text-anchor="middle" font-family='"Liberation Serif", serif' fill="#222" stroke="#222" stroke-width="0.12" transform="translate(364.8,524) rotate(-90) scale(1,0.92)">Intensity (a.u.)</text>
<text x="371.3" y="484" font-size="16.5" font-weight="bold" font-family='"Liberation Serif", serif' fill="#000">d<tspan font-size="10" dy="2.8">3</tspan></text>
<text x="0" y="0" transform="translate(370,466.9) scale(0.88,1)" font-size="6.6" text-anchor="start" font-weight="normal" font-family='"Liberation Serif", serif' fill="#222" >C 1s</text>
<polyline points="371.15,574.06 371.65,574.01 372.15,573.95 372.65,573.88 373.15,573.8 373.65,573.71 374.15,573.61 374.65,573.49 375.15,573.36 375.65,573.21 376.15,573.05 376.65,572.87 377.15,572.67 377.65,572.46 378.15,572.24 378.65,572 379.15,571.75 379.65,571.49 380.15,571.22 380.65,570.95 381.15,570.67 381.65,570.39 382.15,570.12 382.65,569.85 383.15,569.59 383.65,569.34 384.15,569.11 384.65,568.9 385.15,568.72 385.65,568.56 386.15,568.43 386.65,568.33 387.15,568.27 387.65,568.24 388.15,568.24 388.65,568.28 389.15,568.35 389.65,568.46 390.15,568.6 390.65,568.77 391.15,568.97 391.65,569.19 392.15,569.43 392.65,569.7 393.15,569.97 393.65,570.26 394.15,570.56 394.65,570.86 395.15,571.16 395.65,571.46 396.15,571.75 396.65,572.04 397.15,572.31 397.65,572.58 398.15,572.83 398.65,573.07 399.15,573.29 399.65,573.5 400.15,573.69 400.65,573.87 401.15,574.03 401.65,574.18 402.15,574.31 402.65,574.43 403.15,574.53 403.65,574.63 404.15,574.71 404.65,574.79 405.15,574.85" fill="none" stroke="#52c46c" stroke-width="0.5" stroke-linejoin="round" opacity="1.0"/>
<polyline points="386.65,574.45 387.15,574.41 387.65,574.36 388.15,574.29 388.65,574.22 389.15,574.13 389.65,574.03 390.15,573.91 390.65,573.77 391.15,573.6 391.65,573.42 392.15,573.2 392.65,572.95 393.15,572.67 393.65,572.36 394.15,572 394.65,571.61 395.15,571.16 395.65,570.67 396.15,570.13 396.65,569.54 397.15,568.89 397.65,568.18 398.15,567.41 398.65,566.58 399.15,565.69 399.65,564.74 400.15,563.73 400.65,562.67 401.15,561.54 401.65,560.36 402.15,559.13 402.65,557.86 403.15,556.54 403.65,555.2 404.15,553.83 404.65,552.44 405.15,551.04 405.65,549.64 406.15,548.26 406.65,546.89 407.15,545.56 407.65,544.27 408.15,543.04 408.65,541.87 409.15,540.78 409.65,539.77 410.15,538.86 410.65,538.05 411.15,537.36 411.65,536.79 412.15,536.35 412.65,536.03 413.15,535.85 413.65,535.81 414.15,535.9 414.65,536.13 415.15,536.5 415.65,536.99 416.15,537.61 416.65,538.34 417.15,539.19 417.65,540.14 418.15,541.19 418.65,542.32 419.15,543.53 419.65,544.8 420.15,546.12 420.65,547.48 421.15,548.87 421.65,550.28 422.15,551.7 422.65,553.12 423.15,554.53 423.65,555.92 424.15,557.28 424.65,558.61 425.15,559.9 425.65,561.14 426.15,562.33 426.65,563.47 427.15,564.55 427.65,565.57 428.15,566.53 428.65,567.43 429.15,568.27 429.65,569.04 430.15,569.76 430.65,570.43 431.15,571.03 431.65,571.58 432.15,572.09 432.65,572.54 433.15,572.95 433.65,573.32 434.15,573.65 434.65,573.95 435.15,574.21 435.65,574.45 436.15,574.65 436.65,574.83 437.15,574.99 437.65,575.13 438.15,575.25 438.65,575.36 439.15,575.45 439.65,575.54 440.15,575.61" fill="none" stroke="#f2c744" stroke-width="0.5" stroke-linejoin="round" opacity="1.0"/>
<polyline points="433.15,575.47 433.65,575.34 434.15,575.16 434.65,574.92 435.15,574.6 435.65,574.22 436.15,573.76 436.65,573.23 437.15,572.66 437.65,572.06 438.15,571.47 438.65,570.93 439.15,570.47 439.65,570.13 440.15,569.95 440.65,569.92 441.15,570.07 441.65,570.37 442.15,570.81 442.65,571.34 443.15,571.94 443.65,572.56 444.15,573.17 444.65,573.74 445.15,574.25 445.65,574.69 446.15,575.05 446.65,575.34 447.15,575.57 447.65,575.74" fill="none" stroke="#a0a0a0" stroke-width="0.5" stroke-linejoin="round" opacity="1.0"/>
<polyline points="439.15,575.63 439.65,575.53 440.15,575.4 440.65,575.23 441.15,575.01 441.65,574.73 442.15,574.38 442.65,573.95 443.15,573.46 443.65,572.88 444.15,572.24 444.65,571.54 445.15,570.78 445.65,570.01 446.15,569.23 446.65,568.48 447.15,567.78 447.65,567.18 448.15,566.69 448.65,566.34 449.15,566.15 449.65,566.13 450.15,566.27 450.65,566.58 451.15,567.04 451.65,567.63 452.15,568.31 452.65,569.07 453.15,569.86 453.65,570.66 454.15,571.45 454.65,572.2 455.15,572.89 455.65,573.51 456.15,574.06 456.65,574.54 457.15,574.94 457.65,575.27 458.15,575.54 458.65,575.75 459.15,575.92 459.65,576.05" fill="none" stroke="#5a8fd0" stroke-width="0.5" stroke-linejoin="round" opacity="1.0"/>
<polyline points="444.65,575.73 445.15,575.67 445.65,575.6 446.15,575.5 446.65,575.38 447.15,575.23 447.65,575.04 448.15,574.82 448.65,574.55 449.15,574.24 449.65,573.86 450.15,573.43 450.65,572.92 451.15,572.32 451.65,571.65 452.15,570.87 452.65,570 453.15,569.01 453.65,567.91 454.15,566.68 454.65,565.34 455.15,563.86 455.65,562.26 456.15,560.54 456.65,558.69 457.15,556.73 457.65,554.67 458.15,552.52 458.65,550.3 459.15,548.01 459.65,545.7 460.15,543.36 460.65,541.05 461.15,538.77 461.65,536.56 462.15,534.44 462.65,532.45 463.15,530.62 463.65,528.96 464.15,527.51 464.65,526.29 465.15,525.31 465.65,524.6 466.15,524.16 466.65,524 467.15,524.13 467.65,524.53 468.15,525.22 468.65,526.16 469.15,527.36 469.65,528.79 470.15,530.43 470.65,532.25 471.15,534.23 471.65,536.35 472.15,538.56 472.65,540.85 473.15,543.19 473.65,545.54 474.15,547.89 474.65,550.2 475.15,552.46 475.65,554.65 476.15,556.75 476.65,558.76 477.15,560.65 477.65,562.42 478.15,564.07 478.65,565.59 479.15,566.98 479.65,568.25 480.15,569.4 480.65,570.43 481.15,571.35 481.65,572.17 482.15,572.89 482.65,573.52 483.15,574.07 483.65,574.54 484.15,574.95 484.65,575.3 485.15,575.6 485.65,575.85 486.15,576.06 486.65,576.24 487.15,576.39 487.65,576.52 488.15,576.62 488.65,576.71" fill="none" stroke="#f2c744" stroke-width="0.5" stroke-linejoin="round" opacity="1.0"/>
<polyline points="459.65,576.08 460.15,576.03 460.65,575.95 461.15,575.86 461.65,575.74 462.15,575.59 462.65,575.42 463.15,575.2 463.65,574.94 464.15,574.62 464.65,574.24 465.15,573.8 465.65,573.27 466.15,572.66 466.65,571.94 467.15,571.11 467.65,570.16 468.15,569.08 468.65,567.84 469.15,566.45 469.65,564.88 470.15,563.14 470.65,561.2 471.15,559.07 471.65,556.73 472.15,554.19 472.65,551.44 473.15,548.49 473.65,545.34 474.15,541.99 474.65,538.48 475.15,534.8 475.65,530.99 476.15,527.07 476.65,523.07 477.15,519.03 477.65,514.97 478.15,510.94 478.65,506.99 479.15,503.15 479.65,499.47 480.15,495.99 480.65,492.76 481.15,489.82 481.65,487.2 482.15,484.95 482.65,483.09 483.15,481.65 483.65,480.65 484.15,480.11 484.65,480.02 485.15,480.41 485.65,481.25 486.15,482.54 486.65,484.25 487.15,486.37 487.65,488.87 488.15,491.71 488.65,494.85 489.15,498.26 489.65,501.88 490.15,505.69 490.65,509.63 491.15,513.65 491.65,517.72 492.15,521.8 492.65,525.85 493.15,529.82 493.65,533.7 494.15,537.46 494.65,541.06 495.15,544.5 495.65,547.75 496.15,550.81 496.65,553.66 497.15,556.31 497.65,558.75 498.15,560.99 498.65,563.02 499.15,564.87 499.65,566.52 500.15,568.01 500.65,569.33 501.15,570.49 501.65,571.52 502.15,572.42 502.65,573.2 503.15,573.87 503.65,574.46 504.15,574.96 504.65,575.38 505.15,575.74 505.65,576.05 506.15,576.31 506.65,576.52 507.15,576.7 507.65,576.85 508.15,576.98 508.65,577.08 509.15,577.17" fill="none" stroke="#5a8fd0" stroke-width="0.5" stroke-linejoin="round" opacity="1.0"/>
<polyline points="369,574.31 533,577.99" fill="none" stroke="#f08080" stroke-width="0.6" stroke-linejoin="round" opacity="1.0"/>
<polyline points="369.25,574.02 370.25,573.79 371.25,572.85 372.25,572.83 373.25,574.32 374.25,572.67 375.25,572.74 376.25,572.36 377.25,572.19 378.25,572.11 379.25,571.15 380.25,569.92 381.25,570.39 382.25,571 383.25,569.37 384.25,567.82 385.25,571.29 386.25,567.46 387.25,568.19 388.25,567.38 389.25,568.52 390.25,568.14 391.25,566.68 392.25,569.11 393.25,568.44 394.25,566.42 395.25,566.47 396.25,565.79 397.25,567.52 398.25,565.46 399.25,564.14 400.25,563.46 401.25,562.13 402.25,558.26 403.25,556.17 404.25,552.91 405.25,550.24 406.25,547.66 407.25,544.68 408.25,543.4 409.25,542.04 410.25,536.81 411.25,538.06 412.25,535.62 413.25,535.36 414.25,533.61 415.25,533.19 416.25,537.43 417.25,538.36 418.25,540.28 419.25,542.96 420.25,544.04 421.25,548.47 422.25,552.23 423.25,554.07 424.25,555.27 425.25,556.82 426.25,558.86 427.25,560.51 428.25,562.31 429.25,563.96 430.25,565.57 431.25,572.26 432.25,570.38 433.25,571.42 434.25,571.93 435.25,571.3 436.25,571.87 437.25,570.14 438.25,570.19 439.25,568.38 440.25,568.39 441.25,568.66 442.25,569.74 443.25,568.81 444.25,568.03 445.25,566.13 446.25,567.24 447.25,567.23 448.25,565.13 449.25,563.74 450.25,563.33 451.25,563.21 452.25,561.76 453.25,562.29 454.25,562.53 455.25,560.68 456.25,557.95 457.25,555.87 458.25,549.3 459.25,548.71 460.25,541 461.25,536.6 462.25,534.76 463.25,529.39 464.25,525.13 465.25,523.82 466.25,518.13 467.25,520.03 468.25,521.83 469.25,517.17 470.25,517.12 471.25,516.44 472.25,518.07 473.25,517.12 474.25,513.38 475.25,508.8 476.25,507.26 477.25,502.56 478.25,495.21 479.25,496.46 480.25,487.21 481.25,486.61 482.25,476.95 483.25,479.5 484.25,475.52 485.25,479.9 486.25,480.96 487.25,479.87 488.25,484.8 489.25,492.39 490.25,498.04 491.25,508.8 492.25,514.7 493.25,521.11 494.25,527.07 495.25,535.72 496.25,540.06 497.25,546.98 498.25,549.85 499.25,557.27 500.25,560.89 501.25,564.52 502.25,568.54 503.25,568.45 504.25,569.54 505.25,573.87 506.25,575.37 507.25,575.53 508.25,576.66 509.25,577.93 510.25,576.67 511.25,578.01 512.25,577.97 513.25,579.17 514.25,578.73 515.25,577.53 516.25,577.65 517.25,577.59 518.25,576.95 519.25,576.87 520.25,576.6 521.25,578.6 522.25,578.19 523.25,578.3 524.25,577.62 525.25,577.82 526.25,579.01 527.25,579.21 528.25,578.4 529.25,578.51 530.25,576.14 531.25,578.46 532.25,577.08" fill="none" stroke="#f24f4f" stroke-width="0.65" stroke-linejoin="round" opacity="1.0"/>
<text x="385" y="554" font-size="5.2" text-anchor="middle" font-family='"Liberation Serif", serif' fill="#111" stroke="#111" stroke-width="0.1" font-weight="normal">CF<tspan font-size="3.38" dy="1">3</tspan></text>
<text x="418.75" y="521" font-size="5.2" text-anchor="middle" font-family='"Liberation Serif", serif' fill="#111" stroke="#111" stroke-width="0.1" font-weight="normal">CF<tspan font-size="3.38" dy="1">2</tspan></text>
<text x="431.25" y="544.5" font-size="5.2" text-anchor="middle" font-weight="normal" font-family='"Liberation Serif", serif' fill="#111" stroke="#111" stroke-width="0.12">O-C=O</text>
<text x="446.25" y="546.5" font-size="5.2" text-anchor="middle" font-weight="normal" font-family='"Liberation Serif", serif' fill="#111" stroke="#111" stroke-width="0.12">CF</text>
<text x="461.25" y="502.7" font-size="5.2" text-anchor="middle" font-weight="normal" font-family='"Liberation Serif", serif' fill="#111" stroke="#111" stroke-width="0.12">C-O-C</text>
<text x="495" y="469.5" font-size="5.2" text-anchor="middle" font-weight="normal" font-family='"Liberation Serif", serif' fill="#111" stroke="#111" stroke-width="0.12">C-C</text>
<text x="495" y="476.5" font-size="5.2" text-anchor="middle" font-weight="normal" font-family='"Liberation Serif", serif' fill="#111" stroke="#111" stroke-width="0.12">C-H</text>
<line x1="386" y1="567" x2="384.5" y2="556" stroke="#111" stroke-width="0.65"/>
<polygon points="384.5,556 386.25,559.19 383.67,559.54" fill="#111"/>
<line x1="414" y1="535" x2="418" y2="523" stroke="#111" stroke-width="0.65"/>
<polygon points="418,523 418.16,526.64 415.69,525.81" fill="#111"/>
<line x1="440" y1="567" x2="434" y2="546.5" stroke="#111" stroke-width="0.65"/>
<polygon points="434,546.5 436.2,549.4 433.71,550.13" fill="#111"/>
<line x1="449" y1="562" x2="448" y2="548.5" stroke="#111" stroke-width="0.65"/>
<polygon points="448,548.5 449.55,551.79 446.95,551.99" fill="#111"/>
<line x1="466" y1="524" x2="463" y2="504.5" stroke="#111" stroke-width="0.65"/>
<polygon points="463,504.5 464.8,507.66 462.23,508.06" fill="#111"/>
<line x1="485" y1="481" x2="491" y2="471" stroke="#111" stroke-width="0.65"/>
<polygon points="491,471 490.37,474.58 488.14,473.25" fill="#111"/>
<rect x="548.1" y="460.75" width="165.4" height="132.25" fill="none" stroke="#7c7c7c" stroke-width="1"/>
<line x1="563.14" y1="593" x2="563.14" y2="595.2" stroke="#7c7c7c" stroke-width="0.6"/>
<text x="0" y="0" transform="translate(563.14,600.4) scale(0.82,1)" font-size="6.4" text-anchor="middle" font-weight="normal" font-family='"Liberation Serif", serif' fill="#222" stroke="#222" stroke-width="0.1">536</text>
<line x1="593.21" y1="593" x2="593.21" y2="595.2" stroke="#7c7c7c" stroke-width="0.6"/>
<text x="0" y="0" transform="translate(593.21,600.4) scale(0.82,1)" font-size="6.4" text-anchor="middle" font-weight="normal" font-family='"Liberation Serif", serif' fill="#222" stroke="#222" stroke-width="0.1">534</text>
<line x1="578.17" y1="593" x2="578.17" y2="594.4" stroke="#7c7c7c" stroke-width="0.5"/>
<line x1="623.28" y1="593" x2="623.28" y2="595.2" stroke="#7c7c7c" stroke-width="0.6"/>
<text x="0" y="0" transform="translate(623.28,600.4) scale(0.82,1)" font-size="6.4" text-anchor="middle" font-weight="normal" font-family='"Liberation Serif", serif' fill="#222" stroke="#222" stroke-width="0.1">532</text>
<line x1="608.25" y1="593" x2="608.25" y2="594.4" stroke="#7c7c7c" stroke-width="0.5"/>
<line x1="653.35" y1="593" x2="653.35" y2="595.2" stroke="#7c7c7c" stroke-width="0.6"/>
<text x="0" y="0" transform="translate(653.35,600.4) scale(0.82,1)" font-size="6.4" text-anchor="middle" font-weight="normal" font-family='"Liberation Serif", serif' fill="#222" stroke="#222" stroke-width="0.1">530</text>
<line x1="638.32" y1="593" x2="638.32" y2="594.4" stroke="#7c7c7c" stroke-width="0.5"/>
<line x1="683.43" y1="593" x2="683.43" y2="595.2" stroke="#7c7c7c" stroke-width="0.6"/>
<text x="0" y="0" transform="translate(683.43,600.4) scale(0.82,1)" font-size="6.4" text-anchor="middle" font-weight="normal" font-family='"Liberation Serif", serif' fill="#222" stroke="#222" stroke-width="0.1">528</text>
<line x1="668.39" y1="593" x2="668.39" y2="594.4" stroke="#7c7c7c" stroke-width="0.5"/>
<line x1="713.5" y1="593" x2="713.5" y2="595.2" stroke="#7c7c7c" stroke-width="0.6"/>
<text x="0" y="0" transform="translate(713.5,600.4) scale(0.82,1)" font-size="6.4" text-anchor="middle" font-weight="normal" font-family='"Liberation Serif", serif' fill="#222" stroke="#222" stroke-width="0.1">526</text>
<line x1="698.46" y1="593" x2="698.46" y2="594.4" stroke="#7c7c7c" stroke-width="0.5"/>
<text x="0" y="0" transform="translate(631.5,606.2) scale(0.89,1)" font-size="7.1" text-anchor="middle" font-weight="normal" font-family='"Liberation Serif", serif' fill="#111" stroke="#111" stroke-width="0.12">Binding Energy (eV)</text>
<text x="0" y="0" font-size="6.5" text-anchor="middle" font-family='"Liberation Serif", serif' fill="#222" stroke="#222" stroke-width="0.12" transform="translate(544.8,524) rotate(-90) scale(1,0.92)">Intensity (a.u.)</text>
<text x="552.4" y="483.9" font-size="16.5" font-weight="bold" font-family='"Liberation Serif", serif' fill="#000">d<tspan font-size="10" dy="2.8">4</tspan></text>
<text x="0" y="0" transform="translate(550,466) scale(0.88,1)" font-size="6.7" text-anchor="start" font-weight="normal" font-family='"Liberation Serif", serif' fill="#222" >O 1s</text>
<polyline points="560,575.52 713,575.8" fill="none" stroke="#9c9ad6" stroke-width="0.6" stroke-linejoin="round" opacity="1.0"/>
<polyline points="548.7,574.39 549.7,574.79 550.7,575.02 551.7,575.32 552.7,573.94 553.7,574.17 554.7,574.06 555.7,574.27 556.7,574.31 557.7,573.79 558.7,574.42 559.7,573.65 560.7,574.45 561.7,573.78 562.7,574.25 563.7,574.25 564.7,573.95 565.7,573.66 566.7,573.5 567.7,573.25 568.7,574.35 569.7,573.8 570.7,574.25 571.7,573.41 572.7,573.21 573.7,572.56 574.7,572.47 575.7,571.56 576.7,572.45 577.7,572.08 578.7,571.9 579.7,571.41 580.7,569.61 581.7,568.23 582.7,569.23 583.7,568.2 584.7,566.69 585.7,565.78 586.7,565.7 587.7,565.13 588.7,563.11 589.7,561.06 590.7,560.45 591.7,558.93 592.7,555.63 593.7,554.79 594.7,551.37 595.7,549.48 596.7,546.99 597.7,543.6 598.7,539.09 599.7,536.75 600.7,531.41 601.7,528.72 602.7,522.11 603.7,518.41 604.7,513.42 605.7,508.09 606.7,503.68 607.7,498.56 608.7,494.92 609.7,488.91 610.7,485.08 611.7,479.04 612.7,477.77 613.7,474.99 614.7,473.7 615.7,472.89 616.7,470.76 617.7,471.4 618.7,473.89 619.7,476.84 620.7,482.3 621.7,483.36 622.7,489.92 623.7,495.84 624.7,500.12 625.7,504.48 626.7,510.44 627.7,517.04 628.7,522.45 629.7,526.78 630.7,531.93 631.7,537.17 632.7,540.01 633.7,545.41 634.7,546.73 635.7,551.72 636.7,552.21 637.7,556.38 638.7,557.62 639.7,558.51 640.7,561.12 641.7,562.78 642.7,564.04 643.7,564.87 644.7,565.7 645.7,566.53 646.7,567.57 647.7,568.92 648.7,569.21 649.7,569.96 650.7,570.28 651.7,571.43 652.7,572.4 653.7,572.73 654.7,571.42 655.7,571.94 656.7,572.15 657.7,572.75 658.7,574.07 659.7,573.17 660.7,573.55 661.7,573.55 662.7,572.9 663.7,573.33 664.7,573.64 665.7,573.67 666.7,573.98 667.7,573.99 668.7,574.16 669.7,573.58 670.7,574.83 671.7,574.64 672.7,574.14 673.7,574.29 674.7,574.16 675.7,573.73 676.7,574.93 677.7,574.47 678.7,575.17 679.7,575.4 680.7,574.17 681.7,574.29 682.7,575.05 683.7,574.61 684.7,574.58 685.7,574.72 686.7,575.11 687.7,574.35 688.7,575.01 689.7,575.48 690.7,574.77 691.7,574.88 692.7,575.25 693.7,575.5 694.7,575.52 695.7,575.32 696.7,575.84 697.7,574.87 698.7,575.88 699.7,575.43 700.7,575.07 701.7,574.6 702.7,575.89 703.7,575.36 704.7,575.5 705.7,575.95 706.7,575.12 707.7,575.64 708.7,575.68 709.7,576.02 710.7,575.47 711.7,576.13 712.7,575.13" fill="none" stroke="#f24f4f" stroke-width="0.65" stroke-linejoin="round" opacity="1.0"/>
<polyline points="578.6,575.31 579.1,575.26 579.6,575.21 580.1,575.16 580.6,575.09 581.1,575.02 581.6,574.93 582.1,574.83 582.6,574.72 583.1,574.59 583.6,574.45 584.1,574.28 584.6,574.1 585.1,573.89 585.6,573.65 586.1,573.39 586.6,573.09 587.1,572.76 587.6,572.4 588.1,571.99 588.6,571.54 589.1,571.04 589.6,570.49 590.1,569.89 590.6,569.23 591.1,568.51 591.6,567.72 592.1,566.86 592.6,565.92 593.1,564.91 593.6,563.82 594.1,562.65 594.6,561.39 595.1,560.03 595.6,558.59 596.1,557.05 596.6,555.41 597.1,553.68 597.6,551.85 598.1,549.91 598.6,547.88 599.1,545.76 599.6,543.54 600.1,541.22 600.6,538.82 601.1,536.33 601.6,533.77 602.1,531.13 602.6,528.43 603.1,525.66 603.6,522.85 604.1,520 604.6,517.12 605.1,514.22 605.6,511.32 606.1,508.42 606.6,505.53 607.1,502.69 607.6,499.88 608.1,497.14 608.6,494.47 609.1,491.89 609.6,489.41 610.1,487.04 610.6,484.8 611.1,482.71 611.6,480.77 612.1,479 612.6,477.4 613.1,475.99 613.6,474.77 614.1,473.75 614.6,472.95 615.1,472.36 615.6,471.98 616.1,471.83 616.6,471.9 617.1,472.18 617.6,472.69 618.1,473.41 618.6,474.35 619.1,475.48 619.6,476.82 620.1,478.35 620.6,480.06 621.1,481.93 621.6,483.97 622.1,486.15 622.6,488.47 623.1,490.91 623.6,493.45 624.1,496.09 624.6,498.81 625.1,501.59 625.6,504.42 626.1,507.3 626.6,510.19 627.1,513.1 627.6,516 628.1,518.89 628.6,521.76 629.1,524.59 629.6,527.38 630.1,530.11 630.6,532.77 631.1,535.37 631.6,537.89 632.1,540.33 632.6,542.68 633.1,544.94 633.6,547.11 634.1,549.18 634.6,551.15 635.1,553.03 635.6,554.8 636.1,556.48 636.6,558.06 637.1,559.54 637.6,560.93 638.1,562.23 638.6,563.44 639.1,564.57 639.6,565.61 640.1,566.58 640.6,567.47 641.1,568.29 641.6,569.04 642.1,569.73 642.6,570.36 643.1,570.93 643.6,571.45 644.1,571.92 644.6,572.34 645.1,572.73 645.6,573.07 646.1,573.38 646.6,573.66 647.1,573.91 647.6,574.13 648.1,574.33 648.6,574.5 649.1,574.66 649.6,574.79 650.1,574.91 650.6,575.02 651.1,575.11 651.6,575.19 652.1,575.26 652.6,575.32 653.1,575.38 653.6,575.42" fill="none" stroke="#5a8fd0" stroke-width="0.5" stroke-linejoin="round" opacity="1.0"/>
<polyline points="571.1,575.26 571.6,575.22 572.1,575.18 572.6,575.13 573.1,575.08 573.6,575.02 574.1,574.95 574.6,574.88 575.1,574.81 575.6,574.72 576.1,574.63 576.6,574.53 577.1,574.43 577.6,574.32 578.1,574.2 578.6,574.07 579.1,573.93 579.6,573.79 580.1,573.64 580.6,573.48 581.1,573.31 581.6,573.14 582.1,572.97 582.6,572.79 583.1,572.6 583.6,572.41 584.1,572.22 584.6,572.03 585.1,571.83 585.6,571.64 586.1,571.45 586.6,571.26 587.1,571.08 587.6,570.9 588.1,570.72 588.6,570.56 589.1,570.4 589.6,570.26 590.1,570.13 590.6,570.01 591.1,569.9 591.6,569.81 592.1,569.73 592.6,569.67 593.1,569.62 593.6,569.59 594.1,569.58 594.6,569.59 595.1,569.61 595.6,569.65 596.1,569.71 596.6,569.78 597.1,569.87 597.6,569.97 598.1,570.09 598.6,570.22 599.1,570.36 599.6,570.52 600.1,570.68 600.6,570.85 601.1,571.03 601.6,571.21 602.1,571.4 602.6,571.59 603.1,571.79 603.6,571.98 604.1,572.18 604.6,572.37 605.1,572.57 605.6,572.75 606.1,572.94 606.6,573.12 607.1,573.29 607.6,573.46 608.1,573.63 608.6,573.78 609.1,573.93 609.6,574.07 610.1,574.2 610.6,574.33 611.1,574.45 611.6,574.56 612.1,574.66 612.6,574.75 613.1,574.84 613.6,574.92 614.1,575 614.6,575.07 615.1,575.13 615.6,575.19 616.1,575.24 616.6,575.29 617.1,575.33 617.6,575.37" fill="none" stroke="#f2c744" stroke-width="0.5" stroke-linejoin="round" opacity="1.0"/>
<polyline points="626.1,575.36 626.6,575.31 627.1,575.27 627.6,575.21 628.1,575.15 628.6,575.09 629.1,575.02 629.6,574.94 630.1,574.86 630.6,574.77 631.1,574.68 631.6,574.58 632.1,574.47 632.6,574.36 633.1,574.25 633.6,574.13 634.1,574.01 634.6,573.88 635.1,573.76 635.6,573.63 636.1,573.51 636.6,573.38 637.1,573.26 637.6,573.15 638.1,573.04 638.6,572.93 639.1,572.84 639.6,572.75 640.1,572.67 640.6,572.61 641.1,572.56 641.6,572.52 642.1,572.49 642.6,572.47 643.1,572.47 643.6,572.49 644.1,572.51 644.6,572.55 645.1,572.61 645.6,572.67 646.1,572.75 646.6,572.83 647.1,572.93 647.6,573.03 648.1,573.14 648.6,573.26 649.1,573.38 649.6,573.5 650.1,573.63 650.6,573.76 651.1,573.89 651.6,574.01 652.1,574.14 652.6,574.26 653.1,574.38 653.6,574.49 654.1,574.6 654.6,574.7 655.1,574.8 655.6,574.89 656.1,574.98 656.6,575.05 657.1,575.13 657.6,575.2 658.1,575.26 658.6,575.31 659.1,575.36 659.6,575.41 660.1,575.45" fill="none" stroke="#52c46c" stroke-width="0.5" stroke-linejoin="round" opacity="1.0"/>
<text x="630.25" y="472" font-size="5.2" text-anchor="middle" font-family='"Liberation Serif", serif' fill="#111" stroke="#111" stroke-width="0.1" font-weight="normal">SiO<tspan font-size="3.38" dy="1">2</tspan></text>
<line x1="620" y1="471" x2="625" y2="470.5" stroke="#111" stroke-width="0.65"/>
<polygon points="625,470.5 621.75,472.13 621.49,469.54" fill="#111"/>
<line x1="594" y1="569" x2="588" y2="557.5" stroke="#111" stroke-width="0.65"/>
<polygon points="588,557.5 590.73,559.91 588.42,561.12" fill="#111"/>
<line x1="642" y1="572" x2="650" y2="561" stroke="#111" stroke-width="0.65"/>
<polygon points="650,561 649.05,564.51 646.95,562.99" fill="#111"/>
<text x="583" y="557.7" font-size="5.2" text-anchor="middle" font-weight="normal" font-family='"Liberation Sans", sans-serif' fill="#111" >C-O-C</text>
<text x="654.2" y="561.6" font-size="5.2" text-anchor="middle" font-weight="normal" font-family='"Liberation Sans", sans-serif' fill="#111" >O-C=O</text>
<rect x="189.4" y="613.2" width="165.6" height="133.2" fill="none" stroke="#7c7c7c" stroke-width="1"/>
<line x1="207.14" y1="746.4" x2="207.14" y2="748.6" stroke="#7c7c7c" stroke-width="0.6"/>
<text x="0" y="0" transform="translate(207.14,753.7) scale(0.82,1)" font-size="6.4" text-anchor="middle" font-weight="normal" font-family='"Liberation Serif", serif' fill="#222" stroke="#222" stroke-width="0.1">170</text>
<line x1="192.36" y1="746.4" x2="192.36" y2="747.8" stroke="#7c7c7c" stroke-width="0.5"/>
<line x1="236.71" y1="746.4" x2="236.71" y2="748.6" stroke="#7c7c7c" stroke-width="0.6"/>
<text x="0" y="0" transform="translate(236.71,753.7) scale(0.82,1)" font-size="6.4" text-anchor="middle" font-weight="normal" font-family='"Liberation Serif", serif' fill="#222" stroke="#222" stroke-width="0.1">168</text>
<line x1="221.93" y1="746.4" x2="221.93" y2="747.8" stroke="#7c7c7c" stroke-width="0.5"/>
<line x1="266.29" y1="746.4" x2="266.29" y2="748.6" stroke="#7c7c7c" stroke-width="0.6"/>
<text x="0" y="0" transform="translate(266.29,753.7) scale(0.82,1)" font-size="6.4" text-anchor="middle" font-weight="normal" font-family='"Liberation Serif", serif' fill="#222" stroke="#222" stroke-width="0.1">166</text>
<line x1="251.5" y1="746.4" x2="251.5" y2="747.8" stroke="#7c7c7c" stroke-width="0.5"/>
<line x1="295.86" y1="746.4" x2="295.86" y2="748.6" stroke="#7c7c7c" stroke-width="0.6"/>
<text x="0" y="0" transform="translate(295.86,753.7) scale(0.82,1)" font-size="6.4" text-anchor="middle" font-weight="normal" font-family='"Liberation Serif", serif' fill="#222" stroke="#222" stroke-width="0.1">164</text>
<line x1="281.07" y1="746.4" x2="281.07" y2="747.8" stroke="#7c7c7c" stroke-width="0.5"/>
<line x1="325.43" y1="746.4" x2="325.43" y2="748.6" stroke="#7c7c7c" stroke-width="0.6"/>
<text x="0" y="0" transform="translate(325.43,753.7) scale(0.82,1)" font-size="6.4" text-anchor="middle" font-weight="normal" font-family='"Liberation Serif", serif' fill="#222" stroke="#222" stroke-width="0.1">162</text>
<line x1="310.64" y1="746.4" x2="310.64" y2="747.8" stroke="#7c7c7c" stroke-width="0.5"/>
<line x1="355" y1="746.4" x2="355" y2="748.6" stroke="#7c7c7c" stroke-width="0.6"/>
<text x="0" y="0" transform="translate(355,753.7) scale(0.82,1)" font-size="6.4" text-anchor="middle" font-weight="normal" font-family='"Liberation Serif", serif' fill="#222" stroke="#222" stroke-width="0.1">160</text>
<line x1="340.21" y1="746.4" x2="340.21" y2="747.8" stroke="#7c7c7c" stroke-width="0.5"/>
<text x="0" y="0" transform="translate(274.5,760) scale(0.89,1)" font-size="7.1" text-anchor="middle" font-weight="normal" font-family='"Liberation Serif", serif' fill="#111" stroke="#111" stroke-width="0.12">Binding Energy (eV)</text>
<text x="0" y="0" font-size="6.5" text-anchor="middle" font-family='"Liberation Serif", serif' fill="#222" stroke="#222" stroke-width="0.12" transform="translate(184.8,678) rotate(-90) scale(1,0.92)">Intensity (a.u.)</text>
<text x="194.3" y="635" font-size="16.5" font-weight="bold" font-family='"Liberation Serif", serif' fill="#000">e<tspan font-size="10" dy="2.8">2</tspan></text>
<text x="0" y="0" transform="translate(191,619.2) scale(0.88,1)" font-size="6.9" text-anchor="start" font-weight="normal" font-family='"Liberation Serif", serif' fill="#222" >S 2p</text>
<polyline points="201.9,734.33 202.4,734.25 202.9,734.15 203.4,734.01 203.9,733.85 204.4,733.64 204.9,733.39 205.4,733.09 205.9,732.72 206.4,732.27 206.9,731.75 207.4,731.13 207.9,730.4 208.4,729.56 208.9,728.59 209.4,727.48 209.9,726.23 210.4,724.82 210.9,723.25 211.4,721.51 211.9,719.61 212.4,717.55 212.9,715.34 213.4,712.97 213.9,710.48 214.4,707.87 214.9,705.18 215.4,702.43 215.9,699.65 216.4,696.88 216.9,694.15 217.4,691.51 217.9,689 218.4,686.65 218.9,684.51 219.4,682.61 219.9,681 220.4,679.69 220.9,678.72 221.4,678.1 221.9,677.85 222.4,677.97 222.9,678.45 223.4,679.29 223.9,680.48 224.4,681.98 224.9,683.78 225.4,685.84 225.9,688.12 226.4,690.58 226.9,693.19 227.4,695.89 227.9,698.66 228.4,701.45 228.9,704.23 229.4,706.96 229.9,709.62 230.4,712.17 230.9,714.59 231.4,716.88 231.9,719.02 232.4,720.99 232.9,722.81 233.4,724.45 233.9,725.93 234.4,727.26 234.9,728.44 235.4,729.47 235.9,730.37 236.4,731.15 236.9,731.83 237.4,732.4 237.9,732.89 238.4,733.29 238.9,733.63 239.4,733.92 239.9,734.15 240.4,734.34 240.9,734.5 241.4,734.62 241.9,734.72 242.4,734.81" fill="none" stroke="#f2c744" stroke-width="0.5" stroke-linejoin="round" opacity="1.0"/>
<polyline points="215.9,734.47 216.4,734.4 216.9,734.3 217.4,734.17 217.9,734.02 218.4,733.84 218.9,733.61 219.4,733.33 219.9,733 220.4,732.6 220.9,732.12 221.4,731.56 221.9,730.9 222.4,730.13 222.9,729.24 223.4,728.2 223.9,727.02 224.4,725.67 224.9,724.14 225.4,722.41 225.9,720.49 226.4,718.35 226.9,715.98 227.4,713.38 227.9,710.56 228.4,707.49 228.9,704.2 229.4,700.69 229.9,696.96 230.4,693.05 230.9,688.96 231.4,684.74 231.9,680.4 232.4,675.98 232.9,671.53 233.4,667.09 233.9,662.71 234.4,658.44 234.9,654.32 235.4,650.42 235.9,646.77 236.4,643.44 236.9,640.46 237.4,637.88 237.9,635.73 238.4,634.05 238.9,632.87 239.4,632.2 239.9,632.04 240.4,632.42 240.9,633.31 241.4,634.7 241.9,636.58 242.4,638.91 242.9,641.67 243.4,644.81 243.9,648.28 244.4,652.05 244.9,656.05 245.4,660.25 245.9,664.58 246.4,669.01 246.9,673.46 247.4,677.92 247.9,682.32 248.4,686.62 248.9,690.81 249.4,694.84 249.9,698.69 250.4,702.34 250.9,705.78 251.4,708.99 251.9,711.97 252.4,714.72 252.9,717.23 253.4,719.52 253.9,721.58 254.4,723.44 254.9,725.09 255.4,726.56 255.9,727.85 256.4,728.98 256.9,729.97 257.4,730.82 257.9,731.56 258.4,732.19 258.9,732.73 259.4,733.18 259.9,733.56 260.4,733.88 260.9,734.15 261.4,734.37 261.9,734.55 262.4,734.7 262.9,734.83 263.4,734.93 263.9,735.01" fill="none" stroke="#5a8fd0" stroke-width="0.5" stroke-linejoin="round" opacity="1.0"/>
<polyline points="249.4,734.84 249.9,734.73 250.4,734.58 250.9,734.39 251.4,734.16 251.9,733.88 252.4,733.55 252.9,733.17 253.4,732.76 253.9,732.33 254.4,731.89 254.9,731.46 255.4,731.07 255.9,730.73 256.4,730.46 256.9,730.29 257.4,730.22 257.9,730.26 258.4,730.4 258.9,730.64 259.4,730.96 259.9,731.35 260.4,731.78 260.9,732.23 261.4,732.67 261.9,733.1 262.4,733.5 262.9,733.86 263.4,734.18 263.9,734.44 264.4,734.66 264.9,734.83 265.4,734.97" fill="none" stroke="#52c46c" stroke-width="0.5" stroke-linejoin="round" opacity="1.0"/>
<polyline points="200,734.61 272,735.37" fill="none" stroke="#52c46c" stroke-width="0.6" stroke-linejoin="round" opacity="1.0"/>
<polyline points="190,735.68 191,734.81 192,735.07 193,735.22 194,733.88 195,733.31 196,733.64 197,734.79 198,735.32 199,734.41 200,732.87 201,734.89 202,731.52 203,731.72 204,730.63 205,730.35 206,730.1 207,726.15 208,726.18 209,725.45 210,721.86 211,720.63 212,717.72 213,711.62 214,706.74 215,703.05 216,697.11 217,692.17 218,690.17 219,683.74 220,679.76 221,675.87 222,678.02 223,675.84 224,681.46 225,683.15 226,680.48 227,683.99 228,686.83 229,686.44 230,683.37 231,679.94 232,678 233,669.29 234,659.91 235,654.13 236,648.76 237,643.44 238,635.23 239,631.52 240,630.05 241,632.7 242,639.3 243,647.36 244,655.69 245,662.52 246,674.53 247,684.3 248,693.26 249,697.55 250,708.41 251,714.12 252,720.73 253,721.99 254,724.97 255,726.02 256,727.95 257,728.04 258,729.11 259,730.6 260,731.2 261,732.24 262,732.36 263,733.67 264,736.22 265,734.78 266,735.46 267,735.13 268,735.04 269,732.93 270,736.7 271,734.43 272,734.72 273,736.44 274,733.56 275,735.43 276,734.98 277,733.99 278,735.92 279,734.85 280,735.38 281,735.13 282,735.98 283,737.25 284,734.52 285,736.18 286,734.98 287,735.25 288,734.07 289,734.66 290,735.23 291,736.21 292,735.78 293,736.04 294,736.18 295,734.54 296,736.76 297,735.38 298,736.18 299,735.52 300,735.88 301,736.18 302,733.93 303,737.27 304,735.85 305,736.57 306,735.9 307,735.81 308,734.72 309,735.46 310,734.05 311,735.67 312,737.03 313,734.34 314,735.28 315,735.54 316,736.75 317,736.81 318,735.91 319,735.94 320,735.75 321,735.51 322,735.53 323,735.55 324,735.8 325,735.99 326,735.45 327,736.44 328,735.94 329,736.39 330,734.92 331,735.45 332,736.08 333,736.24 334,735.89 335,737.24 336,735.89 337,737.17 338,737.16 339,736.62 340,736.44 341,736.53 342,736 343,735.24 344,735.73 345,735.65 346,735.83 347,735.59 348,735.34 349,736.29 350,737.31 351,735.53 352,734.78 353,735.78 354,735.28" fill="none" stroke="#f24f4f" stroke-width="0.65" stroke-linejoin="round" opacity="1.0"/>
<text x="213.75" y="662" font-size="5.0" text-anchor="middle" font-family='"Liberation Serif", serif' fill="#111" stroke="#111" stroke-width="0.1" font-weight="normal">Metal SO<tspan font-size="3.25" dy="1">4</tspan></text>
<text x="266.25" y="626.5" font-size="5.0" text-anchor="middle" font-family='"Liberation Serif", serif' fill="#111" stroke="#111" stroke-width="0.1" font-weight="normal">Organic SO<tspan font-size="3.25" dy="1">2</tspan></text>
<text x="276.25" y="704" font-size="5.0" text-anchor="middle" font-family='"Liberation Serif", serif' fill="#111" stroke="#111" stroke-width="0.1" font-weight="normal">Metal SO<tspan font-size="3.25" dy="1">3</tspan></text>
<line x1="223" y1="678" x2="217" y2="664" stroke="#111" stroke-width="0.65"/>
<polygon points="217,664 219.53,666.61 217.14,667.64" fill="#111"/>
<line x1="241" y1="631" x2="252" y2="625.5" stroke="#111" stroke-width="0.65"/>
<polygon points="252,625.5 249.54,628.18 248.38,625.86" fill="#111"/>
<line x1="258" y1="729" x2="268" y2="705" stroke="#111" stroke-width="0.65"/>
<polygon points="268,705 267.89,708.64 265.49,707.64" fill="#111"/>
<rect x="368.8" y="613" width="165.8" height="133.3" fill="none" stroke="#7c7c7c" stroke-width="1"/>
<line x1="387.22" y1="746.3" x2="387.22" y2="748.5" stroke="#7c7c7c" stroke-width="0.6"/>
<text x="0" y="0" transform="translate(387.22,753.5) scale(0.82,1)" font-size="6.4" text-anchor="middle" font-weight="normal" font-family='"Liberation Serif", serif' fill="#222" stroke="#222" stroke-width="0.1">288</text>
<line x1="424.07" y1="746.3" x2="424.07" y2="748.5" stroke="#7c7c7c" stroke-width="0.6"/>
<text x="0" y="0" transform="translate(424.07,753.5) scale(0.82,1)" font-size="6.4" text-anchor="middle" font-weight="normal" font-family='"Liberation Serif", serif' fill="#222" stroke="#222" stroke-width="0.1">286</text>
<line x1="405.64" y1="746.3" x2="405.64" y2="747.7" stroke="#7c7c7c" stroke-width="0.5"/>
<line x1="460.91" y1="746.3" x2="460.91" y2="748.5" stroke="#7c7c7c" stroke-width="0.6"/>
<text x="0" y="0" transform="translate(460.91,753.5) scale(0.82,1)" font-size="6.4" text-anchor="middle" font-weight="normal" font-family='"Liberation Serif", serif' fill="#222" stroke="#222" stroke-width="0.1">284</text>
<line x1="442.49" y1="746.3" x2="442.49" y2="747.7" stroke="#7c7c7c" stroke-width="0.5"/>
<line x1="497.76" y1="746.3" x2="497.76" y2="748.5" stroke="#7c7c7c" stroke-width="0.6"/>
<text x="0" y="0" transform="translate(497.76,753.5) scale(0.82,1)" font-size="6.4" text-anchor="middle" font-weight="normal" font-family='"Liberation Serif", serif' fill="#222" stroke="#222" stroke-width="0.1">282</text>
<line x1="479.33" y1="746.3" x2="479.33" y2="747.7" stroke="#7c7c7c" stroke-width="0.5"/>
<line x1="534.6" y1="746.3" x2="534.6" y2="748.5" stroke="#7c7c7c" stroke-width="0.6"/>
<text x="0" y="0" transform="translate(534.6,753.5) scale(0.82,1)" font-size="6.4" text-anchor="middle" font-weight="normal" font-family='"Liberation Serif", serif' fill="#222" stroke="#222" stroke-width="0.1">280</text>
<line x1="516.18" y1="746.3" x2="516.18" y2="747.7" stroke="#7c7c7c" stroke-width="0.5"/>
<text x="0" y="0" transform="translate(451.25,760) scale(0.89,1)" font-size="7.1" text-anchor="middle" font-weight="normal" font-family='"Liberation Serif", serif' fill="#111" stroke="#111" stroke-width="0.12">Binding Energy (eV)</text>
<text x="0" y="0" font-size="6.5" text-anchor="middle" font-family='"Liberation Serif", serif' fill="#222" stroke="#222" stroke-width="0.12" transform="translate(364.8,678) rotate(-90) scale(1,0.92)">Intensity (a.u.)</text>
<text x="374.1" y="636.7" font-size="16.5" font-weight="bold" font-family='"Liberation Serif", serif' fill="#000">e<tspan font-size="10" dy="2.8">3</tspan></text>
<text x="0" y="0" transform="translate(371,620) scale(0.88,1)" font-size="6.4" text-anchor="start" font-weight="normal" font-family='"Liberation Serif", serif' fill="#222" >C 1s</text>
<polyline points="380,726.5 534,729.99" fill="none" stroke="#52c46c" stroke-width="0.6" stroke-linejoin="round" opacity="1.0"/>
<polyline points="369.4,725.43 370.4,726.23 371.4,725.32 372.4,725.93 373.4,725.27 374.4,725.77 375.4,726.35 376.4,725.96 377.4,726.07 378.4,725.86 379.4,725.71 380.4,727.22 381.4,725.15 382.4,725.89 383.4,726.81 384.4,725.2 385.4,725.4 386.4,725.55 387.4,725.15 388.4,725.52 389.4,725.65 390.4,725.35 391.4,724.63 392.4,725.67 393.4,724.21 394.4,724.06 395.4,724.18 396.4,723.26 397.4,723.92 398.4,721.38 399.4,722.4 400.4,721.14 401.4,719.64 402.4,719.54 403.4,717.36 404.4,716.5 405.4,714.41 406.4,712.67 407.4,713.77 408.4,710.34 409.4,709.79 410.4,709.4 411.4,706.91 412.4,704.38 413.4,704.01 414.4,702.68 415.4,702.48 416.4,701.02 417.4,700.4 418.4,700.28 419.4,699.84 420.4,699.65 421.4,698.74 422.4,700.25 423.4,698.2 424.4,698.95 425.4,696.89 426.4,694.04 427.4,693.08 428.4,690.95 429.4,686.47 430.4,686.03 431.4,683.53 432.4,678.22 433.4,671.27 434.4,670.18 435.4,662.29 436.4,658.27 437.4,654.22 438.4,648.57 439.4,643.51 440.4,636.75 441.4,633.98 442.4,628.72 443.4,627.26 444.4,624.74 445.4,623.62 446.4,625.44 447.4,622.85 448.4,626.41 449.4,627.59 450.4,633.38 451.4,637.59 452.4,641.04 453.4,647.84 454.4,652.3 455.4,655.42 456.4,665.29 457.4,668.97 458.4,671.7 459.4,677.5 460.4,682.56 461.4,684.74 462.4,688.25 463.4,691.34 464.4,693.42 465.4,696.59 466.4,700.33 467.4,703.01 468.4,705.16 469.4,707.79 470.4,710.1 471.4,712.77 472.4,714.55 473.4,715.55 474.4,718.12 475.4,720.05 476.4,719.98 477.4,721.56 478.4,723.27 479.4,724.52 480.4,724.98 481.4,726.24 482.4,724.82 483.4,725.72 484.4,727.64 485.4,727.18 486.4,726.76 487.4,727.49 488.4,727.46 489.4,727.62 490.4,727.66 491.4,727.25 492.4,727.61 493.4,728.36 494.4,727.46 495.4,727.05 496.4,727.73 497.4,726.85 498.4,727.01 499.4,728.76 500.4,728.57 501.4,727.04 502.4,727.9 503.4,727.99 504.4,728.74 505.4,728.18 506.4,729.56 507.4,728.32 508.4,728.69 509.4,728.98 510.4,728.71 511.4,727.88 512.4,729.07 513.4,729.14 514.4,728.41 515.4,728.12 516.4,728.65 517.4,729.9 518.4,729.46 519.4,729.24 520.4,728.55 521.4,729.49 522.4,729.48 523.4,729.35 524.4,728.99 525.4,729.57 526.4,729.4 527.4,728.83 528.4,729.58 529.4,729.35 530.4,730.14 531.4,729.13 532.4,728.45 533.4,729.92" fill="none" stroke="#f24f4f" stroke-width="0.65" stroke-linejoin="round" opacity="1.0"/>
<polyline points="410.8,726.93 411.3,726.9 411.8,726.85 412.3,726.79 412.8,726.73 413.3,726.65 413.8,726.56 414.3,726.45 414.8,726.33 415.3,726.19 415.8,726.02 416.3,725.83 416.8,725.62 417.3,725.37 417.8,725.1 418.3,724.78 418.8,724.43 419.3,724.03 419.8,723.58 420.3,723.09 420.8,722.53 421.3,721.92 421.8,721.24 422.3,720.5 422.8,719.68 423.3,718.78 423.8,717.79 424.3,716.72 424.8,715.56 425.3,714.31 425.8,712.95 426.3,711.49 426.8,709.93 427.3,708.25 427.8,706.47 428.3,704.58 428.8,702.57 429.3,700.45 429.8,698.23 430.3,695.89 430.8,693.45 431.3,690.91 431.8,688.27 432.3,685.55 432.8,682.74 433.3,679.86 433.8,676.92 434.3,673.92 434.8,670.88 435.3,667.82 435.8,664.74 436.3,661.66 436.8,658.59 437.3,655.55 437.8,652.57 438.3,649.64 438.8,646.8 439.3,644.05 439.8,641.42 440.3,638.92 440.8,636.57 441.3,634.38 441.8,632.37 442.3,630.54 442.8,628.93 443.3,627.52 443.8,626.34 444.3,625.39 444.8,624.69 445.3,624.23 445.8,624.01 446.3,624.05 446.8,624.33 447.3,624.87 447.8,625.65 448.3,626.66 448.8,627.91 449.3,629.38 449.8,631.07 450.3,632.95 450.8,635.02 451.3,637.27 451.8,639.67 452.3,642.22 452.8,644.9 453.3,647.69 453.8,650.57 454.3,653.54 454.8,656.56 455.3,659.62 455.8,662.71 456.3,665.82 456.8,668.92 457.3,672 457.8,675.06 458.3,678.07 458.8,681.02 459.3,683.91 459.8,686.72 460.3,689.45 460.8,692.09 461.3,694.64 461.8,697.08 462.3,699.42 462.8,701.64 463.3,703.76 463.8,705.77 464.3,707.66 464.8,709.45 465.3,711.12 465.8,712.69 466.3,714.15 466.8,715.51 467.3,716.77 467.8,717.93 468.3,719.01 468.8,719.99 469.3,720.9 469.8,721.73 470.3,722.48 470.8,723.17 471.3,723.79 471.8,724.36 472.3,724.87 472.8,725.32 473.3,725.74 473.8,726.1 474.3,726.43 474.8,726.73 475.3,726.99 475.8,727.22 476.3,727.43 476.8,727.61 477.3,727.77 477.8,727.92 478.3,728.04 478.8,728.15 479.3,728.25 479.8,728.34 480.3,728.41 480.8,728.48 481.3,728.54" fill="none" stroke="#5a8fd0" stroke-width="0.5" stroke-linejoin="round" opacity="1.0"/>
<polyline points="388.8,726.44 389.3,726.41 389.8,726.37 390.3,726.33 390.8,726.27 391.3,726.21 391.8,726.14 392.3,726.06 392.8,725.96 393.3,725.86 393.8,725.74 394.3,725.6 394.8,725.45 395.3,725.29 395.8,725.1 396.3,724.9 396.8,724.67 397.3,724.43 397.8,724.16 398.3,723.86 398.8,723.55 399.3,723.2 399.8,722.84 400.3,722.44 400.8,722.02 401.3,721.58 401.8,721.1 402.3,720.6 402.8,720.08 403.3,719.53 403.8,718.96 404.3,718.37 404.8,717.76 405.3,717.13 405.8,716.49 406.3,715.83 406.8,715.16 407.3,714.49 407.8,713.82 408.3,713.15 408.8,712.48 409.3,711.82 409.8,711.17 410.3,710.55 410.8,709.94 411.3,709.36 411.8,708.81 412.3,708.3 412.8,707.82 413.3,707.38 413.8,706.99 414.3,706.65 414.8,706.36 415.3,706.12 415.8,705.94 416.3,705.82 416.8,705.75 417.3,705.75 417.8,705.8 418.3,705.91 418.8,706.08 419.3,706.31 419.8,706.59 420.3,706.92 420.8,707.31 421.3,707.74 421.8,708.21 422.3,708.73 422.8,709.28 423.3,709.86 423.8,710.48 424.3,711.12 424.8,711.77 425.3,712.45 425.8,713.13 426.3,713.83 426.8,714.52 427.3,715.22 427.8,715.91 428.3,716.6 428.8,717.27 429.3,717.93 429.8,718.58 430.3,719.2 430.8,719.81 431.3,720.39 431.8,720.95 432.3,721.49 432.8,722 433.3,722.49 433.8,722.94 434.3,723.38 434.8,723.78 435.3,724.16 435.8,724.52 436.3,724.85 436.8,725.15 437.3,725.44 437.8,725.7 438.3,725.94 438.8,726.16 439.3,726.36 439.8,726.54 440.3,726.7 440.8,726.86 441.3,726.99 441.8,727.12 442.3,727.23 442.8,727.33 443.3,727.42 443.8,727.5 444.3,727.57 444.8,727.64 445.3,727.69" fill="none" stroke="#f2c744" stroke-width="0.5" stroke-linejoin="round" opacity="1.0"/>
<text x="407.5" y="683.3" font-size="5.2" text-anchor="middle" font-weight="normal" font-family='"Liberation Serif", serif' fill="#111" stroke="#111" stroke-width="0.12">C-O-C</text>
<text x="461.25" y="620" font-size="5.2" text-anchor="middle" font-weight="normal" font-family='"Liberation Serif", serif' fill="#111" stroke="#111" stroke-width="0.12">C-C</text>
<text x="461.25" y="627" font-size="5.2" text-anchor="middle" font-weight="normal" font-family='"Liberation Serif", serif' fill="#111" stroke="#111" stroke-width="0.12">C-H</text>
<line x1="417" y1="704" x2="410" y2="685.5" stroke="#111" stroke-width="0.65"/>
<polygon points="410,685.5 412.42,688.22 409.99,689.14" fill="#111"/>
<line x1="449" y1="623" x2="456" y2="619" stroke="#111" stroke-width="0.65"/>
<polygon points="456,619 453.69,621.82 452.4,619.56" fill="#111"/>
<rect x="548.3" y="613.4" width="166.1" height="133.1" fill="none" stroke="#7c7c7c" stroke-width="1"/>
<line x1="548.3" y1="746.5" x2="548.3" y2="748.7" stroke="#7c7c7c" stroke-width="0.6"/>
<text x="0" y="0" transform="translate(548.3,753.2) scale(0.82,1)" font-size="6.4" text-anchor="middle" font-weight="normal" font-family='"Liberation Serif", serif' fill="#222" stroke="#222" stroke-width="0.1">536</text>
<line x1="584.93" y1="746.5" x2="584.93" y2="748.7" stroke="#7c7c7c" stroke-width="0.6"/>
<text x="0" y="0" transform="translate(584.93,753.2) scale(0.82,1)" font-size="6.4" text-anchor="middle" font-weight="normal" font-family='"Liberation Serif", serif' fill="#222" stroke="#222" stroke-width="0.1">534</text>
<line x1="566.61" y1="746.5" x2="566.61" y2="747.9" stroke="#7c7c7c" stroke-width="0.5"/>
<line x1="621.55" y1="746.5" x2="621.55" y2="748.7" stroke="#7c7c7c" stroke-width="0.6"/>
<text x="0" y="0" transform="translate(621.55,753.2) scale(0.82,1)" font-size="6.4" text-anchor="middle" font-weight="normal" font-family='"Liberation Serif", serif' fill="#222" stroke="#222" stroke-width="0.1">532</text>
<line x1="603.24" y1="746.5" x2="603.24" y2="747.9" stroke="#7c7c7c" stroke-width="0.5"/>
<line x1="658.18" y1="746.5" x2="658.18" y2="748.7" stroke="#7c7c7c" stroke-width="0.6"/>
<text x="0" y="0" transform="translate(658.18,753.2) scale(0.82,1)" font-size="6.4" text-anchor="middle" font-weight="normal" font-family='"Liberation Serif", serif' fill="#222" stroke="#222" stroke-width="0.1">530</text>
<line x1="639.87" y1="746.5" x2="639.87" y2="747.9" stroke="#7c7c7c" stroke-width="0.5"/>
<line x1="694.8" y1="746.5" x2="694.8" y2="748.7" stroke="#7c7c7c" stroke-width="0.6"/>
<text x="0" y="0" transform="translate(694.8,753.2) scale(0.82,1)" font-size="6.4" text-anchor="middle" font-weight="normal" font-family='"Liberation Serif", serif' fill="#222" stroke="#222" stroke-width="0.1">528</text>
<line x1="676.49" y1="746.5" x2="676.49" y2="747.9" stroke="#7c7c7c" stroke-width="0.5"/>
<line x1="713.12" y1="746.5" x2="713.12" y2="747.9" stroke="#7c7c7c" stroke-width="0.5"/>
<text x="0" y="0" transform="translate(630.25,760) scale(0.89,1)" font-size="7.1" text-anchor="middle" font-weight="normal" font-family='"Liberation Serif", serif' fill="#111" stroke="#111" stroke-width="0.12">Binding Energy (eV)</text>
<text x="0" y="0" font-size="6.5" text-anchor="middle" font-family='"Liberation Serif", serif' fill="#222" stroke="#222" stroke-width="0.12" transform="translate(544.8,678) rotate(-90) scale(1,0.92)">Intensity (a.u.)</text>
<text x="552.4" y="636.7" font-size="16.5" font-weight="bold" font-family='"Liberation Serif", serif' fill="#000">e<tspan font-size="10" dy="2.8">4</tspan></text>
<text x="0" y="0" transform="translate(550,619.2) scale(0.88,1)" font-size="7.0" text-anchor="start" font-weight="normal" font-family='"Liberation Serif", serif' fill="#222" >O 1s</text>
<polyline points="550,722.54 714,726.24" fill="none" stroke="#52c46c" stroke-width="0.6" stroke-linejoin="round" opacity="1.0"/>
<polyline points="548.9,721.57 549.9,721.68 550.9,721.64 551.9,722.83 552.9,723.28 553.9,722.33 554.9,722.53 555.9,721.66 556.9,722.76 557.9,722.53 558.9,723.7 559.9,724.53 560.9,722.63 561.9,722.1 562.9,722.53 563.9,722.08 564.9,721.92 565.9,722.79 566.9,722.1 567.9,722.19 568.9,720.49 569.9,721.09 570.9,720.22 571.9,721.12 572.9,719.69 573.9,718.61 574.9,717.64 575.9,716.98 576.9,715 577.9,713.2 578.9,711.83 579.9,711.02 580.9,709.18 581.9,705.34 582.9,703.11 583.9,703.28 584.9,700.54 585.9,699.12 586.9,696.63 587.9,693.44 588.9,691.66 589.9,689.65 590.9,686.49 591.9,683.81 592.9,685.34 593.9,683.06 594.9,680.51 595.9,680.89 596.9,679.39 597.9,679.61 598.9,679.4 599.9,679.09 600.9,676.74 601.9,676.97 602.9,673.58 603.9,672.39 604.9,671.23 605.9,671.71 606.9,670.72 607.9,668.03 608.9,666.78 609.9,665.39 610.9,661.95 611.9,658.16 612.9,656.5 613.9,654.51 614.9,652.74 615.9,649.93 616.9,645.89 617.9,644.5 618.9,640.42 619.9,639.12 620.9,636.8 621.9,636.67 622.9,630.85 623.9,629.54 624.9,630.16 625.9,632.01 626.9,628.33 627.9,629.02 628.9,631.51 629.9,634.31 630.9,631.87 631.9,635.72 632.9,638.99 633.9,640.77 634.9,642.01 635.9,646.87 636.9,648.11 637.9,650.24 638.9,654.85 639.9,660.1 640.9,662.89 641.9,666.21 642.9,668.67 643.9,672.82 644.9,680.28 645.9,681.55 646.9,685.4 647.9,689.02 648.9,693.63 649.9,693.61 650.9,698.52 651.9,701.79 652.9,703 653.9,706.2 654.9,709.54 655.9,709.31 656.9,711.36 657.9,714.49 658.9,714.22 659.9,716.98 660.9,717.21 661.9,718.11 662.9,720.24 663.9,722.14 664.9,722.02 665.9,722.26 666.9,722.43 667.9,722.99 668.9,722.93 669.9,723.4 670.9,723.91 671.9,724.54 672.9,723.86 673.9,725.29 674.9,726.04 675.9,725.33 676.9,725.85 677.9,725.07 678.9,724.11 679.9,724.92 680.9,724.83 681.9,724.65 682.9,724.71 683.9,725.62 684.9,725.34 685.9,725.79 686.9,725.76 687.9,724.74 688.9,726.72 689.9,725.71 690.9,726.33 691.9,725.68 692.9,726.13 693.9,725.58 694.9,725.08 695.9,725.03 696.9,725.44 697.9,726.15 698.9,726.4 699.9,726.49 700.9,725.71 701.9,726.61 702.9,725.66 703.9,725.72 704.9,725.89 705.9,726.15 706.9,725.58 707.9,725.27 708.9,726.01 709.9,726.54 710.9,725.74 711.9,725.7 712.9,726.62" fill="none" stroke="#f24f4f" stroke-width="0.65" stroke-linejoin="round" opacity="1.0"/>
<polyline points="575.8,722.87 576.3,722.85 576.8,722.83 577.3,722.8 577.8,722.77 578.3,722.73 578.8,722.69 579.3,722.65 579.8,722.6 580.3,722.54 580.8,722.48 581.3,722.4 581.8,722.32 582.3,722.24 582.8,722.14 583.3,722.03 583.8,721.91 584.3,721.78 584.8,721.64 585.3,721.48 585.8,721.31 586.3,721.12 586.8,720.92 587.3,720.7 587.8,720.46 588.3,720.2 588.8,719.92 589.3,719.62 589.8,719.29 590.3,718.94 590.8,718.57 591.3,718.16 591.8,717.73 592.3,717.27 592.8,716.77 593.3,716.25 593.8,715.69 594.3,715.09 594.8,714.46 595.3,713.79 595.8,713.08 596.3,712.33 596.8,711.54 597.3,710.7 597.8,709.83 598.3,708.9 598.8,707.93 599.3,706.92 599.8,705.86 600.3,704.75 600.8,703.59 601.3,702.39 601.8,701.14 602.3,699.84 602.8,698.49 603.3,697.1 603.8,695.66 604.3,694.17 604.8,692.64 605.3,691.06 605.8,689.45 606.3,687.79 606.8,686.09 607.3,684.36 607.8,682.6 608.3,680.8 608.8,678.98 609.3,677.13 609.8,675.26 610.3,673.36 610.8,671.46 611.3,669.54 611.8,667.62 612.3,665.69 612.8,663.77 613.3,661.85 613.8,659.94 614.3,658.04 614.8,656.17 615.3,654.32 615.8,652.5 616.3,650.72 616.8,648.98 617.3,647.28 617.8,645.63 618.3,644.04 618.8,642.5 619.3,641.03 619.8,639.63 620.3,638.3 620.8,637.05 621.3,635.88 621.8,634.8 622.3,633.8 622.8,632.9 623.3,632.09 623.8,631.38 624.3,630.77 624.8,630.26 625.3,629.86 625.8,629.56 626.3,629.37 626.8,629.28 627.3,629.3 627.8,629.43 628.3,629.67 628.8,630.01 629.3,630.46 629.8,631.01 630.3,631.66 630.8,632.42 631.3,633.27 631.8,634.21 632.3,635.25 632.8,636.37 633.3,637.58 633.8,638.87 634.3,640.24 634.8,641.67 635.3,643.18 635.8,644.75 636.3,646.38 636.8,648.06 637.3,649.79 637.8,651.56 638.3,653.38 638.8,655.22 639.3,657.1 639.8,659 640.3,660.92 640.8,662.85 641.3,664.8 641.8,666.75 642.3,668.69 642.8,670.64 643.3,672.58 643.8,674.5 644.3,676.41 644.8,678.3 645.3,680.17 645.8,682.01 646.3,683.83 646.8,685.61 647.3,687.35 647.8,689.06 648.3,690.73 648.8,692.37 649.3,693.95 649.8,695.5 650.3,697 650.8,698.45 651.3,699.86 651.8,701.22 652.3,702.54 652.8,703.8 653.3,705.02 653.8,706.19 654.3,707.31 654.8,708.38 655.3,709.41 655.8,710.39 656.3,711.33 656.8,712.22 657.3,713.07 657.8,713.87 658.3,714.64 658.8,715.36 659.3,716.05 659.8,716.7 660.3,717.31 660.8,717.88 661.3,718.42 661.8,718.93 662.3,719.41 662.8,719.86 663.3,720.28 663.8,720.68 664.3,721.04 664.8,721.39 665.3,721.71 665.8,722.01 666.3,722.28 666.8,722.54 667.3,722.78 667.8,723 668.3,723.21 668.8,723.4 669.3,723.58 669.8,723.74 670.3,723.89 670.8,724.03 671.3,724.16 671.8,724.28 672.3,724.39 672.8,724.49 673.3,724.58 673.8,724.67 674.3,724.74 674.8,724.82 675.3,724.88 675.8,724.95 676.3,725 676.8,725.05 677.3,725.1 677.8,725.15" fill="none" stroke="#5a8fd0" stroke-width="0.5" stroke-linejoin="round" opacity="1.0"/>
<polyline points="562.8,722.57 563.3,722.53 563.8,722.5 564.3,722.45 564.8,722.4 565.3,722.34 565.8,722.27 566.3,722.19 566.8,722.1 567.3,721.99 567.8,721.87 568.3,721.74 568.8,721.59 569.3,721.42 569.8,721.23 570.3,721.03 570.8,720.8 571.3,720.55 571.8,720.27 572.3,719.96 572.8,719.63 573.3,719.27 573.8,718.88 574.3,718.46 574.8,718 575.3,717.51 575.8,716.99 576.3,716.43 576.8,715.84 577.3,715.21 577.8,714.55 578.3,713.85 578.8,713.11 579.3,712.35 579.8,711.55 580.3,710.72 580.8,709.86 581.3,708.98 581.8,708.07 582.3,707.15 582.8,706.2 583.3,705.25 583.8,704.28 584.3,703.31 584.8,702.34 585.3,701.38 585.8,700.42 586.3,699.48 586.8,698.56 587.3,697.67 587.8,696.8 588.3,695.98 588.8,695.19 589.3,694.45 589.8,693.77 590.3,693.13 590.8,692.56 591.3,692.06 591.8,691.62 592.3,691.25 592.8,690.96 593.3,690.74 593.8,690.6 594.3,690.54 594.8,690.56 595.3,690.66 595.8,690.84 596.3,691.09 596.8,691.42 597.3,691.83 597.8,692.3 598.3,692.84 598.8,693.45 599.3,694.12 599.8,694.84 600.3,695.61 600.8,696.42 601.3,697.28 601.8,698.17 602.3,699.1 602.8,700.04 603.3,701.01 603.8,701.99 604.3,702.98 604.8,703.97 605.3,704.96 605.8,705.95 606.3,706.93 606.8,707.89 607.3,708.83 607.8,709.76 608.3,710.66 608.8,711.53 609.3,712.38 609.8,713.19 610.3,713.98 610.8,714.73 611.3,715.44 611.8,716.12 612.3,716.76 612.8,717.37 613.3,717.95 613.8,718.49 614.3,718.99 614.8,719.46 615.3,719.9 615.8,720.31 616.3,720.69 616.8,721.03 617.3,721.35 617.8,721.65 618.3,721.92 618.8,722.17 619.3,722.39 619.8,722.6 620.3,722.79 620.8,722.95 621.3,723.11 621.8,723.25 622.3,723.37 622.8,723.48 623.3,723.58 623.8,723.68 624.3,723.76 624.8,723.83 625.3,723.9 625.8,723.95 626.3,724.01" fill="none" stroke="#f2c744" stroke-width="0.5" stroke-linejoin="round" opacity="1.0"/>
<text x="581.5" y="675" font-size="5.2" text-anchor="middle" font-weight="normal" font-family='"Liberation Serif", serif' fill="#111" stroke="#111" stroke-width="0.12">C-O-C</text>
<line x1="594" y1="692" x2="585" y2="677" stroke="#111" stroke-width="0.65"/>
<polygon points="585,677 587.86,679.25 585.63,680.58" fill="#111"/>
<line x1="629.5" y1="629.5" x2="635" y2="625" stroke="#111" stroke-width="0.65"/>
<polygon points="635,625 633.19,628.16 631.55,626.15" fill="#111"/>
<text x="635" y="626.6" font-size="5.6" font-family='"Liberation Serif", serif' fill="#111" stroke="#111" stroke-width="0.1">Al<tspan font-size="3.7" dy="1">2</tspan><tspan dy="-1">O</tspan><tspan font-size="3.7" dy="1">3</tspan></text>
</svg>
</body></html>
